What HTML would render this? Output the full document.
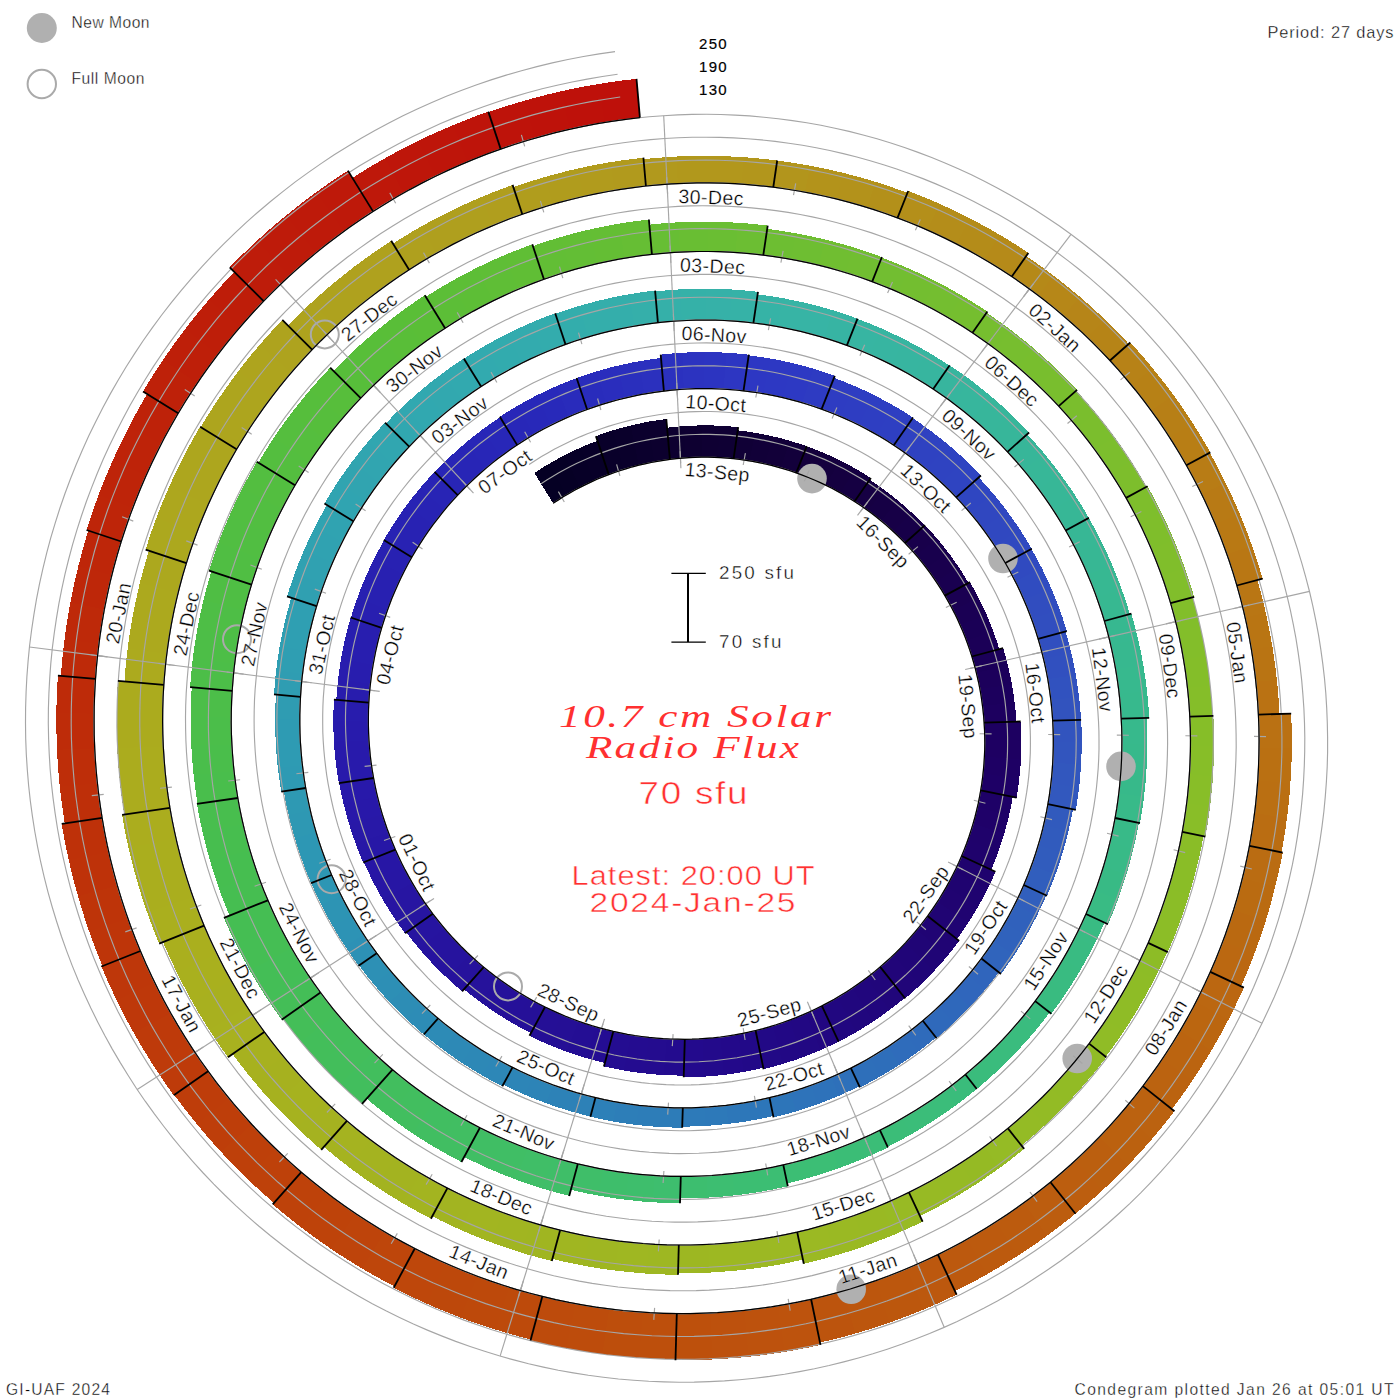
<!DOCTYPE html>
<html><head><meta charset="utf-8"><title>10.7 cm Solar Radio Flux Condegram</title>
<style>
html,body{margin:0;padding:0;background:#fff;}
body{width:1400px;height:1400px;overflow:hidden;font-family:"Liberation Sans",sans-serif;}
svg{display:block;}
text{font-family:"Liberation Sans",sans-serif;}
.ser{font-family:"Liberation Serif",serif;font-style:italic;}
</style></head><body>
<svg width="1400" height="1400" viewBox="0 0 1400 1400">
<rect width="1400" height="1400" fill="#fff"/>
<g shape-rendering="crispEdges">
<polygon points="553.1,503.3 557.5,500.4 561.9,497.7 566.3,495.0 549.4,463.6 544.3,466.6 539.3,469.7 534.4,473.0" fill="#050024"/>
<polygon points="566.3,495.0 570.8,492.3 575.4,489.8 580.0,487.4 564.9,455.1 559.7,457.8 554.5,460.6 549.4,463.6" fill="#060025"/>
<polygon points="580.0,487.4 584.7,485.0 589.4,482.8 594.1,480.6 581.0,447.4 575.6,449.9 570.2,452.4 564.9,455.1" fill="#070027"/>
<polygon points="594.1,480.6 598.9,478.5 603.8,476.5 608.7,474.6 597.4,440.8 591.9,442.9 586.4,445.1 581.0,447.4" fill="#080028"/>
<polygon points="608.7,474.6 613.6,472.8 618.6,471.1 623.6,469.5 613.1,430.3 607.3,432.2 601.6,434.1 595.9,436.1" fill="#09002a"/>
<polygon points="623.6,469.5 628.6,468.0 633.7,466.6 638.8,465.2 630.6,425.5 624.7,427.0 618.9,428.6 613.1,430.3" fill="#0a002b"/>
<polygon points="638.8,465.2 643.9,464.0 649.0,462.9 654.2,461.9 648.3,421.7 642.4,422.9 636.5,424.2 630.6,425.5" fill="#0b002d"/>
<polygon points="654.2,461.9 659.4,460.9 664.6,460.1 669.9,459.4 666.3,419.0 660.3,419.8 654.3,420.7 648.3,421.7" fill="#0c002e"/>
<polygon points="669.9,459.4 675.1,458.8 680.4,458.3 685.7,457.8 684.8,426.0 678.9,426.5 673.0,427.0 667.1,427.7" fill="#0d0030"/>
<polygon points="685.7,457.8 691.0,457.5 696.3,457.3 701.6,457.2 702.5,425.4 696.6,425.5 690.7,425.7 684.8,426.0" fill="#0e0031"/>
<polygon points="701.6,457.2 706.9,457.2 712.3,457.3 717.6,457.5 720.4,425.8 714.4,425.5 708.5,425.4 702.5,425.4" fill="#0f0033"/>
<polygon points="717.6,457.5 722.9,457.8 728.2,458.2 733.6,458.7 738.2,427.2 732.2,426.6 726.3,426.2 720.4,425.8" fill="#0f0034"/>
<polygon points="733.6,458.7 738.9,459.3 744.2,460.0 749.5,460.9 755.2,432.8 749.4,431.9 743.6,431.1 737.7,430.4" fill="#100036"/>
<polygon points="749.5,460.9 754.7,461.8 760.0,462.8 765.2,464.0 772.6,436.3 766.9,435.0 761.1,433.8 755.2,432.8" fill="#110038"/>
<polygon points="765.2,464.0 770.5,465.2 775.7,466.5 780.8,468.0 789.9,440.8 784.1,439.1 778.4,437.7 772.6,436.3" fill="#120039"/>
<polygon points="780.8,468.0 786.0,469.5 791.1,471.1 796.2,472.9 806.8,446.2 801.2,444.3 795.5,442.5 789.9,440.8" fill="#13003b"/>
<polygon points="796.2,472.9 801.3,474.7 806.3,476.7 811.3,478.7 823.4,452.8 817.9,450.5 812.4,448.4 806.8,446.3" fill="#14003c"/>
<polygon points="811.3,478.7 816.3,480.8 821.2,483.1 826.1,485.4 839.7,460.3 834.3,457.7 828.9,455.2 823.4,452.8" fill="#14003e"/>
<polygon points="826.1,485.4 831.0,487.8 835.8,490.4 840.5,493.0 855.5,468.7 850.3,465.8 845.0,463.0 839.7,460.3" fill="#150040"/>
<polygon points="840.5,493.0 845.2,495.7 849.9,498.5 854.5,501.4 870.9,478.0 865.8,474.8 860.7,471.7 855.5,468.7" fill="#150042"/>
<polygon points="854.5,501.4 859.0,504.4 863.5,507.5 868.0,510.6 884.3,489.9 879.5,486.4 874.6,483.1 869.6,479.8" fill="#160043"/>
<polygon points="868.0,510.6 872.3,513.9 876.6,517.2 880.9,520.7 898.5,500.9 893.8,497.2 889.1,493.5 884.3,489.9" fill="#160045"/>
<polygon points="880.9,520.7 885.1,524.2 889.2,527.8 893.3,531.5 911.9,512.8 907.5,508.8 903.0,504.8 898.5,500.9" fill="#170047"/>
<polygon points="893.3,531.5 897.3,535.2 901.2,539.1 905.0,543.0 924.7,525.4 920.5,521.1 916.3,516.9 911.9,512.8" fill="#170049"/>
<polygon points="905.0,543.0 908.8,547.0 912.5,551.1 916.1,555.2 937.1,538.6 933.2,534.0 929.2,529.5 925.0,525.1" fill="#18004b"/>
<polygon points="916.1,555.2 919.6,559.4 923.1,563.7 926.5,568.1 948.4,552.7 944.8,547.9 941.0,543.2 937.1,538.6" fill="#18004d"/>
<polygon points="926.5,568.1 929.8,572.5 933.0,577.0 936.1,581.5 958.9,567.5 955.5,562.5 952.0,557.5 948.4,552.7" fill="#19004e"/>
<polygon points="936.1,581.5 939.1,586.2 942.1,590.8 944.9,595.6 968.5,582.8 965.4,577.7 962.2,572.5 958.9,567.5" fill="#190050"/>
<polygon points="944.9,595.6 947.7,600.4 950.4,605.2 953.0,610.2 978.7,598.1 975.9,592.7 973.0,587.4 970.0,582.1" fill="#1a0052"/>
<polygon points="953.0,610.2 955.5,615.1 957.8,620.1 960.1,625.2 986.6,614.7 984.1,609.1 981.4,603.6 978.7,598.1" fill="#1a0054"/>
<polygon points="960.1,625.2 962.3,630.3 964.5,635.5 966.5,640.7 993.4,631.7 991.3,626.0 989.0,620.3 986.6,614.7" fill="#1a0056"/>
<polygon points="966.5,640.7 968.4,645.9 970.2,651.2 971.9,656.5 999.3,649.2 997.5,643.3 995.5,637.5 993.4,631.7" fill="#1b0057"/>
<polygon points="971.9,656.5 973.5,661.9 975.0,667.3 976.4,672.7 1008.0,666.1 1006.5,660.1 1004.9,654.1 1003.1,648.1" fill="#1b0059"/>
<polygon points="976.4,672.7 977.6,678.1 978.8,683.6 979.9,689.1 1011.9,684.4 1010.7,678.3 1009.4,672.2 1008.0,666.1" fill="#1c005b"/>
<polygon points="979.9,689.1 980.9,694.7 981.7,700.2 982.5,705.8 1014.7,703.0 1013.9,696.8 1013.0,690.6 1011.9,684.4" fill="#1c005d"/>
<polygon points="982.5,705.8 983.1,711.4 983.7,717.0 984.1,722.6 1016.4,721.7 1016.0,715.4 1015.4,709.2 1014.7,703.0" fill="#1d005f"/>
<polygon points="984.1,722.6 984.4,728.2 984.6,733.9 984.7,739.5 1021.4,740.6 1021.3,734.2 1021.1,727.9 1020.7,721.5" fill="#1d0061"/>
<polygon points="984.7,739.5 984.7,745.2 984.6,750.8 984.4,756.5 1020.9,759.7 1021.2,753.3 1021.3,746.9 1021.4,740.6" fill="#1e0062"/>
<polygon points="984.4,756.5 984.1,762.1 983.6,767.8 983.1,773.4 1019.3,778.7 1019.9,772.4 1020.5,766.0 1020.9,759.7" fill="#1e0064"/>
<polygon points="983.1,773.4 982.4,779.1 981.6,784.7 980.7,790.3 1016.6,797.7 1017.6,791.4 1018.5,785.1 1019.3,778.7" fill="#1e0066"/>
<polygon points="980.7,790.3 979.7,795.9 978.6,801.5 977.4,807.1 1009.0,815.5 1010.4,809.3 1011.6,803.1 1012.8,796.9" fill="#1e0167"/>
<polygon points="977.4,807.1 976.1,812.6 974.7,818.1 973.1,823.6 1004.2,833.9 1005.9,827.8 1007.5,821.7 1009.0,815.5" fill="#1f0169"/>
<polygon points="973.1,823.6 971.5,829.1 969.7,834.6 967.9,840.0 998.2,852.0 1000.3,846.0 1002.3,840.0 1004.2,833.9" fill="#1f026b"/>
<polygon points="967.9,840.0 965.9,845.3 963.8,850.7 961.6,856.0 991.3,869.8 993.7,863.9 996.0,858.0 998.2,852.0" fill="#1f026c"/>
<polygon points="961.6,856.0 959.4,861.3 957.0,866.5 954.5,871.7 987.4,889.4 990.2,883.6 992.9,877.7 995.5,871.8" fill="#1f026e"/>
<polygon points="954.5,871.7 951.9,876.8 949.2,881.9 946.4,886.9 978.2,906.5 981.4,900.9 984.4,895.1 987.4,889.4" fill="#1f0370"/>
<polygon points="946.4,886.9 943.5,891.9 940.5,896.8 937.4,901.7 968.0,923.1 971.5,917.7 974.9,912.1 978.2,906.5" fill="#200371"/>
<polygon points="937.4,901.7 934.3,906.5 931.0,911.3 927.6,916.0 956.9,939.1 960.7,933.9 964.4,928.5 968.0,923.1" fill="#200473"/>
<polygon points="927.6,916.0 924.1,920.6 920.6,925.2 916.9,929.7 947.0,956.4 951.2,951.4 955.2,946.2 959.2,940.9" fill="#200474"/>
<polygon points="916.9,929.7 913.2,934.1 909.4,938.5 905.5,942.8 933.9,971.2 938.4,966.4 942.7,961.5 947.0,956.4" fill="#200576"/>
<polygon points="905.5,942.8 901.5,947.0 897.4,951.2 893.2,955.2 920.0,985.3 924.7,980.7 929.4,976.0 933.9,971.2" fill="#200578"/>
<polygon points="893.2,955.2 889.0,959.2 884.6,963.1 880.2,966.9 905.2,998.5 910.2,994.2 915.1,989.8 920.0,985.3" fill="#210579"/>
<polygon points="880.2,966.9 875.8,970.7 871.2,974.3 866.6,977.9 889.2,1010.2 894.5,1006.2 899.6,1002.1 904.7,997.9" fill="#21067b"/>
<polygon points="866.6,977.9 861.9,981.4 857.1,984.8 852.3,988.1 873.0,1021.7 878.5,1018.0 883.9,1014.2 889.2,1010.2" fill="#21067d"/>
<polygon points="852.3,988.1 847.4,991.3 842.4,994.4 837.4,997.4 856.1,1032.2 861.8,1028.8 867.4,1025.3 873.0,1021.7" fill="#21077e"/>
<polygon points="837.4,997.4 832.3,1000.3 827.1,1003.2 821.9,1005.9 838.6,1041.7 844.5,1038.6 850.3,1035.5 856.1,1032.2" fill="#210780"/>
<polygon points="821.9,1005.9 816.6,1008.5 811.3,1011.1 805.9,1013.5 820.5,1050.1 826.6,1047.4 832.6,1044.6 838.6,1041.6" fill="#220781"/>
<polygon points="805.9,1013.5 800.5,1015.8 795.0,1018.0 789.5,1020.1 801.9,1057.6 808.2,1055.2 814.4,1052.7 820.5,1050.1" fill="#220883"/>
<polygon points="789.5,1020.1 784.0,1022.1 778.4,1024.0 772.7,1025.8 782.9,1063.9 789.3,1061.9 795.7,1059.8 801.9,1057.6" fill="#220885"/>
<polygon points="772.7,1025.8 767.0,1027.5 761.3,1029.1 755.6,1030.5 763.6,1069.2 770.1,1067.6 776.5,1065.8 782.9,1063.9" fill="#220986"/>
<polygon points="755.6,1030.5 749.8,1031.9 744.0,1033.1 738.2,1034.3 743.7,1071.9 750.2,1070.7 756.8,1069.3 763.3,1067.8" fill="#220988"/>
<polygon points="738.2,1034.3 732.3,1035.3 726.4,1036.2 720.5,1037.0 723.8,1074.9 730.5,1074.0 737.1,1073.0 743.7,1071.9" fill="#23098a"/>
<polygon points="720.5,1037.0 714.6,1037.6 708.7,1038.2 702.7,1038.6 703.8,1076.7 710.5,1076.2 717.2,1075.6 723.8,1074.9" fill="#230a8b"/>
<polygon points="702.7,1038.6 696.7,1039.0 690.8,1039.2 684.8,1039.3 683.7,1077.3 690.4,1077.2 697.1,1077.0 703.8,1076.7" fill="#230a8d"/>
<polygon points="684.8,1039.3 678.8,1039.3 672.8,1039.1 666.8,1038.9 663.7,1075.0 670.4,1075.3 677.0,1075.5 683.7,1075.6" fill="#230b8e"/>
<polygon points="666.8,1038.9 660.8,1038.5 654.9,1038.0 648.9,1037.4 643.6,1073.3 650.3,1074.0 657.0,1074.6 663.7,1075.0" fill="#240c8f"/>
<polygon points="648.9,1037.4 642.9,1036.7 637.0,1035.9 631.0,1034.9 623.7,1070.5 630.3,1071.5 637.0,1072.5 643.6,1073.3" fill="#240c90"/>
<polygon points="631.0,1034.9 625.1,1033.9 619.2,1032.7 613.3,1031.4 603.9,1066.4 610.5,1067.9 617.1,1069.2 623.7,1070.5" fill="#240d91"/>
<polygon points="613.3,1031.4 607.4,1030.0 601.6,1028.4 595.8,1026.8 585.5,1057.9 591.9,1059.7 598.3,1061.4 604.8,1063.0" fill="#240d93"/>
<polygon points="595.8,1026.8 590.0,1025.0 584.2,1023.2 578.5,1021.2 566.4,1051.6 572.7,1053.8 579.1,1055.9 585.5,1057.9" fill="#240e94"/>
<polygon points="578.5,1021.2 572.8,1019.1 567.2,1016.9 561.6,1014.6 547.7,1044.3 553.9,1046.8 560.2,1049.3 566.4,1051.6" fill="#250f95"/>
<polygon points="561.6,1014.6 556.0,1012.2 550.5,1009.6 545.0,1007.0 529.5,1035.8 535.5,1038.7 541.6,1041.6 547.7,1044.3" fill="#250f96"/>
<polygon points="545.0,1007.0 539.6,1004.2 534.2,1001.4 528.9,998.4 513.3,1023.6 519.2,1026.9 525.0,1030.0 531.0,1033.0" fill="#251098"/>
<polygon points="528.9,998.4 523.6,995.3 518.4,992.2 513.3,988.9 496.3,1013.1 501.9,1016.7 507.6,1020.2 513.3,1023.6" fill="#251099"/>
<polygon points="513.3,988.9 508.2,985.5 503.1,982.0 498.2,978.5 479.8,1001.7 485.2,1005.6 490.7,1009.4 496.3,1013.1" fill="#25119a"/>
<polygon points="498.2,978.5 493.3,974.8 488.5,971.0 483.7,967.1 464.0,989.3 469.2,993.5 474.5,997.7 479.8,1001.7" fill="#26129b"/>
<polygon points="483.7,967.1 479.0,963.2 474.4,959.1 469.9,955.0 447.0,977.9 451.9,982.5 457.0,987.0 462.1,991.4" fill="#26129c"/>
<polygon points="469.9,955.0 465.4,950.8 461.1,946.4 456.8,942.0 432.5,963.6 437.3,968.5 442.1,973.2 447.0,977.9" fill="#26139e"/>
<polygon points="456.8,942.0 452.6,937.5 448.4,932.9 444.4,928.3 419.0,948.4 423.4,953.6 427.9,958.6 432.5,963.6" fill="#26139f"/>
<polygon points="444.4,928.3 440.5,923.5 436.6,918.7 432.8,913.8 406.3,932.4 410.4,937.8 414.6,943.2 419.0,948.4" fill="#2614a0"/>
<polygon points="432.8,913.8 429.2,908.8 425.6,903.8 422.1,898.7 393.3,916.5 397.1,922.2 401.0,927.8 405.1,933.3" fill="#2715a1"/>
<polygon points="422.1,898.7 418.7,893.5 415.5,888.2 412.3,882.9 382.4,899.0 385.9,904.9 389.5,910.7 393.3,916.5" fill="#2715a2"/>
<polygon points="412.3,882.9 409.2,877.5 406.2,872.1 403.4,866.5 372.6,880.9 375.8,887.0 379.0,893.0 382.4,899.0" fill="#2716a4"/>
<polygon points="403.4,866.5 400.6,861.0 397.9,855.4 395.4,849.7 363.9,862.2 366.7,868.5 369.6,874.7 372.6,880.9" fill="#2716a5"/>
<polygon points="395.4,849.7 392.9,843.9 390.6,838.2 388.4,832.3 355.5,843.2 357.9,849.7 360.5,856.1 363.2,862.5" fill="#2717a6"/>
<polygon points="388.4,832.3 386.3,826.4 384.3,820.5 382.4,814.6 348.9,823.5 351.0,830.2 353.2,836.7 355.5,843.2" fill="#2818a7"/>
<polygon points="382.4,814.6 380.6,808.6 379.0,802.5 377.5,796.5 343.5,803.5 345.2,810.2 347.0,816.9 348.9,823.5" fill="#2818a9"/>
<polygon points="377.5,796.5 376.0,790.3 374.7,784.2 373.6,778.0 339.2,783.1 340.5,789.9 341.9,796.7 343.5,803.5" fill="#2819aa"/>
<polygon points="373.6,778.0 372.5,771.9 371.6,765.6 370.7,759.4 335.8,762.5 336.7,769.4 337.7,776.3 338.9,783.1" fill="#281aab"/>
<polygon points="370.7,759.4 370.0,753.2 369.5,746.9 369.0,740.6 334.0,741.6 334.4,748.6 335.1,755.5 335.8,762.5" fill="#281aab"/>
<polygon points="369.0,740.6 368.7,734.3 368.5,728.0 368.4,721.7 333.3,720.7 333.4,727.7 333.6,734.6 334.0,741.6" fill="#281bac"/>
<polygon points="368.4,721.7 368.4,715.4 368.6,709.1 368.8,702.7 333.9,699.7 333.6,706.7 333.4,713.7 333.3,720.7" fill="#281cad"/>
<polygon points="368.8,702.7 369.2,696.4 369.8,690.1 370.4,683.8 338.1,679.1 337.4,686.0 336.8,692.9 336.3,699.9" fill="#281cad"/>
<polygon points="370.4,683.8 371.2,677.5 372.1,671.2 373.1,665.0 341.1,658.4 340.0,665.2 339.0,672.1 338.1,679.1" fill="#281dae"/>
<polygon points="373.1,665.0 374.2,658.7 375.5,652.5 376.9,646.3 345.3,637.8 343.8,644.6 342.4,651.5 341.1,658.4" fill="#281eaf"/>
<polygon points="376.9,646.3 378.4,640.1 380.0,633.9 381.7,627.8 350.7,617.5 348.8,624.2 347.0,631.0 345.3,637.8" fill="#281eaf"/>
<polygon points="381.7,627.8 383.6,621.7 385.6,615.6 387.7,609.6 357.5,597.6 355.1,604.2 352.9,610.9 350.9,617.6" fill="#281fb0"/>
<polygon points="387.7,609.6 389.9,603.6 392.2,597.6 394.7,591.7 365.2,578.0 362.5,584.5 359.9,591.0 357.5,597.6" fill="#2820b1"/>
<polygon points="394.7,591.7 397.2,585.9 399.9,580.0 402.7,574.3 374.1,558.8 371.0,565.2 368.1,571.6 365.2,578.0" fill="#2820b1"/>
<polygon points="402.7,574.3 405.6,568.6 408.7,562.9 411.8,557.3 384.1,540.2 380.7,546.4 377.3,552.6 374.1,558.8" fill="#2821b2"/>
<polygon points="411.8,557.3 415.0,551.7 418.4,546.2 421.9,540.8 394.9,522.0 391.1,527.9 387.4,534.0 383.8,540.0" fill="#2822b3"/>
<polygon points="421.9,540.8 425.4,535.5 429.1,530.2 432.9,524.9 407.1,504.6 402.9,510.3 398.9,516.1 394.9,522.0" fill="#2822b3"/>
<polygon points="432.9,524.9 436.8,519.8 440.8,514.7 444.8,509.7 420.3,487.9 415.8,493.4 411.4,498.9 407.1,504.6" fill="#2823b4"/>
<polygon points="444.8,509.7 449.0,504.8 453.3,499.9 457.7,495.2 434.5,471.9 429.6,477.2 424.9,482.5 420.3,487.9" fill="#2824b5"/>
<polygon points="457.7,495.2 462.2,490.5 466.7,485.9 471.4,481.4 449.7,457.1 444.6,462.0 439.6,467.0 434.7,472.1" fill="#2825b6"/>
<polygon points="471.4,481.4 476.1,476.9 481.0,472.6 485.9,468.4 465.7,442.8 460.3,447.5 455.0,452.2 449.7,457.1" fill="#2825b6"/>
<polygon points="485.9,468.4 490.9,464.2 496.0,460.2 501.1,456.2 482.5,429.5 476.8,433.9 471.2,438.3 465.7,442.8" fill="#2826b7"/>
<polygon points="501.1,456.2 506.4,452.3 511.7,448.6 517.1,444.9 500.0,417.2 494.1,421.2 488.2,425.3 482.5,429.5" fill="#2827b8"/>
<polygon points="517.1,444.9 522.6,441.4 528.1,437.9 533.8,434.6 518.1,405.5 511.9,409.1 505.8,412.9 499.8,416.8" fill="#2827b8"/>
<polygon points="533.8,434.6 539.4,431.4 545.2,428.2 551.0,425.2 537.0,395.2 530.6,398.5 524.3,401.9 518.1,405.5" fill="#2828b9"/>
<polygon points="551.0,425.2 556.9,422.3 562.8,419.5 568.8,416.8 556.6,386.1 550.0,389.0 543.5,392.1 537.0,395.2" fill="#2829ba"/>
<polygon points="568.8,416.8 574.8,414.3 580.9,411.8 587.1,409.5 576.7,378.1 569.9,380.6 563.2,383.3 556.6,386.1" fill="#292bbb"/>
<polygon points="587.1,409.5 593.3,407.3 599.5,405.2 605.8,403.2 597.2,371.2 590.3,373.4 583.5,375.6 576.6,378.0" fill="#292cbc"/>
<polygon points="605.8,403.2 612.1,401.4 618.5,399.7 624.9,398.1 618.2,365.6 611.1,367.3 604.2,369.2 597.2,371.2" fill="#2a2dbd"/>
<polygon points="624.9,398.1 631.3,396.6 637.8,395.2 644.3,394.0 639.5,361.2 632.3,362.5 625.2,364.0 618.2,365.6" fill="#2a2fbd"/>
<polygon points="644.3,394.0 650.8,392.9 657.3,391.9 663.9,391.1 661.0,358.0 653.8,358.9 646.6,360.0 639.5,361.2" fill="#2b30be"/>
<polygon points="663.9,391.1 670.5,390.3 677.1,389.7 683.7,389.3 682.6,352.7 675.3,353.2 668.0,353.9 660.7,354.6" fill="#2b31bf"/>
<polygon points="683.7,389.3 690.3,388.9 697.0,388.7 703.6,388.6 704.7,352.1 697.3,352.2 690.0,352.4 682.6,352.7" fill="#2c33c0"/>
<polygon points="703.6,388.6 710.3,388.7 716.9,388.8 723.6,389.2 726.7,352.7 719.4,352.4 712.0,352.2 704.7,352.1" fill="#2c34c1"/>
<polygon points="723.6,389.2 730.2,389.6 736.9,390.1 743.5,390.8 748.8,354.7 741.4,353.9 734.1,353.2 726.7,352.7" fill="#2d36c2"/>
<polygon points="743.5,390.8 750.1,391.7 756.7,392.6 763.3,393.7 770.6,358.6 763.3,357.3 756.0,356.3 748.7,355.4" fill="#2d37c3"/>
<polygon points="763.3,393.7 769.9,394.9 776.4,396.2 783.0,397.7 792.3,363.0 785.0,361.4 777.8,359.9 770.6,358.6" fill="#2d38c3"/>
<polygon points="783.0,397.7 789.5,399.3 796.0,401.0 802.4,402.8 813.7,368.8 806.6,366.7 799.4,364.8 792.3,363.0" fill="#2d39c3"/>
<polygon points="802.4,402.8 808.8,404.8 815.2,406.9 821.6,409.1 834.8,375.8 827.8,373.3 820.8,371.0 813.7,368.8" fill="#2e3bc2"/>
<polygon points="821.6,409.1 827.9,411.5 834.1,413.9 840.3,416.5 854.5,386.0 847.7,383.2 840.9,380.4 834.0,377.9" fill="#2e3cc2"/>
<polygon points="840.3,416.5 846.5,419.2 852.6,422.1 858.7,425.0 874.6,395.4 868.0,392.1 861.3,389.0 854.5,386.0" fill="#2e3dc2"/>
<polygon points="858.7,425.0 864.7,428.1 870.6,431.3 876.5,434.6 894.2,406.0 887.7,402.3 881.2,398.8 874.6,395.4" fill="#2e3ec2"/>
<polygon points="876.5,434.6 882.3,438.0 888.1,441.6 893.8,445.2 913.1,417.6 906.9,413.6 900.6,409.7 894.2,406.0" fill="#2e3fc2"/>
<polygon points="893.8,445.2 899.4,449.0 905.0,452.8 910.5,456.8 930.9,431.0 924.9,426.6 918.9,422.3 912.7,418.2" fill="#2f41c1"/>
<polygon points="910.5,456.8 915.9,460.9 921.2,465.1 926.5,469.4 948.4,444.8 942.7,440.1 936.8,435.5 930.9,431.0" fill="#2f42c1"/>
<polygon points="926.5,469.4 931.7,473.8 936.8,478.3 941.8,483.0 965.1,459.6 959.6,454.6 954.1,449.6 948.4,444.8" fill="#2f43c1"/>
<polygon points="941.8,483.0 946.7,487.7 951.5,492.5 956.2,497.4 980.9,475.5 975.7,470.1 970.4,464.8 965.1,459.6" fill="#2f44c1"/>
<polygon points="956.2,497.4 960.9,502.4 965.4,507.5 969.9,512.6 993.5,494.0 988.7,488.4 983.7,482.8 978.7,477.4" fill="#2f46c1"/>
<polygon points="969.9,512.6 974.2,517.9 978.5,523.3 982.6,528.7 1007.3,511.5 1002.8,505.5 998.2,499.7 993.5,494.0" fill="#3047c0"/>
<polygon points="982.6,528.7 986.7,534.2 990.6,539.8 994.5,545.5 1020.1,529.7 1015.9,523.6 1011.7,517.5 1007.3,511.5" fill="#3048c0"/>
<polygon points="994.5,545.5 998.2,551.3 1001.8,557.1 1005.3,563.0 1031.8,548.7 1028.0,542.3 1024.1,536.0 1020.1,529.7" fill="#3049c0"/>
<polygon points="1005.3,563.0 1008.7,569.0 1012.0,575.0 1015.1,581.2 1042.1,568.6 1038.7,562.0 1035.1,555.4 1031.5,548.9" fill="#304ac0"/>
<polygon points="1015.1,581.2 1018.2,587.3 1021.1,593.6 1023.9,599.9 1051.5,588.9 1048.5,582.1 1045.3,575.3 1042.1,568.6" fill="#304cc0"/>
<polygon points="1023.9,599.9 1026.6,606.2 1029.1,612.6 1031.6,619.1 1059.8,609.7 1057.2,602.7 1054.4,595.8 1051.5,588.9" fill="#314dbf"/>
<polygon points="1031.6,619.1 1033.9,625.6 1036.1,632.1 1038.1,638.8 1066.8,631.1 1064.6,623.9 1062.3,616.8 1059.8,609.7" fill="#314ebf"/>
<polygon points="1038.1,638.8 1040.1,645.4 1041.9,652.1 1043.5,658.8 1071.3,653.1 1069.5,645.8 1067.6,638.6 1065.5,631.4" fill="#314fbf"/>
<polygon points="1043.5,658.8 1045.1,665.6 1046.5,672.4 1047.8,679.2 1075.8,675.1 1074.5,667.7 1073.0,660.4 1071.3,653.1" fill="#3150bf"/>
<polygon points="1047.8,679.2 1048.9,686.0 1049.9,692.9 1050.8,699.8 1079.1,697.3 1078.1,689.9 1077.1,682.5 1075.8,675.1" fill="#3152bf"/>
<polygon points="1050.8,699.8 1051.6,706.7 1052.2,713.6 1052.7,720.6 1081.0,719.8 1080.5,712.3 1079.9,704.8 1079.1,697.3" fill="#3253be"/>
<polygon points="1052.7,720.6 1053.0,727.6 1053.2,734.5 1053.3,741.5 1081.7,742.3 1081.7,734.8 1081.5,727.3 1081.1,719.8" fill="#3254be"/>
<polygon points="1053.3,741.5 1053.3,748.5 1053.1,755.5 1052.7,762.5 1081.1,764.9 1081.4,757.4 1081.7,749.9 1081.7,742.3" fill="#3255be"/>
<polygon points="1052.7,762.5 1052.3,769.4 1051.7,776.4 1050.9,783.4 1079.1,787.5 1079.9,780.0 1080.5,772.5 1081.1,764.9" fill="#3257be"/>
<polygon points="1050.9,783.4 1050.1,790.3 1049.1,797.3 1047.9,804.2 1075.8,809.9 1077.0,802.5 1078.1,795.0 1079.1,787.5" fill="#3258be"/>
<polygon points="1047.9,804.2 1046.6,811.1 1045.2,818.0 1043.7,824.8 1068.4,831.4 1070.0,824.1 1071.6,816.7 1073.0,809.3" fill="#315abd"/>
<polygon points="1043.7,824.8 1042.0,831.6 1040.2,838.4 1038.2,845.2 1062.5,853.2 1064.6,846.0 1066.6,838.7 1068.4,831.4" fill="#315bbd"/>
<polygon points="1038.2,845.2 1036.2,851.9 1034.0,858.6 1031.6,865.3 1055.4,874.7 1057.9,867.6 1060.3,860.4 1062.5,853.2" fill="#315cbd"/>
<polygon points="1031.6,865.3 1029.1,871.9 1026.5,878.5 1023.8,885.0 1047.0,895.8 1049.9,888.8 1052.7,881.8 1055.4,874.7" fill="#315ebd"/>
<polygon points="1023.8,885.0 1021.0,891.4 1018.0,897.8 1014.9,904.2 1036.8,916.0 1040.1,909.2 1043.3,902.4 1046.4,895.5" fill="#315fbd"/>
<polygon points="1014.9,904.2 1011.6,910.5 1008.3,916.7 1004.8,922.9 1026.0,936.0 1029.7,929.4 1033.3,922.8 1036.8,916.0" fill="#3061bc"/>
<polygon points="1004.8,922.9 1001.2,929.0 997.5,935.1 993.6,941.0 1014.1,955.3 1018.2,949.0 1022.2,942.5 1026.0,936.0" fill="#3062bc"/>
<polygon points="993.6,941.0 989.7,946.9 985.6,952.8 981.4,958.5 1001.0,974.0 1005.5,967.9 1009.8,961.6 1014.1,955.3" fill="#3064bc"/>
<polygon points="981.4,958.5 977.1,964.2 972.7,969.8 968.2,975.3 984.8,990.1 989.6,984.3 994.3,978.3 998.9,972.3" fill="#3065bc"/>
<polygon points="968.2,975.3 963.6,980.7 958.8,986.0 954.0,991.3 969.7,1007.0 974.9,1001.5 979.9,995.8 984.8,990.1" fill="#3066bc"/>
<polygon points="954.0,991.3 949.0,996.4 944.0,1001.5 938.8,1006.5 953.6,1023.1 959.1,1017.8 964.5,1012.5 969.7,1007.0" fill="#2f68bb"/>
<polygon points="938.8,1006.5 933.6,1011.3 928.2,1016.1 922.8,1020.7 936.6,1038.2 942.4,1033.3 948.1,1028.2 953.6,1023.1" fill="#2f69bb"/>
<polygon points="922.8,1020.7 917.3,1025.3 911.6,1029.8 905.9,1034.1 918.2,1051.6 924.2,1047.0 930.2,1042.3 936.1,1037.5" fill="#2f6bbb"/>
<polygon points="905.9,1034.1 900.1,1038.3 894.3,1042.5 888.3,1046.5 899.5,1064.7 905.8,1060.4 912.1,1056.1 918.2,1051.6" fill="#2f6cbb"/>
<polygon points="888.3,1046.5 882.2,1050.4 876.1,1054.1 869.9,1057.8 880.1,1076.6 886.6,1072.8 893.1,1068.8 899.5,1064.7" fill="#2e6eba"/>
<polygon points="869.9,1057.8 863.7,1061.3 857.3,1064.8 850.9,1068.1 859.9,1087.4 866.7,1084.0 873.4,1080.4 880.1,1076.6" fill="#2e6fba"/>
<polygon points="850.9,1068.1 844.4,1071.2 837.9,1074.3 831.3,1077.2 838.7,1095.9 845.7,1092.8 852.6,1089.6 859.4,1086.3" fill="#2e70ba"/>
<polygon points="831.3,1077.2 824.6,1080.0 817.9,1082.7 811.1,1085.2 817.4,1104.3 824.6,1101.6 831.7,1098.8 838.7,1095.9" fill="#2e72ba"/>
<polygon points="811.1,1085.2 804.3,1087.7 797.4,1089.9 790.5,1092.1 795.7,1111.5 803.0,1109.2 810.2,1106.8 817.4,1104.3" fill="#2e73ba"/>
<polygon points="790.5,1092.1 783.5,1094.1 776.5,1096.0 769.5,1097.7 773.5,1117.4 781.0,1115.6 788.3,1113.6 795.7,1111.5" fill="#2d75b9"/>
<polygon points="769.5,1097.7 762.4,1099.3 755.3,1100.8 748.1,1102.1 750.8,1120.6 758.3,1119.2 765.8,1117.7 773.2,1116.0" fill="#2d76b9"/>
<polygon points="748.1,1102.1 740.9,1103.3 733.7,1104.4 726.5,1105.3 728.1,1123.9 735.7,1123.0 743.3,1121.9 750.8,1120.6" fill="#2d77b9"/>
<polygon points="726.5,1105.3 719.3,1106.1 712.0,1106.7 704.7,1107.2 705.3,1125.9 712.9,1125.4 720.5,1124.7 728.1,1123.9" fill="#2d79b9"/>
<polygon points="704.7,1107.2 697.4,1107.6 690.1,1107.8 682.8,1107.9 682.3,1126.5 689.9,1126.5 697.6,1126.2 705.3,1125.9" fill="#2d7ab9"/>
<polygon points="682.8,1107.9 675.5,1107.8 668.2,1107.6 660.9,1107.2 659.1,1127.0 666.8,1127.3 674.5,1127.6 682.2,1127.7" fill="#2d7cb8"/>
<polygon points="660.9,1107.2 653.5,1106.7 646.2,1106.1 638.9,1105.3 636.1,1124.9 643.8,1125.7 651.4,1126.4 659.1,1127.0" fill="#2d7db8"/>
<polygon points="638.9,1105.3 631.7,1104.4 624.4,1103.3 617.2,1102.1 613.2,1121.5 620.8,1122.8 628.4,1123.9 636.1,1124.9" fill="#2d7eb8"/>
<polygon points="617.2,1102.1 609.9,1100.8 602.7,1099.3 595.5,1097.6 590.4,1116.8 598.0,1118.5 605.5,1120.1 613.2,1121.5" fill="#2d80b8"/>
<polygon points="595.5,1097.6 588.4,1095.9 581.3,1094.0 574.2,1091.9 568.0,1110.5 575.5,1112.7 583.0,1114.7 590.5,1116.6" fill="#2d81b7"/>
<polygon points="574.2,1091.9 567.2,1089.7 560.2,1087.4 553.2,1085.0 546.0,1103.2 553.3,1105.8 560.6,1108.2 568.0,1110.5" fill="#2d82b7"/>
<polygon points="553.2,1085.0 546.3,1082.4 539.4,1079.6 532.6,1076.8 524.3,1094.5 531.5,1097.5 538.7,1100.4 546.0,1103.2" fill="#2d84b7"/>
<polygon points="532.6,1076.8 525.8,1073.8 519.1,1070.6 512.5,1067.4 503.2,1084.6 510.2,1088.0 517.2,1091.3 524.3,1094.5" fill="#2d85b7"/>
<polygon points="512.5,1067.4 505.9,1064.0 499.3,1060.4 492.9,1056.8 481.6,1075.1 488.4,1078.9 495.3,1082.7 502.3,1086.3" fill="#2d87b7"/>
<polygon points="492.9,1056.8 486.5,1053.0 480.2,1049.1 473.9,1045.1 461.6,1062.7 468.2,1066.9 474.9,1071.1 481.6,1075.1" fill="#2d88b6"/>
<polygon points="473.9,1045.1 467.7,1040.9 461.7,1036.7 455.6,1032.3 442.3,1049.1 448.7,1053.8 455.1,1058.3 461.6,1062.7" fill="#2d89b6"/>
<polygon points="455.6,1032.3 449.7,1027.8 443.9,1023.1 438.1,1018.4 423.8,1034.4 429.9,1039.4 436.1,1044.3 442.3,1049.1" fill="#2d8bb6"/>
<polygon points="438.1,1018.4 432.4,1013.5 426.9,1008.6 421.4,1003.5 406.2,1018.7 412.0,1024.1 417.8,1029.3 423.8,1034.5" fill="#2d8cb6"/>
<polygon points="421.4,1003.5 416.0,998.3 410.7,993.0 405.5,987.6 389.5,1001.9 394.9,1007.6 400.5,1013.2 406.2,1018.7" fill="#2d8db5"/>
<polygon points="405.5,987.6 400.5,982.1 395.5,976.5 390.6,970.8 373.7,984.2 378.9,990.2 384.1,996.1 389.5,1001.9" fill="#2d8fb5"/>
<polygon points="390.6,970.8 385.8,965.0 381.2,959.2 376.7,953.2 359.1,965.5 363.8,971.8 368.7,978.0 373.7,984.2" fill="#2d90b5"/>
<polygon points="376.7,953.2 372.2,947.1 367.9,940.9 363.7,934.7 345.0,946.2 349.4,952.8 354.0,959.4 358.6,965.8" fill="#2d91b5"/>
<polygon points="363.7,934.7 359.7,928.4 355.7,922.0 351.9,915.5 332.6,925.9 336.6,932.8 340.7,939.5 345.0,946.2" fill="#2d93b5"/>
<polygon points="351.9,915.5 348.2,908.9 344.6,902.3 341.2,895.5 321.3,904.8 324.9,911.9 328.7,919.0 332.6,925.9" fill="#2d94b4"/>
<polygon points="341.2,895.5 337.9,888.8 334.7,881.9 331.6,875.0 311.2,883.1 314.4,890.4 317.8,897.7 321.3,904.8" fill="#2d96b4"/>
<polygon points="331.6,875.0 328.7,868.0 325.9,861.0 323.3,853.9 302.3,860.9 305.0,868.4 308.0,875.8 311.1,883.2" fill="#2d97b4"/>
<polygon points="323.3,853.9 320.8,846.8 318.4,839.6 316.1,832.3 294.8,838.1 297.1,845.7 299.6,853.3 302.3,860.9" fill="#2d97b4"/>
<polygon points="316.1,832.3 314.0,825.0 312.1,817.7 310.3,810.3 288.6,814.8 290.5,822.6 292.6,830.4 294.8,838.1" fill="#2e98b3"/>
<polygon points="310.3,810.3 308.6,802.9 307.1,795.5 305.7,788.0 283.8,791.2 285.2,799.1 286.8,807.0 288.6,814.8" fill="#2e99b3"/>
<polygon points="305.7,788.0 304.4,780.5 303.4,773.0 302.4,765.4 277.8,767.6 278.8,775.6 280.0,783.6 281.3,791.6" fill="#2e9ab3"/>
<polygon points="302.4,765.4 301.6,757.8 300.9,750.2 300.4,742.6 275.8,743.3 276.3,751.4 277.0,759.5 277.8,767.6" fill="#2e9bb3"/>
<polygon points="300.4,742.6 300.1,735.0 299.9,727.3 299.8,719.7 275.2,719.0 275.2,727.1 275.4,735.2 275.8,743.3" fill="#2e9bb3"/>
<polygon points="299.8,719.7 299.9,712.1 300.1,704.4 300.5,696.8 275.9,694.6 275.5,702.7 275.3,710.9 275.2,719.0" fill="#2f9cb2"/>
<polygon points="300.5,696.8 301.0,689.1 301.7,681.5 302.5,673.9 276.2,670.0 275.3,678.1 274.6,686.3 274.0,694.4" fill="#2f9db2"/>
<polygon points="302.5,673.9 303.5,666.3 304.6,658.7 305.9,651.1 279.8,645.7 278.5,653.8 277.3,661.9 276.2,670.0" fill="#2f9eb2"/>
<polygon points="305.9,651.1 307.3,643.5 308.9,636.0 310.6,628.5 284.9,621.6 283.1,629.6 281.4,637.7 279.8,645.7" fill="#2f9fb2"/>
<polygon points="310.6,628.5 312.4,621.0 314.5,613.6 316.6,606.2 291.3,597.8 289.0,605.7 286.9,613.7 284.9,621.6" fill="#2f9fb2"/>
<polygon points="316.6,606.2 318.9,598.9 321.3,591.5 323.9,584.3 295.0,572.8 292.2,580.6 289.5,588.5 287.0,596.4" fill="#30a0b1"/>
<polygon points="323.9,584.3 326.6,577.0 329.5,569.9 332.5,562.7 304.3,549.6 301.0,557.3 297.9,565.0 295.0,572.8" fill="#30a1b1"/>
<polygon points="332.5,562.7 335.6,555.7 338.9,548.7 342.3,541.7 314.9,526.9 311.2,534.4 307.7,542.0 304.3,549.6" fill="#30a2b1"/>
<polygon points="342.3,541.7 345.9,534.8 349.6,528.0 353.4,521.3 326.9,504.9 322.8,512.2 318.8,519.5 314.9,526.9" fill="#30a3b1"/>
<polygon points="353.4,521.3 357.4,514.6 361.4,508.0 365.7,501.5 337.8,482.0 333.2,489.0 328.7,496.2 324.4,503.4" fill="#30a4b1"/>
<polygon points="365.7,501.5 370.0,495.0 374.5,488.7 379.1,482.4 352.4,461.3 347.4,468.1 342.5,475.0 337.8,482.0" fill="#31a4b0"/>
<polygon points="379.1,482.4 383.8,476.2 388.6,470.1 393.6,464.1 368.2,441.5 362.8,448.0 357.5,454.6 352.4,461.3" fill="#31a5b0"/>
<polygon points="393.6,464.1 398.7,458.2 403.9,452.4 409.2,446.7 385.1,422.6 379.3,428.8 373.7,435.1 368.2,441.5" fill="#31a6b0"/>
<polygon points="409.2,446.7 414.6,441.0 420.1,435.5 425.8,430.1 403.8,405.5 397.7,411.3 391.7,417.3 385.8,423.3" fill="#31a7b0"/>
<polygon points="425.8,430.1 431.5,424.8 437.4,419.6 443.3,414.6 422.9,388.7 416.4,394.1 410.1,399.8 403.8,405.5" fill="#31a8b0"/>
<polygon points="443.3,414.6 449.4,409.6 455.5,404.7 461.8,400.0 442.9,373.0 436.1,378.1 429.4,383.3 422.9,388.7" fill="#32a8af"/>
<polygon points="461.8,400.0 468.1,395.4 474.6,390.9 481.1,386.5 463.8,358.5 456.7,363.2 449.7,368.0 442.9,373.0" fill="#32a9af"/>
<polygon points="481.1,386.5 487.7,382.3 494.4,378.2 501.2,374.2 485.6,345.4 478.3,349.7 471.0,354.1 463.9,358.7" fill="#32aaaf"/>
<polygon points="501.2,374.2 508.1,370.4 515.0,366.6 522.0,363.0 508.1,333.3 500.6,337.2 493.1,341.2 485.6,345.4" fill="#32abae"/>
<polygon points="522.0,363.0 529.1,359.6 536.2,356.3 543.5,353.1 531.4,322.6 523.5,326.1 515.8,329.6 508.1,333.3" fill="#33abae"/>
<polygon points="543.5,353.1 550.7,350.1 558.1,347.2 565.5,344.4 555.2,313.3 547.2,316.2 539.2,319.4 531.4,322.6" fill="#33acad"/>
<polygon points="565.5,344.4 573.0,341.8 580.5,339.3 588.0,337.0 579.7,305.8 571.5,308.3 563.4,310.9 555.3,313.8" fill="#33adac"/>
<polygon points="588.0,337.0 595.6,334.8 603.3,332.8 611.0,330.9 604.5,299.3 596.2,301.3 587.9,303.5 579.7,305.8" fill="#34aeab"/>
<polygon points="611.0,330.9 618.7,329.1 626.5,327.6 634.3,326.1 629.6,294.2 621.2,295.7 612.8,297.4 604.5,299.3" fill="#34aeab"/>
<polygon points="634.3,326.1 642.2,324.8 650.0,323.7 657.9,322.7 655.1,290.6 646.6,291.6 638.1,292.8 629.6,294.2" fill="#35afaa"/>
<polygon points="657.9,322.7 665.8,321.9 673.7,321.2 681.7,320.7 680.8,289.3 672.2,289.9 663.7,290.6 655.2,291.4" fill="#35b0a9"/>
<polygon points="681.7,320.7 689.7,320.3 697.6,320.1 705.6,320.1 706.5,288.7 697.9,288.7 689.3,288.9 680.8,289.3" fill="#35b1a8"/>
<polygon points="705.6,320.1 713.6,320.2 721.6,320.4 729.5,320.8 732.3,289.5 723.7,289.1 715.1,288.8 706.5,288.7" fill="#36b1a8"/>
<polygon points="729.5,320.8 737.5,321.4 745.5,322.1 753.4,323.0 758.0,291.9 749.4,290.9 740.8,290.1 732.3,289.5" fill="#36b2a7"/>
<polygon points="753.4,323.0 761.4,324.0 769.3,325.2 777.2,326.5 783.0,298.2 774.6,296.8 766.1,295.5 757.6,294.4" fill="#36b3a6"/>
<polygon points="777.2,326.5 785.1,328.0 792.9,329.6 800.7,331.4 808.2,303.6 799.8,301.6 791.4,299.9 783.0,298.2" fill="#37b4a5"/>
<polygon points="800.7,331.4 808.5,333.4 816.3,335.5 824.0,337.7 833.1,310.3 824.8,307.9 816.5,305.7 808.2,303.6" fill="#37b4a5"/>
<polygon points="824.0,337.7 831.7,340.1 839.3,342.7 846.9,345.4 857.5,318.6 849.4,315.7 841.3,312.9 833.1,310.3" fill="#37b4a3"/>
<polygon points="846.9,345.4 854.4,348.2 861.9,351.2 869.3,354.4 881.4,328.4 873.5,325.1 865.5,321.9 857.4,318.8" fill="#37b5a2"/>
<polygon points="869.3,354.4 876.7,357.6 884.0,361.1 891.2,364.6 904.8,339.5 897.0,335.7 889.2,332.0 881.4,328.4" fill="#37b5a1"/>
<polygon points="891.2,364.6 898.4,368.4 905.5,372.2 912.5,376.2 927.5,351.9 920.0,347.6 912.4,343.5 904.8,339.5" fill="#37b5a0"/>
<polygon points="912.5,376.2 919.5,380.3 926.4,384.6 933.2,389.0 949.5,365.6 942.3,360.9 934.9,356.3 927.5,351.9" fill="#37b59f"/>
<polygon points="933.2,389.0 939.9,393.5 946.5,398.2 953.0,403.0 971.0,380.3 964.0,375.2 956.9,370.2 949.7,365.3" fill="#37b59e"/>
<polygon points="953.0,403.0 959.5,407.9 965.8,413.0 972.1,418.2 991.3,396.6 984.6,391.0 977.9,385.6 971.0,380.3" fill="#37b69d"/>
<polygon points="972.1,418.2 978.3,423.5 984.3,428.9 990.3,434.4 1010.7,414.0 1004.4,408.0 997.9,402.2 991.3,396.6" fill="#37b69b"/>
<polygon points="990.3,434.4 996.1,440.1 1001.9,445.9 1007.5,451.8 1029.1,432.5 1023.1,426.2 1017.0,420.0 1010.7,414.0" fill="#37b69a"/>
<polygon points="1007.5,451.8 1013.0,457.8 1018.4,463.9 1023.7,470.1 1044.4,453.7 1038.8,447.1 1033.0,440.6 1027.2,434.2" fill="#37b699"/>
<polygon points="1023.7,470.1 1028.9,476.4 1033.9,482.8 1038.8,489.4 1060.4,474.2 1055.2,467.3 1049.9,460.5 1044.4,453.7" fill="#37b798"/>
<polygon points="1038.8,489.4 1043.6,496.0 1048.3,502.7 1052.8,509.5 1075.3,495.6 1070.5,488.4 1065.5,481.3 1060.4,474.2" fill="#37b797"/>
<polygon points="1052.8,509.5 1057.3,516.4 1061.5,523.4 1065.7,530.5 1088.9,517.9 1084.5,510.4 1080.0,503.0 1075.3,495.6" fill="#37b796"/>
<polygon points="1065.7,530.5 1069.7,537.6 1073.6,544.8 1077.3,552.2 1101.2,541.0 1097.2,533.2 1093.1,525.6 1088.9,517.9" fill="#37b795"/>
<polygon points="1077.3,552.2 1080.9,559.5 1084.3,567.0 1087.6,574.5 1112.1,564.8 1108.6,556.8 1105.0,548.9 1101.2,541.0" fill="#37b794"/>
<polygon points="1087.6,574.5 1090.8,582.1 1093.8,589.8 1096.7,597.5 1121.7,589.2 1118.6,581.0 1115.5,572.9 1112.1,564.8" fill="#37b892"/>
<polygon points="1096.7,597.5 1099.4,605.3 1102.0,613.1 1104.4,621.0 1129.8,614.2 1127.3,605.8 1124.6,597.5 1121.7,589.2" fill="#37b891"/>
<polygon points="1104.4,621.0 1106.6,628.9 1108.8,636.9 1110.7,644.9 1138.1,639.3 1136.0,630.7 1133.8,622.2 1131.4,613.7" fill="#37b890"/>
<polygon points="1110.7,644.9 1112.5,653.0 1114.2,661.1 1115.6,669.2 1143.3,665.2 1141.8,656.5 1140.0,647.9 1138.1,639.3" fill="#37b88f"/>
<polygon points="1115.6,669.2 1117.0,677.4 1118.2,685.6 1119.2,693.8 1147.0,691.4 1146.0,682.6 1144.7,673.9 1143.3,665.2" fill="#37b98e"/>
<polygon points="1119.2,693.8 1120.0,702.1 1120.7,710.3 1121.2,718.6 1149.2,717.8 1148.7,709.0 1147.9,700.1 1147.0,691.4" fill="#37b98d"/>
<polygon points="1121.2,718.6 1121.6,726.9 1121.8,735.2 1121.9,743.5 1147.3,744.2 1147.3,735.4 1147.1,726.6 1146.7,717.8" fill="#37b98c"/>
<polygon points="1121.9,743.5 1121.8,751.8 1121.5,760.1 1121.1,768.4 1146.4,770.6 1146.9,761.8 1147.2,753.0 1147.3,744.2" fill="#37b98b"/>
<polygon points="1121.1,768.4 1120.5,776.7 1119.7,785.0 1118.8,793.3 1144.0,797.0 1145.0,788.2 1145.8,779.4 1146.4,770.6" fill="#37b98a"/>
<polygon points="1118.8,793.3 1117.7,801.6 1116.5,809.8 1115.1,818.0 1140.0,823.2 1141.5,814.5 1142.8,805.7 1144.0,797.0" fill="#38ba89"/>
<polygon points="1115.1,818.0 1113.5,826.2 1111.8,834.4 1109.9,842.6 1133.4,848.8 1135.4,840.2 1137.2,831.6 1138.9,822.9" fill="#38ba88"/>
<polygon points="1109.9,842.6 1107.9,850.7 1105.7,858.7 1103.4,866.8 1126.4,874.4 1128.9,865.9 1131.2,857.4 1133.4,848.8" fill="#38ba87"/>
<polygon points="1103.4,866.8 1100.9,874.8 1098.2,882.7 1095.4,890.6 1117.9,899.6 1120.9,891.2 1123.7,882.8 1126.4,874.4" fill="#38ba85"/>
<polygon points="1095.4,890.6 1092.4,898.4 1089.3,906.2 1086.0,914.0 1108.0,924.2 1111.5,916.1 1114.8,907.8 1117.9,899.6" fill="#39bb84"/>
<polygon points="1086.0,914.0 1082.6,921.6 1079.0,929.2 1075.3,936.8 1093.3,946.5 1097.2,938.6 1101.0,930.6 1104.6,922.6" fill="#39bb83"/>
<polygon points="1075.3,936.8 1071.4,944.2 1067.4,951.6 1063.2,958.9 1080.6,969.7 1085.0,962.0 1089.2,954.3 1093.3,946.5" fill="#39bb82"/>
<polygon points="1063.2,958.9 1058.9,966.2 1054.4,973.3 1049.8,980.4 1066.6,992.1 1071.5,984.7 1076.1,977.3 1080.6,969.7" fill="#39bb81"/>
<polygon points="1049.8,980.4 1045.1,987.4 1040.2,994.3 1035.2,1001.1 1051.3,1013.8 1056.6,1006.7 1061.7,999.5 1066.6,992.1" fill="#39bb80"/>
<polygon points="1035.2,1001.1 1030.1,1007.8 1024.8,1014.4 1019.4,1020.9 1033.3,1033.2 1038.9,1026.4 1044.4,1019.5 1049.7,1012.5" fill="#3abc7f"/>
<polygon points="1019.4,1020.9 1013.9,1027.3 1008.3,1033.6 1002.5,1039.8 1015.6,1052.9 1021.6,1046.4 1027.5,1039.8 1033.3,1033.2" fill="#3abc7e"/>
<polygon points="1002.5,1039.8 996.6,1045.9 990.6,1051.8 984.4,1057.7 996.7,1071.5 1003.1,1065.4 1009.4,1059.2 1015.6,1052.9" fill="#3abc7d"/>
<polygon points="984.4,1057.7 978.2,1063.4 971.8,1069.1 965.4,1074.5 976.8,1089.0 983.6,1083.3 990.2,1077.5 996.7,1071.5" fill="#3abc7c"/>
<polygon points="965.4,1074.5 958.8,1079.9 952.1,1085.2 945.3,1090.3 955.8,1105.3 962.9,1100.0 969.9,1094.5 976.7,1088.9" fill="#3abc7b"/>
<polygon points="945.3,1090.3 938.4,1095.3 931.4,1100.1 924.3,1104.8 933.9,1120.4 941.3,1115.5 948.6,1110.5 955.8,1105.3" fill="#3bbd7a"/>
<polygon points="924.3,1104.8 917.1,1109.4 909.9,1113.9 902.5,1118.2 911.2,1134.3 918.9,1129.8 926.4,1125.2 933.9,1120.4" fill="#3bbd79"/>
<polygon points="902.5,1118.2 895.0,1122.3 887.5,1126.4 879.9,1130.2 887.6,1146.9 895.6,1142.8 903.4,1138.6 911.2,1134.3" fill="#3bbd78"/>
<polygon points="879.9,1130.2 872.2,1134.0 864.4,1137.5 856.6,1141.0 863.6,1158.5 871.8,1155.0 879.9,1151.3 887.9,1147.4" fill="#3bbd77"/>
<polygon points="856.6,1141.0 848.7,1144.3 840.7,1147.4 832.7,1150.4 838.7,1168.3 847.0,1165.2 855.3,1162.0 863.6,1158.5" fill="#3bbd76"/>
<polygon points="832.7,1150.4 824.6,1153.2 816.5,1155.8 808.3,1158.3 813.2,1176.6 821.7,1174.0 830.2,1171.2 838.7,1168.3" fill="#3cbe75"/>
<polygon points="808.3,1158.3 800.0,1160.7 791.7,1162.9 783.3,1164.9 787.2,1183.4 795.9,1181.3 804.5,1179.0 813.2,1176.6" fill="#3cbe74"/>
<polygon points="783.3,1164.9 775.0,1166.8 766.5,1168.5 758.1,1170.0 761.2,1191.6 770.1,1190.0 779.0,1188.2 787.8,1186.3" fill="#3cbe73"/>
<polygon points="758.1,1170.0 749.6,1171.4 741.0,1172.6 732.5,1173.6 734.4,1195.4 743.4,1194.3 752.3,1193.1 761.2,1191.6" fill="#3cbe72"/>
<polygon points="732.5,1173.6 723.9,1174.5 715.3,1175.2 706.7,1175.8 707.3,1197.6 716.4,1197.1 725.4,1196.3 734.4,1195.4" fill="#3dbe71"/>
<polygon points="706.7,1175.8 698.1,1176.2 689.5,1176.4 680.8,1176.4 680.2,1198.3 689.2,1198.2 698.3,1198.0 707.3,1197.6" fill="#3dbe6f"/>
<polygon points="680.8,1176.4 672.2,1176.3 663.5,1176.0 654.9,1175.6 652.6,1202.3 661.7,1202.7 670.9,1203.1 680.0,1203.2" fill="#3ebe6e"/>
<polygon points="654.9,1175.6 646.3,1174.9 637.6,1174.1 629.0,1173.2 625.1,1199.7 634.3,1200.7 643.4,1201.6 652.6,1202.3" fill="#3ebe6c"/>
<polygon points="629.0,1173.2 620.4,1172.1 611.8,1170.8 603.3,1169.3 597.9,1195.5 606.9,1197.1 616.0,1198.5 625.1,1199.7" fill="#3ebe6b"/>
<polygon points="603.3,1169.3 594.8,1167.7 586.3,1165.9 577.8,1163.9 570.9,1189.8 579.8,1191.9 588.8,1193.8 597.9,1195.5" fill="#3fbe69"/>
<polygon points="577.8,1163.9 569.4,1161.8 561.0,1159.5 552.6,1157.0 542.2,1188.5 551.2,1191.1 560.2,1193.6 569.2,1195.9" fill="#3fbe68"/>
<polygon points="552.6,1157.0 544.3,1154.4 536.1,1151.6 527.9,1148.7 515.7,1179.5 524.5,1182.7 533.3,1185.7 542.2,1188.5" fill="#40be67"/>
<polygon points="527.9,1148.7 519.7,1145.6 511.6,1142.4 503.6,1138.9 489.6,1169.0 498.2,1172.6 506.9,1176.1 515.7,1179.5" fill="#40be65"/>
<polygon points="503.6,1138.9 495.6,1135.4 487.7,1131.6 479.9,1127.8 464.2,1156.9 472.6,1161.1 481.1,1165.1 489.6,1169.0" fill="#40be64"/>
<polygon points="479.9,1127.8 472.2,1123.7 464.5,1119.5 456.9,1115.2 436.5,1148.3 444.7,1153.0 453.0,1157.6 461.4,1162.0" fill="#41be62"/>
<polygon points="456.9,1115.2 449.4,1110.7 441.9,1106.1 434.6,1101.3 412.3,1133.2 420.2,1138.4 428.3,1143.4 436.5,1148.3" fill="#41be61"/>
<polygon points="434.6,1101.3 427.3,1096.4 420.2,1091.3 413.1,1086.1 389.0,1116.6 396.6,1122.3 404.4,1127.8 412.3,1133.2" fill="#42be5f"/>
<polygon points="413.1,1086.1 406.1,1080.8 399.3,1075.3 392.5,1069.7 366.6,1098.7 374.0,1104.8 381.4,1110.8 389.0,1116.6" fill="#42be5e"/>
<polygon points="392.5,1069.7 385.9,1063.9 379.3,1058.0 372.9,1052.0 340.5,1084.4 347.5,1091.1 354.7,1097.6 362.0,1103.9" fill="#42be5d"/>
<polygon points="372.9,1052.0 366.6,1045.9 360.4,1039.6 354.3,1033.2 320.0,1063.7 326.7,1070.8 333.5,1077.7 340.5,1084.4" fill="#43be5b"/>
<polygon points="354.3,1033.2 348.3,1026.7 342.5,1020.1 336.8,1013.4 300.8,1041.8 307.1,1049.3 313.5,1056.6 320.0,1063.7" fill="#43be5a"/>
<polygon points="336.8,1013.4 331.2,1006.5 325.8,999.6 320.5,992.5 282.9,1018.8 288.7,1026.6 294.7,1034.3 300.8,1041.8" fill="#44be58"/>
<polygon points="320.5,992.5 315.3,985.4 310.3,978.1 305.4,970.7 265.1,995.6 270.5,1003.7 276.0,1011.7 281.7,1019.7" fill="#44be57"/>
<polygon points="305.4,970.7 300.6,963.2 296.0,955.7 291.5,948.0 249.9,970.5 254.8,978.9 259.9,987.3 265.1,995.6" fill="#44be56"/>
<polygon points="291.5,948.0 287.2,940.3 283.0,932.5 279.0,924.6 236.2,944.5 240.6,953.3 245.2,961.9 249.9,970.5" fill="#45be54"/>
<polygon points="279.0,924.6 275.2,916.6 271.4,908.5 267.9,900.3 223.9,917.8 227.8,926.8 231.9,935.7 236.2,944.5" fill="#45be53"/>
<polygon points="267.9,900.3 264.5,892.1 261.2,883.8 258.2,875.5 218.9,888.5 222.3,897.6 225.8,906.6 229.5,915.6" fill="#46be51"/>
<polygon points="258.2,875.5 255.2,867.1 252.5,858.6 249.9,850.1 210.0,860.8 212.8,870.1 215.8,879.3 218.9,888.5" fill="#46be50"/>
<polygon points="249.9,850.1 247.5,841.5 245.2,832.9 243.1,824.2 202.6,832.6 204.9,842.0 207.4,851.4 210.0,860.8" fill="#47be4f"/>
<polygon points="243.1,824.2 241.2,815.5 239.4,806.7 237.8,798.0 196.9,803.9 198.7,813.5 200.6,823.1 202.6,832.6" fill="#48be4e"/>
<polygon points="237.8,798.0 236.4,789.1 235.1,780.3 234.1,771.4 193.6,774.9 194.8,784.6 196.1,794.2 197.7,803.8" fill="#49be4c"/>
<polygon points="234.1,771.4 233.2,762.5 232.4,753.6 231.9,744.6 191.3,745.8 191.9,755.5 192.7,765.2 193.6,774.9" fill="#4abe4b"/>
<polygon points="231.9,744.6 231.5,735.7 231.3,726.7 231.2,717.7 190.7,716.5 190.7,726.3 190.9,736.1 191.3,745.8" fill="#4bbe4a"/>
<polygon points="231.2,717.7 231.4,708.7 231.7,699.8 232.2,690.8 191.7,687.3 191.2,697.0 190.8,706.8 190.7,716.5" fill="#4cbe49"/>
<polygon points="232.2,690.8 232.8,681.8 233.6,672.9 234.7,663.9 192.9,657.8 191.8,667.6 190.9,677.3 190.1,687.1" fill="#4cbe48"/>
<polygon points="234.7,663.9 235.8,655.0 237.2,646.1 238.7,637.2 197.4,628.7 195.7,638.4 194.2,648.1 192.9,657.8" fill="#4dbe47"/>
<polygon points="238.7,637.2 240.4,628.4 242.3,619.6 244.3,610.8 203.6,599.9 201.3,609.4 199.3,619.1 197.4,628.7" fill="#4ebe46"/>
<polygon points="244.3,610.8 246.5,602.0 248.9,593.3 251.5,584.6 211.4,571.4 208.6,580.8 206.0,590.3 203.6,599.9" fill="#4fbe44"/>
<polygon points="251.5,584.6 254.2,576.0 257.1,567.5 260.2,558.9 218.6,542.4 215.2,551.8 212.0,561.1 209.0,570.6" fill="#50be43"/>
<polygon points="260.2,558.9 263.4,550.5 266.8,542.1 270.3,533.8 229.8,514.9 225.9,524.0 222.1,533.2 218.6,542.4" fill="#51be42"/>
<polygon points="270.3,533.8 274.0,525.5 277.9,517.3 282.0,509.2 242.6,487.9 238.1,496.8 233.9,505.8 229.8,514.9" fill="#52be41"/>
<polygon points="282.0,509.2 286.1,501.1 290.5,493.2 295.0,485.3 256.9,461.8 252.0,470.4 247.2,479.1 242.6,487.9" fill="#53be40"/>
<polygon points="295.0,485.3 299.7,477.5 304.5,469.8 309.5,462.1 274.1,437.4 268.7,445.7 263.4,454.1 258.3,462.7" fill="#54be3f"/>
<polygon points="309.5,462.1 314.6,454.6 319.8,447.2 325.2,439.9 291.4,413.1 285.5,421.1 279.7,429.2 274.1,437.4" fill="#55be3e"/>
<polygon points="325.2,439.9 330.8,432.6 336.5,425.5 342.3,418.5 310.1,389.9 303.7,397.5 297.5,405.3 291.4,413.1" fill="#56be3c"/>
<polygon points="342.3,418.5 348.3,411.6 354.4,404.8 360.7,398.2 330.2,367.7 323.3,375.0 316.7,382.3 310.1,389.9" fill="#57be3b"/>
<polygon points="360.7,398.2 367.0,391.6 373.5,385.2 380.2,378.9 354.5,350.1 347.3,356.9 340.3,363.8 333.4,370.9" fill="#57be3a"/>
<polygon points="380.2,378.9 386.9,372.7 393.8,366.7 400.8,360.8 376.8,330.5 369.3,336.9 361.8,343.4 354.5,350.1" fill="#58be39"/>
<polygon points="400.8,360.8 407.9,355.0 415.1,349.3 422.4,343.8 400.3,312.2 392.4,318.2 384.5,324.3 376.8,330.5" fill="#59be38"/>
<polygon points="422.4,343.8 429.9,338.5 437.4,333.2 445.1,328.2 424.8,295.3 416.5,300.8 408.4,306.4 400.3,312.2" fill="#5abe37"/>
<polygon points="445.1,328.2 452.8,323.2 460.7,318.5 468.6,313.8 451.1,281.4 442.6,286.4 434.1,291.5 425.7,296.8" fill="#5cbe37"/>
<polygon points="468.6,313.8 476.7,309.4 484.8,305.0 493.0,300.9 477.4,267.5 468.6,272.0 459.8,276.6 451.1,281.4" fill="#5dbe36"/>
<polygon points="493.0,300.9 501.3,296.9 509.7,293.0 518.1,289.3 504.5,255.1 495.4,259.1 486.4,263.2 477.4,267.5" fill="#5fbe36"/>
<polygon points="518.1,289.3 526.6,285.8 535.2,282.5 543.9,279.3 532.3,244.3 523.0,247.8 513.7,251.4 504.5,255.1" fill="#60be35"/>
<polygon points="543.9,279.3 552.6,276.3 561.4,273.4 570.3,270.7 561.2,236.9 551.7,239.8 542.3,242.8 532.9,246.1" fill="#62be35"/>
<polygon points="570.3,270.7 579.2,268.2 588.1,265.9 597.1,263.7 590.0,229.4 580.4,231.7 570.8,234.2 561.2,236.9" fill="#63be35"/>
<polygon points="597.1,263.7 606.2,261.7 615.2,259.9 624.4,258.2 619.3,223.6 609.5,225.4 599.7,227.3 590.0,229.4" fill="#64be34"/>
<polygon points="624.4,258.2 633.5,256.8 642.7,255.5 651.9,254.4 648.9,219.5 639.0,220.7 629.1,222.1 619.3,223.6" fill="#66be34"/>
<polygon points="651.9,254.4 661.2,253.5 670.4,252.7 679.7,252.1 678.8,222.3 669.0,222.9 659.1,223.7 649.3,224.7" fill="#67be34"/>
<polygon points="679.7,252.1 689.0,251.7 698.3,251.5 707.6,251.5 708.4,221.7 698.6,221.7 688.7,221.9 678.8,222.3" fill="#69be33"/>
<polygon points="707.6,251.5 716.9,251.6 726.2,252.0 735.5,252.5 738.1,222.8 728.2,222.2 718.3,221.9 708.4,221.7" fill="#6abe33"/>
<polygon points="735.5,252.5 744.8,253.2 754.1,254.0 763.3,255.1 767.7,225.6 757.8,224.5 748.0,223.5 738.1,222.8" fill="#6cbe33"/>
<polygon points="763.3,255.1 772.6,256.3 781.8,257.7 791.0,259.3 796.4,233.4 786.7,231.7 776.9,230.2 767.2,228.9" fill="#6dbe32"/>
<polygon points="791.0,259.3 800.2,261.1 809.4,263.0 818.5,265.2 825.3,239.6 815.7,237.4 806.1,235.3 796.4,233.4" fill="#6ebe32"/>
<polygon points="818.5,265.2 827.5,267.5 836.6,269.9 845.5,272.6 853.9,247.5 844.4,244.7 834.9,242.1 825.3,239.6" fill="#70be31"/>
<polygon points="845.5,272.6 854.5,275.4 863.4,278.4 872.2,281.6 881.9,257.0 872.6,253.7 863.3,250.5 853.9,247.5" fill="#71be31"/>
<polygon points="872.2,281.6 880.9,285.0 889.7,288.5 898.3,292.2 909.2,268.7 900.1,264.8 891.0,261.1 881.7,257.5" fill="#72be31"/>
<polygon points="898.3,292.2 906.9,296.0 915.3,300.1 923.8,304.3 936.1,281.4 927.2,277.0 918.3,272.8 909.2,268.7" fill="#73be30"/>
<polygon points="923.8,304.3 932.1,308.6 940.4,313.1 948.5,317.8 962.1,295.8 953.5,290.8 944.8,286.0 936.1,281.4" fill="#74be30"/>
<polygon points="948.5,317.8 956.6,322.7 964.6,327.7 972.5,332.8 987.4,311.6 979.0,306.1 970.6,300.9 962.1,295.8" fill="#75be2f"/>
<polygon points="972.5,332.8 980.3,338.1 988.0,343.6 995.6,349.2 1010.8,329.9 1002.8,324.0 994.7,318.3 986.6,312.7" fill="#76be2f"/>
<polygon points="995.6,349.2 1003.1,355.0 1010.4,360.9 1017.7,366.9 1034.0,348.6 1026.4,342.2 1018.6,336.0 1010.8,329.9" fill="#77be2f"/>
<polygon points="1017.7,366.9 1024.8,373.1 1031.9,379.5 1038.8,385.9 1056.1,368.6 1048.9,361.8 1041.5,355.1 1034.0,348.6" fill="#78be2e"/>
<polygon points="1038.8,385.9 1045.5,392.5 1052.2,399.3 1058.7,406.1 1077.1,389.8 1070.2,382.6 1063.2,375.5 1056.1,368.6" fill="#79be2e"/>
<polygon points="1058.7,406.1 1065.1,413.2 1071.4,420.3 1077.5,427.5 1095.8,413.0 1089.4,405.4 1082.9,398.0 1076.2,390.6" fill="#7abe2d"/>
<polygon points="1077.5,427.5 1083.5,434.9 1089.3,442.4 1095.0,450.0 1114.2,436.6 1108.2,428.6 1102.1,420.8 1095.8,413.0" fill="#7bbe2d"/>
<polygon points="1095.0,450.0 1100.6,457.7 1106.0,465.5 1111.2,473.5 1131.1,461.2 1125.6,452.9 1120.0,444.7 1114.2,436.6" fill="#7cbe2d"/>
<polygon points="1111.2,473.5 1116.3,481.5 1121.3,489.6 1126.1,497.9 1146.6,486.8 1141.6,478.2 1136.4,469.6 1131.1,461.2" fill="#7dbe2c"/>
<polygon points="1126.1,497.9 1130.7,506.2 1135.2,514.6 1139.5,523.1 1161.6,512.8 1157.1,503.9 1152.4,495.1 1147.5,486.3" fill="#7ebe2c"/>
<polygon points="1139.5,523.1 1143.6,531.7 1147.6,540.4 1151.4,549.2 1174.1,540.2 1170.1,531.0 1165.9,521.9 1161.6,512.8" fill="#7fbe2b"/>
<polygon points="1151.4,549.2 1155.0,558.0 1158.5,566.9 1161.8,575.9 1185.0,568.2 1181.5,558.8 1177.9,549.5 1174.1,540.2" fill="#80be2b"/>
<polygon points="1161.8,575.9 1164.9,584.9 1167.9,594.1 1170.6,603.2 1194.2,596.9 1191.3,587.3 1188.2,577.7 1185.0,568.2" fill="#81be2b"/>
<polygon points="1170.6,603.2 1173.2,612.4 1175.7,621.7 1177.9,631.0 1200.4,626.4 1198.1,616.6 1195.5,606.9 1192.8,597.3" fill="#82be2a"/>
<polygon points="1177.9,631.0 1180.0,640.4 1181.8,649.8 1183.5,659.3 1206.3,655.9 1204.5,646.0 1202.5,636.2 1200.4,626.4" fill="#83be2a"/>
<polygon points="1183.5,659.3 1185.0,668.8 1186.4,678.3 1187.5,687.8 1210.4,685.8 1209.2,675.8 1207.8,665.9 1206.3,655.9" fill="#84be29"/>
<polygon points="1187.5,687.8 1188.5,697.4 1189.2,707.0 1189.8,716.6 1212.8,715.9 1212.2,705.9 1211.4,695.8 1210.4,685.8" fill="#85be29"/>
<polygon points="1189.8,716.6 1190.2,726.2 1190.4,735.8 1190.5,745.5 1214.1,746.2 1214.1,736.1 1213.8,726.0 1213.4,715.9" fill="#86be28"/>
<polygon points="1190.5,745.5 1190.3,755.1 1189.9,764.8 1189.4,774.4 1213.0,776.4 1213.5,766.4 1213.9,756.3 1214.1,746.2" fill="#87be28"/>
<polygon points="1189.4,774.4 1188.7,784.0 1187.8,793.6 1186.7,803.2 1210.1,806.7 1211.2,796.6 1212.2,786.5 1213.0,776.4" fill="#88be28"/>
<polygon points="1186.7,803.2 1185.4,812.8 1183.9,822.4 1182.3,831.9 1205.4,836.7 1207.2,826.7 1208.7,816.7 1210.1,806.7" fill="#89be28"/>
<polygon points="1182.3,831.9 1180.4,841.4 1178.4,850.9 1176.2,860.3 1197.1,865.9 1199.4,856.1 1201.6,846.2 1203.5,836.3" fill="#8abd27"/>
<polygon points="1176.2,860.3 1173.8,869.7 1171.2,879.0 1168.5,888.3 1189.0,895.1 1191.9,885.4 1194.6,875.7 1197.1,865.9" fill="#8abd27"/>
<polygon points="1168.5,888.3 1165.5,897.6 1162.4,906.8 1159.1,915.9 1179.2,923.9 1182.7,914.4 1186.0,904.8 1189.0,895.1" fill="#8bbd27"/>
<polygon points="1159.1,915.9 1155.6,925.0 1152.0,934.0 1148.2,942.9 1167.8,952.1 1171.8,942.8 1175.6,933.4 1179.2,923.9" fill="#8cbd27"/>
<polygon points="1148.2,942.9 1144.2,951.8 1140.0,960.6 1135.6,969.3 1154.3,979.4 1158.8,970.3 1163.2,961.1 1167.4,951.9" fill="#8dbc26"/>
<polygon points="1135.6,969.3 1131.1,977.9 1126.4,986.5 1121.6,994.9 1139.6,1006.0 1144.7,997.2 1149.6,988.3 1154.3,979.4" fill="#8ebc26"/>
<polygon points="1121.6,994.9 1116.6,1003.3 1111.4,1011.6 1106.0,1019.7 1123.4,1031.9 1129.0,1023.4 1134.4,1014.8 1139.6,1006.0" fill="#8fbc26"/>
<polygon points="1106.0,1019.7 1100.5,1027.8 1094.9,1035.8 1089.1,1043.6 1105.7,1056.7 1111.8,1048.6 1117.7,1040.3 1123.4,1031.9" fill="#90bc26"/>
<polygon points="1089.1,1043.6 1083.1,1051.3 1077.0,1059.0 1070.7,1066.5 1087.1,1081.1 1093.7,1073.3 1100.1,1065.3 1106.3,1057.2" fill="#91bc26"/>
<polygon points="1070.7,1066.5 1064.3,1073.9 1057.7,1081.1 1051.0,1088.3 1066.6,1103.8 1073.6,1096.4 1080.4,1088.8 1087.1,1081.1" fill="#92bb25"/>
<polygon points="1051.0,1088.3 1044.2,1095.3 1037.2,1102.2 1030.1,1108.9 1044.7,1125.4 1052.1,1118.3 1059.4,1111.1 1066.6,1103.8" fill="#93bb25"/>
<polygon points="1030.1,1108.9 1022.8,1115.5 1015.4,1122.0 1007.9,1128.4 1021.6,1145.6 1029.4,1139.0 1037.1,1132.3 1044.7,1125.4" fill="#94bb25"/>
<polygon points="1007.9,1128.4 1000.3,1134.5 992.5,1140.6 984.6,1146.5 999.7,1167.9 1008.0,1161.7 1016.1,1155.4 1024.2,1148.9" fill="#95bb25"/>
<polygon points="984.6,1146.5 976.7,1152.2 968.5,1157.8 960.3,1163.2 974.1,1185.5 982.7,1179.8 991.3,1173.9 999.7,1167.9" fill="#95ba24"/>
<polygon points="960.3,1163.2 952.0,1168.5 943.6,1173.6 935.1,1178.6 947.5,1201.6 956.5,1196.4 965.3,1191.0 974.1,1185.5" fill="#96ba24"/>
<polygon points="935.1,1178.6 926.4,1183.3 917.7,1188.0 908.9,1192.4 920.0,1216.1 929.2,1211.5 938.4,1206.6 947.5,1201.6" fill="#97ba24"/>
<polygon points="908.9,1192.4 900.0,1196.7 891.0,1200.8 881.9,1204.7 893.9,1234.8 903.5,1230.6 913.1,1226.2 922.6,1221.7" fill="#98ba24"/>
<polygon points="881.9,1204.7 872.8,1208.5 863.6,1212.1 854.3,1215.5 864.5,1246.2 874.3,1242.5 884.2,1238.7 893.9,1234.8" fill="#99b923"/>
<polygon points="854.3,1215.5 844.9,1218.7 835.5,1221.7 826.0,1224.6 834.4,1255.8 844.5,1252.8 854.5,1249.6 864.5,1246.2" fill="#9ab923"/>
<polygon points="826.0,1224.6 816.5,1227.3 806.9,1229.8 797.2,1232.1 803.8,1263.7 814.0,1261.3 824.2,1258.7 834.4,1255.8" fill="#9bb923"/>
<polygon points="797.2,1232.1 787.5,1234.2 777.8,1236.1 768.0,1237.9 772.1,1265.8 782.4,1264.0 792.7,1261.9 802.9,1259.7" fill="#9cb923"/>
<polygon points="768.0,1237.9 758.2,1239.4 748.4,1240.8 738.5,1242.0 740.9,1270.1 751.4,1268.9 761.8,1267.4 772.1,1265.8" fill="#9cb823"/>
<polygon points="738.5,1242.0 728.6,1243.0 718.7,1243.8 708.7,1244.4 709.5,1272.6 720.0,1271.9 730.5,1271.1 740.9,1270.1" fill="#9db822"/>
<polygon points="708.7,1244.4 698.8,1244.8 688.8,1245.0 678.8,1245.0 678.0,1273.2 688.5,1273.2 699.0,1273.0 709.5,1272.6" fill="#9db722"/>
<polygon points="678.8,1245.0 668.9,1244.8 658.9,1244.5 648.9,1243.9 646.3,1273.6 656.9,1274.2 667.4,1274.6 678.0,1274.8" fill="#9eb722"/>
<polygon points="648.9,1243.9 639.0,1243.1 629.0,1242.2 619.1,1241.1 614.8,1270.5 625.3,1271.7 635.8,1272.7 646.3,1273.6" fill="#9fb722"/>
<polygon points="619.1,1241.1 609.2,1239.7 599.3,1238.2 589.4,1236.5 583.4,1265.6 593.8,1267.5 604.3,1269.1 614.8,1270.5" fill="#9fb622"/>
<polygon points="589.4,1236.5 579.6,1234.6 569.8,1232.5 560.1,1230.2 552.4,1258.9 562.7,1261.4 573.0,1263.6 583.4,1265.6" fill="#a0b621"/>
<polygon points="560.1,1230.2 550.3,1227.7 540.7,1225.0 531.1,1222.2 521.0,1252.6 531.2,1255.6 541.5,1258.4 551.8,1261.1" fill="#a0b521"/>
<polygon points="531.1,1222.2 521.5,1219.1 512.0,1215.9 502.6,1212.5 490.7,1242.2 500.8,1245.9 510.9,1249.3 521.0,1252.6" fill="#a1b521"/>
<polygon points="502.6,1212.5 493.2,1208.9 483.9,1205.1 474.6,1201.1 461.1,1230.1 470.9,1234.4 480.8,1238.4 490.7,1242.2" fill="#a2b521"/>
<polygon points="474.6,1201.1 465.5,1197.0 456.4,1192.6 447.4,1188.1 432.2,1216.3 441.7,1221.1 451.4,1225.7 461.1,1230.1" fill="#a2b421"/>
<polygon points="447.4,1188.1 438.4,1183.5 429.6,1178.6 420.9,1173.6 402.6,1203.2 411.9,1208.5 421.4,1213.7 430.9,1218.7" fill="#a3b420"/>
<polygon points="420.9,1173.6 412.2,1168.4 403.7,1163.0 395.2,1157.5 375.3,1186.0 384.3,1191.9 393.4,1197.6 402.6,1203.2" fill="#a3b320"/>
<polygon points="395.2,1157.5 386.9,1151.8 378.7,1145.9 370.6,1139.9 349.0,1167.2 357.7,1173.6 366.4,1179.9 375.3,1186.0" fill="#a4b320"/>
<polygon points="370.6,1139.9 362.6,1133.7 354.7,1127.4 346.9,1120.9 323.8,1146.9 332.1,1153.8 340.5,1160.6 349.0,1167.2" fill="#a5b320"/>
<polygon points="346.9,1120.9 339.3,1114.3 331.8,1107.5 324.4,1100.5 297.1,1127.9 305.0,1135.3 313.0,1142.6 321.2,1149.8" fill="#a5b220"/>
<polygon points="324.4,1100.5 317.1,1093.4 310.0,1086.2 303.1,1078.9 274.2,1104.6 281.7,1112.5 289.3,1120.2 297.1,1127.9" fill="#a6b21f"/>
<polygon points="303.1,1078.9 296.2,1071.4 289.5,1063.7 283.0,1055.9 252.7,1079.9 259.7,1088.3 266.9,1096.5 274.2,1104.6" fill="#a6b11f"/>
<polygon points="283.0,1055.9 276.6,1048.1 270.4,1040.0 264.3,1031.9 232.6,1054.1 239.2,1062.8 245.8,1071.4 252.7,1079.9" fill="#a7b11f"/>
<polygon points="264.3,1031.9 258.4,1023.6 252.6,1015.2 247.0,1006.7 209.3,1030.0 215.4,1039.2 221.6,1048.3 228.0,1057.3" fill="#a8b11f"/>
<polygon points="247.0,1006.7 241.5,998.1 236.3,989.4 231.2,980.6 192.2,1001.6 197.7,1011.2 203.4,1020.6 209.3,1030.0" fill="#a8b01f"/>
<polygon points="231.2,980.6 226.2,971.7 221.4,962.7 216.9,953.6 176.8,972.3 181.7,982.1 186.9,991.9 192.2,1001.6" fill="#a9b01e"/>
<polygon points="216.9,953.6 212.4,944.3 208.2,935.1 204.1,925.7 163.0,942.0 167.4,952.2 172.0,962.3 176.8,972.3" fill="#aaaf1e"/>
<polygon points="204.1,925.7 200.3,916.2 196.6,906.7 193.0,897.1 147.1,912.3 150.9,922.8 154.9,933.2 159.2,943.6" fill="#aaaf1e"/>
<polygon points="193.0,897.1 189.7,887.4 186.6,877.7 183.6,867.9 136.9,880.4 140.1,891.1 143.5,901.8 147.1,912.3" fill="#aaae1e"/>
<polygon points="183.6,867.9 180.9,858.0 178.3,848.1 175.9,838.1 128.5,847.9 131.1,858.8 133.9,869.6 136.9,880.4" fill="#aaae1e"/>
<polygon points="175.9,838.1 173.7,828.1 171.7,818.0 169.9,807.9 122.1,814.9 124.0,826.0 126.1,837.0 128.5,847.9" fill="#abad1e"/>
<polygon points="169.9,807.9 168.3,797.8 166.9,787.6 165.7,777.4 119.8,781.4 121.1,792.5 122.6,803.6 124.3,814.6" fill="#abac1e"/>
<polygon points="165.7,777.4 164.7,767.1 163.9,756.9 163.3,746.6 117.2,748.0 117.8,759.1 118.7,770.3 119.8,781.4" fill="#abac1e"/>
<polygon points="163.3,746.6 162.9,736.3 162.7,726.0 162.7,715.7 116.6,714.4 116.6,725.6 116.8,736.8 117.2,748.0" fill="#abab1e"/>
<polygon points="162.7,715.7 162.8,705.4 163.2,695.1 163.8,684.8 117.9,680.8 117.2,692.0 116.8,703.2 116.6,714.4" fill="#abab1e"/>
<polygon points="163.8,684.8 164.6,674.5 165.6,664.3 166.8,654.0 127.7,648.3 126.4,659.3 125.3,670.3 124.5,681.4" fill="#acaa1e"/>
<polygon points="166.8,654.0 168.2,643.8 169.7,633.6 171.5,623.4 132.9,615.4 130.9,626.3 129.2,637.3 127.7,648.3" fill="#aca91e"/>
<polygon points="171.5,623.4 173.5,613.2 175.7,603.1 178.1,593.0 139.9,582.8 137.4,593.6 135.0,604.5 132.9,615.4" fill="#aca91e"/>
<polygon points="178.1,593.0 180.6,583.0 183.4,573.0 186.4,563.1 148.9,550.7 145.7,561.3 142.7,572.0 139.9,582.8" fill="#aca81e"/>
<polygon points="186.4,563.1 189.5,553.2 192.9,543.4 196.4,533.6 156.5,517.8 152.6,528.3 149.0,538.9 145.6,549.6" fill="#aca81e"/>
<polygon points="196.4,533.6 200.1,523.9 204.0,514.3 208.1,504.8 169.2,486.6 164.8,496.9 160.5,507.3 156.5,517.8" fill="#ada71e"/>
<polygon points="208.1,504.8 212.4,495.3 216.9,485.9 221.6,476.6 183.8,456.2 178.7,466.3 173.9,476.4 169.2,486.6" fill="#ada61e"/>
<polygon points="221.6,476.6 226.4,467.4 231.4,458.3 236.6,449.3 200.1,426.7 194.4,436.5 189.0,446.3 183.8,456.2" fill="#ada61e"/>
<polygon points="236.6,449.3 242.0,440.3 247.5,431.5 253.3,422.8 218.7,398.6 212.5,408.0 206.5,417.5 200.7,427.1" fill="#ada51e"/>
<polygon points="253.3,422.8 259.1,414.2 265.2,405.7 271.4,397.3 238.3,371.2 231.6,380.2 225.1,389.3 218.7,398.6" fill="#ada51e"/>
<polygon points="271.4,397.3 277.8,389.1 284.4,380.9 291.1,372.9 259.6,344.9 252.3,353.5 245.2,362.3 238.3,371.2" fill="#aea41e"/>
<polygon points="291.1,372.9 297.9,365.0 305.0,357.3 312.1,349.7 282.3,319.8 274.6,328.0 267.0,336.4 259.6,344.9" fill="#aea31e"/>
<polygon points="312.1,349.7 319.5,342.2 326.9,334.8 334.5,327.6 311.9,302.2 303.8,309.9 295.9,317.7 288.1,325.6" fill="#aea31e"/>
<polygon points="334.5,327.6 342.3,320.6 350.2,313.7 358.2,306.9 337.1,280.3 328.6,287.4 320.2,294.7 311.9,302.2" fill="#aea21e"/>
<polygon points="358.2,306.9 366.4,300.4 374.7,293.9 383.1,287.6 363.6,259.8 354.6,266.4 345.8,273.3 337.1,280.3" fill="#afa11e"/>
<polygon points="383.1,287.6 391.6,281.5 400.3,275.6 409.1,269.8 391.2,240.8 381.8,247.0 372.6,253.3 363.6,259.8" fill="#afa11e"/>
<polygon points="409.1,269.8 417.9,264.2 426.9,258.7 436.1,253.5 421.4,226.4 411.8,231.9 402.3,237.7 392.9,243.6" fill="#afa01e"/>
<polygon points="436.1,253.5 445.3,248.4 454.6,243.4 464.0,238.7 451.0,210.8 441.0,215.8 431.2,221.0 421.4,226.4" fill="#af9f1e"/>
<polygon points="464.0,238.7 473.5,234.2 483.1,229.8 492.8,225.6 481.4,197.0 471.2,201.4 461.0,206.0 451.0,210.8" fill="#af9f1e"/>
<polygon points="492.8,225.6 502.5,221.6 512.4,217.8 522.3,214.2 512.6,184.9 502.1,188.8 491.7,192.8 481.4,197.0" fill="#b09e1e"/>
<polygon points="522.3,214.2 532.3,210.7 542.4,207.5 552.5,204.5 545.1,177.0 534.5,180.2 523.9,183.5 513.4,187.1" fill="#b09d1d"/>
<polygon points="552.5,204.5 562.7,201.6 572.9,199.0 583.2,196.5 577.5,168.6 566.6,171.2 555.8,174.0 545.1,177.0" fill="#b09c1d"/>
<polygon points="583.2,196.5 593.6,194.3 604.0,192.2 614.4,190.4 610.3,162.2 599.3,164.1 588.4,166.3 577.5,168.6" fill="#b19b1d"/>
<polygon points="614.4,190.4 624.9,188.7 635.4,187.3 645.9,186.0 643.4,157.7 632.4,159.0 621.3,160.5 610.3,162.2" fill="#b19a1d"/>
<polygon points="645.9,186.0 656.5,185.0 667.1,184.2 677.7,183.6 676.9,156.5 665.8,157.2 654.7,158.1 643.6,159.1" fill="#b1991d"/>
<polygon points="677.7,183.6 688.3,183.1 698.9,182.9 709.6,182.9 710.3,155.9 699.2,155.9 688.0,156.1 676.9,156.5" fill="#b1981c"/>
<polygon points="709.6,182.9 720.2,183.1 730.8,183.5 741.5,184.1 743.8,157.2 732.7,156.6 721.5,156.1 710.3,155.9" fill="#b2971c"/>
<polygon points="741.5,184.1 752.1,184.9 762.7,186.0 773.3,187.2 777.2,160.5 766.1,159.2 755.0,158.1 743.8,157.2" fill="#b2961c"/>
<polygon points="773.3,187.2 783.8,188.6 794.4,190.3 804.9,192.1 810.3,165.7 799.3,163.8 788.3,162.1 777.2,160.5" fill="#b2951c"/>
<polygon points="804.9,192.1 815.4,194.2 825.8,196.4 836.2,198.9 843.2,172.9 832.3,170.3 821.3,167.9 810.3,165.7" fill="#b3931b"/>
<polygon points="836.2,198.9 846.6,201.6 856.9,204.4 867.1,207.5 875.6,181.9 864.8,178.7 854.0,175.7 843.2,172.9" fill="#b3921b"/>
<polygon points="867.1,207.5 877.3,210.7 887.4,214.2 897.5,217.9 907.4,192.8 896.9,189.0 886.3,185.3 875.6,181.9" fill="#b3901a"/>
<polygon points="897.5,217.9 907.5,221.7 917.4,225.8 927.3,230.0 939.5,203.8 929.1,199.3 918.7,195.0 908.2,191.0" fill="#b48f1a"/>
<polygon points="927.3,230.0 937.0,234.4 946.7,239.1 956.3,243.9 970.0,218.4 959.9,213.3 949.8,208.5 939.5,203.8" fill="#b48d1a"/>
<polygon points="956.3,243.9 965.8,248.9 975.2,254.1 984.5,259.4 999.7,234.8 989.9,229.1 980.0,223.7 970.0,218.4" fill="#b48c19"/>
<polygon points="984.5,259.4 993.7,265.0 1002.8,270.7 1011.8,276.6 1028.4,252.9 1019.0,246.7 1009.4,240.6 999.7,234.8" fill="#b58a19"/>
<polygon points="1011.8,276.6 1020.7,282.7 1029.5,288.9 1038.1,295.4 1053.7,275.7 1044.7,268.9 1035.5,262.4 1026.2,256.0" fill="#b58918"/>
<polygon points="1038.1,295.4 1046.6,302.0 1055.0,308.7 1063.3,315.7 1080.0,296.9 1071.3,289.7 1062.6,282.6 1053.7,275.7" fill="#b68718"/>
<polygon points="1063.3,315.7 1071.4,322.8 1079.4,330.0 1087.3,337.4 1105.0,319.6 1096.8,311.9 1088.5,304.3 1080.0,296.9" fill="#b68518"/>
<polygon points="1087.3,337.4 1095.0,345.0 1102.5,352.7 1110.0,360.5 1128.7,343.8 1121.0,335.6 1113.1,327.6 1105.0,319.6" fill="#b68417"/>
<polygon points="1110.0,360.5 1117.2,368.5 1124.3,376.7 1131.3,385.0 1152.6,368.1 1145.3,359.4 1137.9,350.9 1130.3,342.5" fill="#b78217"/>
<polygon points="1131.3,385.0 1138.1,393.4 1144.7,402.0 1151.2,410.6 1173.5,395.0 1166.7,385.9 1159.7,377.0 1152.6,368.1" fill="#b78116"/>
<polygon points="1151.2,410.6 1157.5,419.5 1163.6,428.4 1169.6,437.4 1192.7,423.2 1186.5,413.7 1180.1,404.3 1173.5,395.0" fill="#b77f16"/>
<polygon points="1169.6,437.4 1175.4,446.6 1181.0,455.9 1186.4,465.3 1210.4,452.4 1204.7,442.6 1198.8,432.8 1192.7,423.2" fill="#b87e15"/>
<polygon points="1186.4,465.3 1191.7,474.8 1196.8,484.4 1201.6,494.1 1225.7,482.9 1220.6,472.7 1215.3,462.7 1209.8,452.7" fill="#b87c15"/>
<polygon points="1201.6,494.1 1206.3,504.0 1210.8,513.9 1215.1,523.8 1239.8,514.0 1235.3,503.6 1230.6,493.2 1225.7,482.9" fill="#b87a15"/>
<polygon points="1215.1,523.8 1219.3,533.9 1223.2,544.1 1226.9,554.3 1252.1,546.0 1248.2,535.2 1244.1,524.6 1239.8,514.0" fill="#b97914"/>
<polygon points="1226.9,554.3 1230.4,564.6 1233.8,575.0 1236.9,585.5 1262.6,578.6 1259.3,567.6 1255.8,556.8 1252.1,546.0" fill="#b97714"/>
<polygon points="1236.9,585.5 1239.8,596.0 1242.6,606.5 1245.1,617.2 1265.8,612.9 1263.2,601.9 1260.4,590.9 1257.3,580.0" fill="#b97614"/>
<polygon points="1245.1,617.2 1247.4,627.8 1249.5,638.6 1251.4,649.3 1272.3,646.2 1270.4,635.1 1268.2,624.0 1265.8,612.9" fill="#b97513"/>
<polygon points="1251.4,649.3 1253.1,660.1 1254.6,671.0 1255.8,681.8 1276.9,680.0 1275.6,668.7 1274.1,657.5 1272.3,646.2" fill="#b97413"/>
<polygon points="1255.8,681.8 1256.9,692.7 1257.8,703.6 1258.4,714.6 1279.5,714.0 1278.9,702.6 1278.0,691.3 1276.9,680.0" fill="#ba7213"/>
<polygon points="1258.4,714.6 1258.8,725.5 1259.0,736.5 1259.0,747.5 1291.8,748.4 1291.8,736.8 1291.6,725.2 1291.2,713.6" fill="#ba7113"/>
<polygon points="1259.0,747.5 1258.8,758.4 1258.4,769.4 1257.8,780.4 1290.4,783.2 1291.1,771.6 1291.6,760.0 1291.8,748.4" fill="#ba7012"/>
<polygon points="1257.8,780.4 1256.9,791.3 1255.8,802.2 1254.6,813.2 1287.0,817.9 1288.4,806.4 1289.5,794.8 1290.4,783.2" fill="#ba6f12"/>
<polygon points="1254.6,813.2 1253.1,824.1 1251.4,834.9 1249.5,845.8 1281.6,852.4 1283.6,840.9 1285.4,829.4 1287.0,817.9" fill="#ba6d12"/>
<polygon points="1249.5,845.8 1247.3,856.6 1245.0,867.3 1242.5,878.0 1275.2,886.8 1277.9,875.5 1280.4,864.1 1282.7,852.6" fill="#ba6c12"/>
<polygon points="1242.5,878.0 1239.7,888.7 1236.8,899.3 1233.6,909.9 1265.8,920.6 1269.2,909.4 1272.3,898.1 1275.2,886.8" fill="#ba6b11"/>
<polygon points="1233.6,909.9 1230.2,920.4 1226.7,930.9 1222.9,941.2 1254.4,953.7 1258.4,942.8 1262.2,931.7 1265.8,920.6" fill="#ba6911"/>
<polygon points="1222.9,941.2 1218.9,951.5 1214.7,961.8 1210.3,971.9 1241.1,986.2 1245.7,975.5 1250.2,964.7 1254.4,953.7" fill="#bb6811"/>
<polygon points="1210.3,971.9 1205.8,982.0 1201.0,992.0 1196.0,1001.8 1228.6,1019.4 1233.9,1008.9 1239.0,998.3 1243.9,987.6" fill="#bb6711"/>
<polygon points="1196.0,1001.8 1190.9,1011.6 1185.5,1021.3 1180.0,1030.9 1211.5,1050.4 1217.4,1040.2 1223.1,1029.8 1228.6,1019.4" fill="#bb6610"/>
<polygon points="1180.0,1030.9 1174.2,1040.4 1168.3,1049.8 1162.2,1059.1 1192.6,1080.3 1199.1,1070.4 1205.4,1060.5 1211.5,1050.4" fill="#bb6410"/>
<polygon points="1162.2,1059.1 1156.0,1068.2 1149.5,1077.2 1142.9,1086.1 1171.9,1109.1 1179.0,1099.6 1185.9,1090.0 1192.6,1080.3" fill="#bb6310"/>
<polygon points="1142.9,1086.1 1136.1,1094.9 1129.1,1103.6 1121.9,1112.1 1152.1,1138.9 1159.8,1129.8 1167.2,1120.6 1174.5,1111.2" fill="#bb6210"/>
<polygon points="1121.9,1112.1 1114.6,1120.5 1107.2,1128.7 1099.5,1136.8 1128.1,1165.3 1136.2,1156.7 1144.3,1147.9 1152.1,1138.9" fill="#bb610f"/>
<polygon points="1099.5,1136.8 1091.7,1144.7 1083.8,1152.5 1075.7,1160.2 1102.5,1190.3 1111.2,1182.1 1119.7,1173.8 1128.1,1165.3" fill="#bb5f0f"/>
<polygon points="1075.7,1160.2 1067.4,1167.7 1059.0,1175.0 1050.5,1182.2 1075.5,1213.8 1084.7,1206.2 1093.7,1198.3 1102.5,1190.3" fill="#bc5e0f"/>
<polygon points="1050.5,1182.2 1041.8,1189.2 1033.0,1196.0 1024.0,1202.7 1047.1,1235.7 1056.7,1228.5 1066.2,1221.2 1075.5,1213.7" fill="#bc5d0f"/>
<polygon points="1024.0,1202.7 1014.9,1209.1 1005.7,1215.5 996.4,1221.6 1017.5,1255.9 1027.5,1249.3 1037.4,1242.6 1047.1,1235.7" fill="#bc5b0e"/>
<polygon points="996.4,1221.6 986.9,1227.6 977.3,1233.3 967.6,1238.9 986.8,1274.4 997.1,1268.4 1007.4,1262.2 1017.5,1255.9" fill="#bc5a0e"/>
<polygon points="967.6,1238.9 957.8,1244.3 947.9,1249.6 937.9,1254.6 954.9,1291.1 965.7,1285.7 976.3,1280.2 986.8,1274.4" fill="#bc590e"/>
<polygon points="937.9,1254.6 927.8,1259.4 917.6,1264.0 907.3,1268.5 923.6,1309.5 934.7,1304.8 945.7,1299.8 956.6,1294.6" fill="#bc580e"/>
<polygon points="907.3,1268.5 896.9,1272.7 886.4,1276.8 875.9,1280.6 889.8,1322.5 901.1,1318.4 912.4,1314.1 923.6,1309.5" fill="#bc570d"/>
<polygon points="875.9,1280.6 865.3,1284.2 854.6,1287.6 843.8,1290.9 855.2,1333.5 866.8,1330.1 878.3,1326.4 889.8,1322.5" fill="#bc560d"/>
<polygon points="843.8,1290.9 833.0,1293.9 822.1,1296.7 811.1,1299.3 820.1,1342.5 831.8,1339.8 843.6,1336.8 855.2,1333.5" fill="#bc540d"/>
<polygon points="811.1,1299.3 800.1,1301.6 789.1,1303.8 778.0,1305.8 784.7,1351.9 796.7,1349.8 808.7,1347.5 820.5,1344.9" fill="#bd530d"/>
<polygon points="778.0,1305.8 766.8,1307.5 755.7,1309.0 744.5,1310.3 748.5,1356.8 760.6,1355.4 772.7,1353.7 784.7,1351.9" fill="#bd520d"/>
<polygon points="744.5,1310.3 733.2,1311.4 722.0,1312.3 710.7,1312.9 712.1,1359.5 724.3,1358.8 736.4,1357.9 748.5,1356.8" fill="#bd510d"/>
<polygon points="710.7,1312.9 699.4,1313.4 688.1,1313.6 676.8,1313.6 675.5,1360.2 687.7,1360.2 699.9,1360.0 712.1,1359.5" fill="#bd500c"/>
<polygon points="676.8,1313.6 665.5,1313.3 654.2,1312.9 643.0,1312.2 639.0,1357.8 651.2,1358.5 663.3,1359.0 675.5,1359.3" fill="#bd4f0c"/>
<polygon points="643.0,1312.2 631.7,1311.4 620.4,1310.3 609.2,1308.9 602.5,1354.2 614.7,1355.6 626.8,1356.8 639.0,1357.8" fill="#bd4e0c"/>
<polygon points="609.2,1308.9 597.9,1307.4 586.7,1305.6 575.6,1303.7 566.3,1348.5 578.4,1350.6 590.4,1352.5 602.5,1354.2" fill="#bd4c0c"/>
<polygon points="575.6,1303.7 564.4,1301.5 553.4,1299.1 542.3,1296.4 530.5,1340.6 542.4,1343.5 554.3,1346.1 566.3,1348.5" fill="#bd4b0c"/>
<polygon points="542.3,1296.4 531.3,1293.6 520.4,1290.5 509.5,1287.3 495.5,1329.6 507.2,1333.1 519.0,1336.4 530.8,1339.5" fill="#bd4a0b"/>
<polygon points="509.5,1287.3 498.7,1283.8 487.9,1280.1 477.2,1276.2 460.8,1317.7 472.3,1321.9 483.8,1325.9 495.5,1329.6" fill="#bd490b"/>
<polygon points="477.2,1276.2 466.6,1272.1 456.1,1267.8 445.6,1263.3 426.8,1303.7 438.0,1308.6 449.4,1313.2 460.8,1317.7" fill="#bd480b"/>
<polygon points="445.6,1263.3 435.3,1258.6 425.0,1253.6 414.8,1248.5 393.7,1287.8 404.6,1293.3 415.7,1298.6 426.8,1303.7" fill="#be470b"/>
<polygon points="414.8,1248.5 404.7,1243.2 394.7,1237.7 384.9,1232.0 362.2,1268.7 372.8,1274.8 383.5,1280.7 394.4,1286.5" fill="#be460b"/>
<polygon points="384.9,1232.0 375.1,1226.1 365.4,1220.0 355.9,1213.7 331.2,1249.0 341.4,1255.8 351.8,1262.3 362.2,1268.7" fill="#be440b"/>
<polygon points="355.9,1213.7 346.5,1207.2 337.2,1200.6 328.0,1193.7 301.3,1227.5 311.1,1234.9 321.1,1242.0 331.2,1249.0" fill="#be430a"/>
<polygon points="328.0,1193.7 319.0,1186.7 310.1,1179.5 301.3,1172.2 272.7,1204.4 282.1,1212.3 291.6,1220.0 301.3,1227.5" fill="#be420a"/>
<polygon points="301.3,1172.2 292.7,1164.6 284.2,1156.9 275.9,1149.0 246.7,1178.2 255.6,1186.6 264.7,1194.9 273.9,1203.0" fill="#be410a"/>
<polygon points="275.9,1149.0 267.7,1141.0 259.7,1132.8 251.8,1124.5 221.0,1151.9 229.4,1160.8 238.0,1169.6 246.7,1178.2" fill="#be400a"/>
<polygon points="251.8,1124.5 244.1,1116.0 236.6,1107.3 229.2,1098.5 196.9,1124.1 204.7,1133.5 212.8,1142.8 221.0,1151.9" fill="#be3e0a"/>
<polygon points="229.2,1098.5 222.0,1089.6 215.0,1080.5 208.1,1071.2 174.3,1094.9 181.6,1104.8 189.2,1114.5 196.9,1124.1" fill="#be3d0a"/>
<polygon points="208.1,1071.2 201.4,1061.9 194.9,1052.4 188.6,1042.8 152.9,1064.8 159.7,1075.1 166.6,1085.3 173.8,1095.3" fill="#be3b0a"/>
<polygon points="188.6,1042.8 182.5,1033.0 176.5,1023.2 170.8,1013.2 133.9,1033.1 140.0,1043.8 146.4,1054.3 152.9,1064.8" fill="#be3a0a"/>
<polygon points="170.8,1013.2 165.2,1003.1 159.9,992.9 154.7,982.6 116.7,1000.3 122.2,1011.3 127.9,1022.3 133.9,1033.1" fill="#be380a"/>
<polygon points="154.7,982.6 149.7,972.1 144.9,961.6 140.4,951.0 101.4,966.5 106.3,977.9 111.4,989.1 116.7,1000.3" fill="#be370a"/>
<polygon points="140.4,951.0 136.0,940.3 131.9,929.5 127.9,918.7 89.2,931.5 93.4,943.1 97.8,954.6 102.5,966.1" fill="#be3509"/>
<polygon points="127.9,918.7 124.2,907.7 120.7,896.7 117.4,885.6 78.0,896.2 81.5,908.0 85.2,919.8 89.2,931.5" fill="#be3409"/>
<polygon points="117.4,885.6 114.3,874.5 111.4,863.3 108.7,852.0 68.8,860.2 71.6,872.3 74.7,884.3 78.0,896.2" fill="#be3209"/>
<polygon points="108.7,852.0 106.3,840.7 104.1,829.3 102.1,817.9 61.7,823.8 63.8,836.0 66.2,848.1 68.8,860.2" fill="#be3109"/>
<polygon points="102.1,817.9 100.3,806.4 98.7,794.9 97.4,783.4 59.8,786.7 61.2,798.9 62.9,811.1 64.7,823.3" fill="#be2f09"/>
<polygon points="97.4,783.4 96.3,771.8 95.4,760.2 94.7,748.6 57.0,749.7 57.7,762.1 58.6,774.4 59.8,786.7" fill="#be2e09"/>
<polygon points="94.7,748.6 94.3,737.0 94.1,725.4 94.1,713.7 56.4,712.7 56.3,725.0 56.6,737.4 57.0,749.7" fill="#be2c09"/>
<polygon points="94.1,713.7 94.3,702.1 94.8,690.5 95.5,678.9 57.9,675.6 57.1,687.9 56.6,700.3 56.4,712.7" fill="#be2b09"/>
<polygon points="95.5,678.9 96.4,667.2 97.5,655.6 98.9,644.1 64.6,639.1 63.1,651.3 61.9,663.6 60.9,675.8" fill="#be2a09"/>
<polygon points="98.9,644.1 100.5,632.5 102.3,621.0 104.3,609.5 70.4,602.5 68.2,614.6 66.3,626.8 64.6,639.1" fill="#be2909"/>
<polygon points="104.3,609.5 106.6,598.1 109.1,586.6 111.8,575.3 78.3,566.3 75.4,578.3 72.8,590.4 70.4,602.5" fill="#be2709"/>
<polygon points="111.8,575.3 114.7,564.0 117.9,552.7 121.2,541.5 88.3,530.6 84.7,542.4 81.4,554.3 78.3,566.3" fill="#be2609"/>
<polygon points="121.2,541.5 124.8,530.4 128.6,519.3 132.6,508.3 98.6,494.8 94.4,506.5 90.3,518.2 86.5,530.0" fill="#be2509"/>
<polygon points="132.6,508.3 136.9,497.4 141.3,486.6 146.0,475.8 112.8,460.3 107.9,471.7 103.1,483.2 98.6,494.8" fill="#be2409"/>
<polygon points="146.0,475.8 150.8,465.1 155.9,454.6 161.2,444.1 129.0,426.7 123.4,437.8 118.0,449.0 112.8,460.3" fill="#be2309"/>
<polygon points="161.2,444.1 166.7,433.7 172.3,423.4 178.2,413.3 147.1,394.1 140.8,404.8 134.8,415.7 129.0,426.7" fill="#be2209"/>
<polygon points="178.2,413.3 184.3,403.2 190.6,393.3 197.1,383.5 163.1,359.7 156.2,370.2 149.5,380.8 143.0,391.5" fill="#be2109"/>
<polygon points="197.1,383.5 203.7,373.8 210.6,364.2 217.6,354.8 185.1,329.1 177.6,339.2 170.3,349.4 163.1,359.7" fill="#be1f09"/>
<polygon points="217.6,354.8 224.8,345.5 232.2,336.3 239.8,327.3 208.9,299.8 200.8,309.4 192.8,319.2 185.1,329.1" fill="#be1e09"/>
<polygon points="239.8,327.3 247.6,318.4 255.5,309.7 263.6,301.2 234.3,271.9 225.7,281.0 217.2,290.3 208.9,299.8" fill="#be1d09"/>
<polygon points="263.6,301.2 271.9,292.7 280.3,284.5 288.9,276.4 257.1,240.6 247.8,249.3 238.7,258.2 229.7,267.3" fill="#be1c0a"/>
<polygon points="288.9,276.4 297.7,268.5 306.6,260.7 315.7,253.1 285.9,215.6 276.2,223.7 266.5,232.1 257.1,240.6" fill="#be1b0a"/>
<polygon points="315.7,253.1 324.9,245.7 334.2,238.5 343.7,231.5 316.2,192.2 306.0,199.8 295.9,207.6 285.9,215.6" fill="#be1a0a"/>
<polygon points="343.7,231.5 353.4,224.6 363.1,217.9 373.0,211.4 347.9,170.6 337.2,177.6 326.6,184.8 316.2,192.2" fill="#be190a"/>
<polygon points="373.0,211.4 383.1,205.1 393.2,199.0 403.5,193.1 384.8,158.4 373.8,164.7 363.0,171.2 352.3,177.9" fill="#be180a"/>
<polygon points="403.5,193.1 413.9,187.4 424.4,181.9 435.0,176.5 418.3,140.8 407.0,146.5 395.8,152.3 384.8,158.4" fill="#be160a"/>
<polygon points="435.0,176.5 445.7,171.4 456.5,166.5 467.4,161.8 452.9,125.2 441.3,130.2 429.7,135.4 418.3,140.8" fill="#be150a"/>
<polygon points="467.4,161.8 478.5,157.4 489.5,153.1 500.7,149.1 488.3,111.6 476.4,115.9 464.6,120.5 452.9,125.2" fill="#be140a"/>
<polygon points="500.7,149.1 512.0,145.2 523.3,141.6 534.7,138.2 524.6,100.6 512.5,104.2 500.4,108.0 488.5,112.1" fill="#be130a"/>
<polygon points="534.7,138.2 546.2,135.0 557.7,132.1 569.3,129.3 561.5,91.2 549.1,94.1 536.9,97.2 524.6,100.6" fill="#be120a"/>
<polygon points="569.3,129.3 581.0,126.8 592.7,124.6 604.5,122.5 598.8,84.0 586.3,86.1 573.9,88.5 561.5,91.2" fill="#be110a"/>
<polygon points="604.5,122.5 616.2,120.7 628.1,119.1 639.9,117.7 636.5,78.9 623.9,80.3 611.3,82.0 598.8,84.0" fill="#be100a"/>
</g>
<circle cx="812.0" cy="478.6" r="14.8" fill="#b0b0b0"/>
<circle cx="1003.0" cy="558.5" r="14.8" fill="#b0b0b0"/>
<circle cx="1121.0" cy="766.4" r="14.8" fill="#b0b0b0"/>
<circle cx="1077.2" cy="1058.5" r="14.8" fill="#b0b0b0"/>
<circle cx="851.2" cy="1289.2" r="14.8" fill="#b0b0b0"/>
<circle cx="508.0" cy="986.4" r="14" fill="none" stroke="#aaaaaa" stroke-width="2"/>
<circle cx="331.6" cy="879.2" r="14" fill="none" stroke="#aaaaaa" stroke-width="2"/>
<circle cx="237.0" cy="639.2" r="14" fill="none" stroke="#aaaaaa" stroke-width="2"/>
<circle cx="324.8" cy="334.4" r="14" fill="none" stroke="#aaaaaa" stroke-width="2"/>
<g fill="none" stroke="#a6a6a6" stroke-width="1.15">
<path d="M553.1 503.3 L558.4 499.9 L563.7 496.6 L569.0 493.4 L574.5 490.3 L580.0 487.4 L585.6 484.6 L591.3 481.9 L597.0 479.3 L602.8 476.9 L608.7 474.6 L614.6 472.5 L620.6 470.4 L626.6 468.6 L632.7 466.8 L638.8 465.2 L645.0 463.8 L651.2 462.5 L657.4 461.3 L663.7 460.3 L670.0 459.4 L676.3 458.7 L682.6 458.1 L689.0 457.6 L695.3 457.3 L701.7 457.2 L708.1 457.2 L714.5 457.4 L720.9 457.7 L727.3 458.1 L733.7 458.7 L740.0 459.5 L746.4 460.4 L752.7 461.4 L759.1 462.6 L765.4 464.0 L771.6 465.5 L777.9 467.1 L784.1 468.9 L790.2 470.9 L796.4 472.9 L802.5 475.2 L808.5 477.5 L814.5 480.0 L820.4 482.7 L826.3 485.5 L832.1 488.4 L837.8 491.5 L843.5 494.7 L849.1 498.0 L854.6 501.5 L860.1 505.1 L865.5 508.9 L870.7 512.7 L875.9 516.7 L881.1 520.8 L886.1 525.0 L891.0 529.4 L895.8 533.9 L900.6 538.5 L905.2 543.2 L909.7 548.0 L914.1 552.9 L918.4 557.9 L922.6 563.0 L926.6 568.3 L930.6 573.6 L934.4 579.0 L938.1 584.5 L941.6 590.1 L945.1 595.8 L948.4 601.6 L951.6 607.4 L954.6 613.4 L957.5 619.4 L960.3 625.5 L962.9 631.6 L965.4 637.8 L967.7 644.1 L969.9 650.4 L972.0 656.8 L973.9 663.3 L975.6 669.7 L977.2 676.3 L978.7 682.8 L980.0 689.5 L981.1 696.1 L982.1 702.8 L982.9 709.5 L983.6 716.2 L984.1 723.0 L984.5 729.7 L984.7 736.5 L984.8 743.3 L984.6 750.1 L984.4 756.9 L983.9 763.7 L983.4 770.4 L982.6 777.2 L981.7 784.0 L980.7 790.7 L979.4 797.4 L978.1 804.1 L976.5 810.8 L974.8 817.4 L973.0 824.0 L971.0 830.6 L968.8 837.1 L966.5 843.6 L964.1 850.0 L961.5 856.4 L958.7 862.7 L955.8 869.0 L952.7 875.1 L949.5 881.3 L946.2 887.3 L942.7 893.3 L939.1 899.2 L935.3 905.0 L931.4 910.7 L927.3 916.4 L923.1 921.9 L918.8 927.4 L914.4 932.7 L909.8 938.0 L905.1 943.2 L900.3 948.2 L895.4 953.2 L890.3 958.0 L885.1 962.7 L879.8 967.3 L874.4 971.8 L868.9 976.1 L863.3 980.3 L857.6 984.4 L851.8 988.4 L845.9 992.2 L839.9 995.9 L833.8 999.5 L827.6 1002.9 L821.4 1006.2 L815.0 1009.3 L808.6 1012.3 L802.1 1015.1 L795.6 1017.8 L789.0 1020.3 L782.3 1022.7 L775.5 1025.0 L768.7 1027.0 L761.9 1028.9 L755.0 1030.7 L748.0 1032.3 L741.0 1033.7 L734.0 1035.0 L727.0 1036.1 L719.9 1037.1 L712.8 1037.8 L705.6 1038.4 L698.5 1038.9 L691.3 1039.2 L684.1 1039.3 L676.9 1039.2 L669.7 1039.0 L662.5 1038.6 L655.4 1038.1 L648.2 1037.3 L641.0 1036.5 L633.9 1035.4 L626.8 1034.2 L619.7 1032.8 L612.6 1031.2 L605.6 1029.5 L598.6 1027.6 L591.6 1025.5 L584.7 1023.3 L577.8 1020.9 L571.0 1018.4 L564.2 1015.7 L557.5 1012.8 L550.9 1009.8 L544.3 1006.6 L537.8 1003.3 L531.4 999.8 L525.0 996.2 L518.8 992.4 L512.6 988.5 L506.5 984.4 L500.5 980.1 L494.6 975.8 L488.8 971.3 L483.1 966.6 L477.5 961.8 L472.0 956.9 L466.6 951.9 L461.3 946.7 L456.2 941.4 L451.2 936.0 L446.3 930.4 L441.5 924.8 L436.8 919.0 L432.3 913.1 L427.9 907.1 L423.7 901.0 L419.6 894.8 L415.6 888.5 L411.8 882.1 L408.2 875.6 L404.6 869.1 L401.3 862.4 L398.1 855.7 L395.0 848.8 L392.1 841.9 L389.4 835.0 L386.8 827.9 L384.4 820.8 L382.1 813.7 L380.0 806.4 L378.1 799.2 L376.4 791.9 L374.8 784.5 L373.4 777.1 L372.2 769.7 L371.1 762.2 L370.2 754.7 L369.5 747.2 L368.9 739.6 L368.6 732.0 L368.4 724.5 L368.4 716.9 L368.5 709.3 L368.9 701.7 L369.4 694.1 L370.1 686.6 L371.0 679.0 L372.0 671.4 L373.3 663.9 L374.7 656.4 L376.2 648.9 L378.0 641.5 L379.9 634.1 L382.0 626.7 L384.3 619.4 L386.7 612.2 L389.4 605.0 L392.2 597.8 L395.1 590.7 L398.2 583.7 L401.5 576.7 L405.0 569.8 L408.6 563.0 L412.4 556.3 L416.3 549.7 L420.4 543.1 L424.6 536.6 L429.0 530.3 L433.6 524.0 L438.3 517.9 L443.1 511.8 L448.1 505.8 L453.2 500.0 L458.5 494.3 L463.9 488.7 L469.4 483.2 L475.1 477.9 L480.9 472.7 L486.8 467.6 L492.8 462.6 L499.0 457.8 L505.3 453.2 L511.7 448.6 L518.2 444.2 L524.8 440.0 L531.5 435.9 L538.3 432.0 L545.1 428.3 L552.1 424.6 L559.2 421.2 L566.4 417.9 L573.6 414.8 L580.9 411.8 L588.3 409.1 L595.7 406.5 L603.3 404.0 L610.8 401.8 L618.5 399.7 L626.2 397.8 L633.9 396.0 L641.7 394.5 L649.5 393.1 L657.3 391.9 L665.2 390.9 L673.1 390.1 L681.1 389.4 L689.0 389.0 L697.0 388.7 L705.0 388.6 L713.0 388.7 L721.0 389.0 L728.9 389.5 L736.9 390.2 L744.9 391.0 L752.8 392.0 L760.8 393.3 L768.7 394.7 L776.5 396.2 L784.4 398.0 L792.2 400.0 L799.9 402.1 L807.7 404.4 L815.3 406.9 L822.9 409.6 L830.5 412.5 L838.0 415.5 L845.4 418.7 L852.7 422.1 L860.0 425.7 L867.2 429.4 L874.3 433.3 L881.3 437.4 L888.3 441.6 L895.1 446.0 L901.8 450.6 L908.4 455.3 L915.0 460.2 L921.4 465.2 L927.7 470.4 L933.9 475.8 L939.9 481.2 L945.9 486.9 L951.7 492.6 L957.3 498.5 L962.9 504.6 L968.3 510.7 L973.5 517.0 L978.6 523.5 L983.6 530.0 L988.4 536.7 L993.1 543.4 L997.6 550.3 L1001.9 557.3 L1006.1 564.4 L1010.1 571.6 L1014.0 578.9 L1017.7 586.3 L1021.2 593.8 L1024.6 601.4 L1027.7 609.0 L1030.7 616.8 L1033.5 624.6 L1036.2 632.4 L1038.6 640.4 L1040.9 648.4 L1043.0 656.4 L1044.9 664.5 L1046.6 672.7 L1048.1 680.9 L1049.4 689.1 L1050.5 697.4 L1051.5 705.7 L1052.2 714.0 L1052.8 722.4 L1053.1 730.7 L1053.3 739.1 L1053.3 747.5 L1053.0 755.9 L1052.6 764.2 L1052.0 772.6 L1051.2 781.0 L1050.2 789.3 L1049.0 797.7 L1047.6 806.0 L1046.0 814.3 L1044.2 822.5 L1042.2 830.7 L1040.1 838.9 L1037.7 847.0 L1035.2 855.0 L1032.4 863.1 L1029.5 871.0 L1026.4 878.9 L1023.1 886.7 L1019.6 894.4 L1015.9 902.1 L1012.1 909.7 L1008.0 917.2 L1003.8 924.6 L999.5 931.9 L994.9 939.1 L990.2 946.2 L985.3 953.2 L980.3 960.1 L975.0 966.9 L969.7 973.5 L964.1 980.0 L958.5 986.5 L952.6 992.7 L946.6 998.9 L940.5 1004.9 L934.2 1010.7 L927.8 1016.5 L921.3 1022.0 L914.6 1027.5 L907.8 1032.7 L900.8 1037.8 L893.8 1042.8 L886.6 1047.6 L879.3 1052.2 L871.9 1056.7 L864.4 1060.9 L856.8 1065.1 L849.0 1069.0 L841.2 1072.8 L833.3 1076.3 L825.3 1079.7 L817.3 1082.9 L809.1 1086.0 L800.9 1088.8 L792.6 1091.4 L784.3 1093.9 L775.9 1096.2 L767.4 1098.2 L758.9 1100.1 L750.3 1101.8 L741.7 1103.2 L733.0 1104.5 L724.3 1105.6 L715.6 1106.4 L706.9 1107.1 L698.1 1107.5 L689.4 1107.8 L680.6 1107.9 L671.8 1107.7 L663.0 1107.3 L654.2 1106.8 L645.5 1106.0 L636.7 1105.0 L628.0 1103.9 L619.3 1102.5 L610.6 1100.9 L601.9 1099.1 L593.3 1097.1 L584.8 1094.9 L576.3 1092.5 L567.8 1089.9 L559.4 1087.1 L551.0 1084.2 L542.7 1081.0 L534.5 1077.6 L526.4 1074.0 L518.3 1070.3 L510.4 1066.3 L502.5 1062.2 L494.7 1057.8 L487.0 1053.3 L479.4 1048.6 L471.9 1043.8 L464.6 1038.7 L457.3 1033.5 L450.2 1028.1 L443.2 1022.6 L436.3 1016.8 L429.5 1011.0 L422.9 1004.9 L416.4 998.7 L410.1 992.4 L403.9 985.8 L397.8 979.2 L391.9 972.4 L386.2 965.5 L380.6 958.4 L375.2 951.2 L369.9 943.8 L364.9 936.4 L359.9 928.8 L355.2 921.1 L350.7 913.3 L346.3 905.4 L342.1 897.3 L338.1 889.2 L334.3 881.0 L330.6 872.7 L327.2 864.3 L324.0 855.8 L320.9 847.2 L318.1 838.6 L315.4 829.9 L313.0 821.1 L310.7 812.2 L308.7 803.4 L306.9 794.4 L305.2 785.4 L303.8 776.4 L302.6 767.3 L301.6 758.2 L300.9 749.1 L300.3 740.0 L299.9 730.8 L299.8 721.6 L299.9 712.4 L300.2 703.3 L300.7 694.1 L301.4 684.9 L302.3 675.8 L303.5 666.6 L304.8 657.5 L306.4 648.4 L308.2 639.4 L310.2 630.3 L312.4 621.4 L314.8 612.4 L317.4 603.6 L320.2 594.8 L323.3 586.0 L326.5 577.3 L330.0 568.7 L333.6 560.2 L337.5 551.7 L341.5 543.4 L345.8 535.1 L350.2 526.9 L354.8 518.8 L359.7 510.9 L364.7 503.0 L369.9 495.3 L375.2 487.6 L380.8 480.1 L386.5 472.7 L392.4 465.5 L398.5 458.4 L404.8 451.4 L411.2 444.6 L417.7 437.9 L424.5 431.3 L431.4 425.0 L438.4 418.7 L445.6 412.7 L452.9 406.8 L460.4 401.1 L468.0 395.5 L475.7 390.1 L483.6 384.9 L491.6 379.9 L499.7 375.1 L507.9 370.4 L516.3 366.0 L524.7 361.7 L533.2 357.6 L541.9 353.8 L550.6 350.1 L559.5 346.6 L568.4 343.4 L577.4 340.3 L586.4 337.5 L595.5 334.8 L604.7 332.4 L614.0 330.2 L623.3 328.2 L632.7 326.4 L642.1 324.8 L651.5 323.5 L661.0 322.4 L670.5 321.5 L680.1 320.8 L689.6 320.3 L699.2 320.1 L708.8 320.1 L718.3 320.3 L727.9 320.7 L737.5 321.4 L747.1 322.2 L756.6 323.4 L766.1 324.7 L775.6 326.2 L785.1 328.0 L794.5 330.0 L803.9 332.2 L813.2 334.6 L822.5 337.3 L831.7 340.1 L840.9 343.2 L849.9 346.5 L859.0 350.0 L867.9 353.7 L876.7 357.7 L885.5 361.8 L894.2 366.2 L902.7 370.7 L911.2 375.4 L919.6 380.4 L927.8 385.5 L935.9 390.9 L943.9 396.4 L951.8 402.1 L959.6 408.0 L967.2 414.1 L974.7 420.4 L982.0 426.8 L989.2 433.4 L996.2 440.2 L1003.1 447.2 L1009.8 454.3 L1016.4 461.5 L1022.8 469.0 L1029.0 476.6 L1035.0 484.3 L1040.9 492.2 L1046.6 500.2 L1052.1 508.3 L1057.4 516.6 L1062.5 525.0 L1067.4 533.5 L1072.1 542.1 L1076.7 550.9 L1081.0 559.8 L1085.1 568.7 L1089.0 577.8 L1092.7 587.0 L1096.2 596.2 L1099.5 605.5 L1102.5 614.9 L1105.4 624.4 L1108.0 634.0 L1110.4 643.6 L1112.6 653.3 L1114.5 663.0 L1116.3 672.8 L1117.7 682.6 L1119.0 692.5 L1120.0 702.4 L1120.9 712.3 L1121.4 722.3 L1121.8 732.2 L1121.9 742.2 L1121.8 752.2 L1121.4 762.1 L1120.8 772.1 L1120.0 782.1 L1119.0 792.0 L1117.7 802.0 L1116.2 811.9 L1114.4 821.7 L1112.4 831.6 L1110.2 841.3 L1107.8 851.1 L1105.1 860.8 L1102.2 870.4 L1099.1 880.0 L1095.8 889.4 L1092.2 898.9 L1088.4 908.2 L1084.4 917.5 L1080.2 926.6 L1075.8 935.7 L1071.1 944.6 L1066.3 953.5 L1061.2 962.3 L1056.0 970.9 L1050.5 979.4 L1044.8 987.8 L1038.9 996.1 L1032.9 1004.2 L1026.6 1012.2 L1020.2 1020.0 L1013.6 1027.7 L1006.7 1035.3 L999.8 1042.6 L992.6 1049.9 L985.3 1056.9 L977.8 1063.8 L970.1 1070.5 L962.3 1077.1 L954.3 1083.5 L946.2 1089.6 L937.9 1095.6 L929.5 1101.4 L920.9 1107.0 L912.2 1112.4 L903.4 1117.6 L894.5 1122.7 L885.4 1127.4 L876.2 1132.0 L867.0 1136.4 L857.6 1140.6 L848.1 1144.5 L838.5 1148.2 L828.8 1151.7 L819.1 1155.0 L809.2 1158.1 L799.3 1160.9 L789.3 1163.5 L779.3 1165.8 L769.2 1168.0 L759.0 1169.8 L748.8 1171.5 L738.6 1172.9 L728.3 1174.1 L718.0 1175.0 L707.7 1175.7 L697.3 1176.2 L686.9 1176.4 L676.6 1176.4 L666.2 1176.1 L655.8 1175.6 L645.4 1174.9 L635.1 1173.9 L624.8 1172.6 L614.5 1171.2 L604.2 1169.5 L593.9 1167.5 L583.7 1165.3 L573.6 1162.9 L563.5 1160.2 L553.5 1157.3 L543.5 1154.2 L533.6 1150.8 L523.8 1147.2 L514.0 1143.3 L504.4 1139.3 L494.8 1135.0 L485.3 1130.5 L476.0 1125.7 L466.7 1120.8 L457.6 1115.6 L448.6 1110.2 L439.7 1104.6 L430.9 1098.8 L422.2 1092.8 L413.7 1086.6 L405.4 1080.2 L397.2 1073.5 L389.1 1066.7 L381.2 1059.7 L373.4 1052.5 L365.9 1045.2 L358.4 1037.6 L351.2 1029.9 L344.1 1022.0 L337.3 1014.0 L330.6 1005.7 L324.1 997.4 L317.8 988.8 L311.7 980.1 L305.7 971.3 L300.0 962.3 L294.5 953.2 L289.3 944.0 L284.2 934.6 L279.3 925.2 L274.7 915.6 L270.3 905.8 L266.1 896.0 L262.1 886.1 L258.4 876.1 L254.9 866.0 L251.6 855.8 L248.6 845.6 L245.8 835.2 L243.2 824.8 L240.9 814.3 L238.9 803.8 L237.0 793.2 L235.5 782.6 L234.1 772.0 L233.1 761.3 L232.2 750.6 L231.6 739.8 L231.3 729.0 L231.2 718.3 L231.4 707.5 L231.8 696.7 L232.5 685.9 L233.4 675.2 L234.6 664.5 L236.0 653.7 L237.7 643.1 L239.6 632.4 L241.8 621.8 L244.2 611.2 L246.9 600.7 L249.8 590.3 L252.9 579.9 L256.4 569.6 L260.0 559.4 L263.9 549.2 L268.0 539.2 L272.3 529.2 L276.9 519.3 L281.8 509.6 L286.8 499.9 L292.1 490.4 L297.6 480.9 L303.3 471.6 L309.2 462.5 L315.4 453.5 L321.8 444.6 L328.3 435.8 L335.1 427.2 L342.1 418.8 L349.3 410.5 L356.6 402.4 L364.2 394.5 L372.0 386.7 L379.9 379.1 L388.0 371.7 L396.3 364.5 L404.8 357.5 L413.4 350.6 L422.2 344.0 L431.1 337.6 L440.2 331.4 L449.5 325.3 L458.9 319.6 L468.4 314.0 L478.0 308.6 L487.8 303.5 L497.7 298.6 L507.8 293.9 L517.9 289.4 L528.1 285.2 L538.5 281.3 L548.9 277.5 L559.4 274.0 L570.1 270.8 L580.7 267.8 L591.5 265.0 L602.3 262.5 L613.2 260.3 L624.2 258.3 L635.2 256.5 L646.2 255.0 L657.3 253.8 L668.4 252.8 L679.5 252.1 L690.7 251.7 L701.9 251.5 L713.0 251.5 L724.2 251.9 L735.4 252.5 L746.5 253.3 L757.7 254.4 L768.8 255.8 L779.9 257.4 L791.0 259.3 L802.0 261.4 L812.9 263.8 L823.9 266.5 L834.7 269.4 L845.5 272.6 L856.2 276.0 L866.9 279.7 L877.4 283.6 L887.9 287.8 L898.3 292.2 L908.5 296.8 L918.7 301.7 L928.8 306.9 L938.7 312.2 L948.5 317.8 L958.2 323.7 L967.8 329.7 L977.2 336.0 L986.5 342.5 L995.6 349.2 L1004.6 356.2 L1013.4 363.3 L1022.0 370.7 L1030.5 378.2 L1038.8 386.0 L1046.9 393.9 L1054.9 402.1 L1062.6 410.4 L1070.2 418.9 L1077.6 427.6 L1084.7 436.5 L1091.7 445.5 L1098.4 454.7 L1105.0 464.1 L1111.3 473.6 L1117.4 483.3 L1123.3 493.1 L1128.9 503.0 L1134.4 513.1 L1139.5 523.3 L1144.5 533.6 L1149.2 544.1 L1153.7 554.7 L1157.9 565.3 L1161.9 576.1 L1165.6 587.0 L1169.1 597.9 L1172.3 609.0 L1175.2 620.1 L1178.0 631.3 L1180.4 642.5 L1182.6 653.9 L1184.5 665.2 L1186.1 676.6 L1187.5 688.1 L1188.7 699.6 L1189.5 711.1 L1190.1 722.7 L1190.4 734.2 L1190.5 745.8 L1190.2 757.4 L1189.7 768.9 L1189.0 780.5 L1187.9 792.1 L1186.6 803.6 L1185.1 815.1 L1183.2 826.5 L1181.1 838.0 L1178.8 849.4 L1176.1 860.7 L1173.2 871.9 L1170.0 883.2 L1166.6 894.3 L1162.9 905.3 L1159.0 916.3 L1154.8 927.2 L1150.3 938.0 L1145.6 948.7 L1140.6 959.2 L1135.4 969.7 L1130.0 980.1 L1124.3 990.3 L1118.3 1000.4 L1112.2 1010.3 L1105.8 1020.1 L1099.1 1029.8 L1092.3 1039.3 L1085.2 1048.7 L1077.9 1057.9 L1070.4 1066.9 L1062.6 1075.7 L1054.7 1084.4 L1046.5 1092.9 L1038.2 1101.2 L1029.6 1109.3 L1020.9 1117.2 L1012.0 1124.9 L1002.9 1132.4 L993.6 1139.7 L984.2 1146.8 L974.5 1153.7 L964.8 1160.3 L954.8 1166.7 L944.7 1172.9 L934.5 1178.9 L924.1 1184.6 L913.6 1190.1 L903.0 1195.3 L892.2 1200.3 L881.3 1205.0 L870.3 1209.5 L859.2 1213.7 L848.0 1217.7 L836.7 1221.4 L825.3 1224.8 L813.9 1228.0 L802.3 1230.9 L790.7 1233.5 L779.0 1235.9 L767.3 1238.0 L755.5 1239.8 L743.7 1241.4 L731.8 1242.7 L719.9 1243.7 L707.9 1244.4 L696.0 1244.8 L684.0 1245.0 L672.0 1244.9 L660.1 1244.5 L648.1 1243.8 L636.1 1242.9 L624.2 1241.7 L612.3 1240.2 L600.4 1238.4 L588.6 1236.3 L576.8 1234.0 L565.1 1231.4 L553.4 1228.5 L541.8 1225.3 L530.2 1221.9 L518.7 1218.2 L507.4 1214.2 L496.1 1210.0 L484.9 1205.5 L473.8 1200.7 L462.8 1195.7 L451.9 1190.4 L441.2 1184.9 L430.5 1179.1 L420.0 1173.1 L409.7 1166.8 L399.5 1160.3 L389.4 1153.5 L379.5 1146.5 L369.8 1139.3 L360.2 1131.8 L350.8 1124.2 L341.5 1116.3 L332.5 1108.1 L323.6 1099.8 L315.0 1091.3 L306.5 1082.5 L298.2 1073.6 L290.2 1064.4 L282.3 1055.1 L274.7 1045.6 L267.3 1035.9 L260.1 1026.0 L253.1 1016.0 L246.4 1005.8 L239.9 995.4 L233.6 984.9 L227.6 974.3 L221.9 963.5 L216.3 952.5 L211.1 941.4 L206.1 930.2 L201.3 918.9 L196.9 907.5 L192.6 896.0 L188.7 884.3 L185.0 872.6 L181.6 860.8 L178.5 848.9 L175.6 836.9 L173.1 824.8 L170.8 812.7 L168.8 800.6 L167.0 788.4 L165.6 776.1 L164.4 763.8 L163.6 751.5 L163.0 739.1 L162.7 726.8 L162.7 714.4 L162.9 702.0 L163.5 689.7 L164.4 677.3 L165.5 665.0 L166.9 652.7 L168.7 640.4 L170.7 628.1 L173.0 615.9 L175.5 603.8 L178.4 591.7 L181.5 579.6 L185.0 567.7 L188.7 555.8 L192.6 544.0 L196.9 532.3 L201.4 520.7 L206.2 509.2 L211.3 497.8 L216.6 486.5 L222.2 475.3 L228.1 464.3 L234.2 453.4 L240.6 442.6 L247.2 432.0 L254.1 421.5 L261.2 411.2 L268.6 401.1 L276.2 391.1 L284.0 381.3 L292.1 371.7 L300.4 362.3 L308.9 353.1 L317.6 344.0 L326.6 335.2 L335.7 326.6 L345.1 318.1 L354.6 309.9 L364.4 302.0 L374.3 294.2 L384.4 286.7 L394.7 279.4 L405.2 272.3 L415.8 265.5 L426.6 258.9 L437.5 252.6 L448.6 246.6 L459.9 240.8 L471.2 235.2 L482.7 229.9 L494.4 224.9 L506.1 220.2 L518.0 215.7 L530.0 211.5 L542.0 207.6 L554.2 204.0 L566.4 200.6 L578.8 197.6 L591.2 194.8 L603.6 192.3 L616.2 190.1 L628.8 188.2 L641.4 186.6 L654.1 185.2 L666.8 184.2 L679.5 183.5 L692.3 183.0 L705.0 182.9 L717.8 183.1 L730.6 183.5 L743.3 184.3 L756.1 185.3 L768.8 186.7 L781.5 188.3 L794.2 190.2 L806.8 192.5 L819.4 195.0 L831.9 197.8 L844.3 201.0 L856.7 204.4 L869.0 208.1 L881.2 212.0 L893.3 216.3 L905.4 220.9 L917.3 225.7 L929.1 230.8 L940.8 236.2 L952.4 241.9 L963.8 247.8 L975.1 254.0 L986.3 260.5 L997.3 267.2 L1008.2 274.2 L1018.9 281.4 L1029.4 288.9 L1039.8 296.6 L1050.0 304.6 L1060.0 312.8 L1069.8 321.3 L1079.4 330.0 L1088.8 338.9 L1098.0 348.0 L1107.0 357.4 L1115.8 366.9 L1124.4 376.7 L1132.7 386.7 L1140.8 396.8 L1148.7 407.2 L1156.3 417.7 L1163.7 428.4 L1170.8 439.3 L1177.7 450.4 L1184.3 461.6 L1190.7 473.0 L1196.8 484.5 L1202.6 496.2 L1208.2 508.0 L1213.5 519.9 L1218.5 532.0 L1223.2 544.2 L1227.7 556.5 L1231.8 568.9 L1235.7 581.4 L1239.3 594.0 L1242.6 606.7 L1245.6 619.5 L1248.3 632.3 L1250.7 645.2 L1252.8 658.1 L1254.6 671.2 L1256.1 684.2 L1257.3 697.3 L1258.2 710.4 L1258.8 723.6 L1259.0 736.7 L1259.0 749.9 L1258.7 763.1 L1258.0 776.2 L1257.1 789.4 L1255.8 802.5 L1254.2 815.6 L1252.4 828.7 L1250.2 841.7 L1247.7 854.7 L1244.9 867.6 L1241.9 880.5 L1238.5 893.3 L1234.8 906.0 L1230.8 918.6 L1226.5 931.2 L1222.0 943.6 L1217.1 956.0 L1212.0 968.2 L1206.5 980.3 L1200.8 992.3 L1194.8 1004.2 L1188.6 1015.9 L1182.0 1027.5 L1175.2 1038.9 L1168.1 1050.2 L1160.8 1061.3 L1153.1 1072.2 L1145.3 1083.0 L1137.2 1093.5 L1128.8 1103.9 L1120.2 1114.1 L1111.3 1124.1 L1102.3 1133.9 L1092.9 1143.5 L1083.4 1152.9 L1073.6 1162.0 L1063.7 1171.0 L1053.5 1179.7 L1043.1 1188.1 L1032.5 1196.3 L1021.7 1204.3 L1010.8 1212.0 L999.6 1219.5 L988.3 1226.7 L976.8 1233.6 L965.1 1240.3 L953.3 1246.7 L941.4 1252.9 L929.3 1258.7 L917.0 1264.3 L904.6 1269.6 L892.1 1274.6 L879.5 1279.3 L866.7 1283.7 L853.9 1287.8 L841.0 1291.7 L827.9 1295.2 L814.8 1298.4 L801.6 1301.3 L788.4 1303.9 L775.0 1306.2 L761.6 1308.2 L748.2 1309.9 L734.7 1311.3 L721.2 1312.3 L707.7 1313.1 L694.1 1313.5 L680.6 1313.6 L667.0 1313.4 L653.4 1312.9 L639.9 1312.0 L626.3 1310.9 L612.8 1309.4 L599.3 1307.6 L585.9 1305.5 L572.5 1303.1 L559.2 1300.4 L545.9 1297.3 L532.7 1294.0 L519.5 1290.3 L506.5 1286.3 L493.5 1282.1 L480.7 1277.5 L467.9 1272.6 L455.2 1267.4 L442.7 1262.0 L430.3 1256.2 L418.0 1250.2 L405.9 1243.8 L393.9 1237.2 L382.1 1230.3 L370.4 1223.1 L358.9 1215.7 L347.5 1208.0 L336.4 1200.0 L325.4 1191.7 L314.6 1183.2 L304.0 1174.5 L293.6 1165.5 L283.4 1156.2 L273.5 1146.7 L263.7 1137.0 L254.2 1127.0 L244.9 1116.9 L235.9 1106.5 L227.0 1095.9 L218.5 1085.1 L210.2 1074.0 L202.1 1062.8 L194.3 1051.4 L186.7 1039.9 L179.5 1028.1 L172.5 1016.2 L165.8 1004.1 L159.3 991.8 L153.2 979.4 L147.3 966.9 L141.7 954.2 L136.4 941.3 L131.4 928.4 L126.8 915.3 L122.4 902.2 L118.3 888.9 L114.5 875.5 L111.1 862.0 L108.0 848.5 L105.1 834.9 L102.6 821.2 L100.4 807.4 L98.6 793.6 L97.0 779.7 L95.8 765.9 L94.9 751.9 L94.3 738.0 L94.1 724.0 L94.1 710.1 L94.5 696.1 L95.3 682.1 L96.3 668.2 L97.7 654.3 L99.4 640.4 L101.4 626.5 L103.8 612.7 L106.4 598.9 L109.4 585.2 L112.7 571.6 L116.3 558.0 L120.3 544.6 L124.5 531.2 L129.1 517.9 L134.0 504.7 L139.2 491.7 L144.7 478.7 L150.5 465.9 L156.6 453.2 L163.0 440.6 L169.7 428.2 L176.6 416.0 L183.9 403.9 L191.4 392.0 L199.3 380.2 L207.4 368.6 L215.7 357.3 L224.4 346.1 L233.3 335.1 L242.4 324.3 L251.8 313.7 L261.5 303.4 L271.4 293.2 L281.5 283.3 L291.9 273.7 L302.5 264.3 L313.3 255.1 L324.3 246.1 L335.6 237.5 L347.0 229.1 L358.7 220.9 L370.5 213.0 L382.5 205.4 L394.7 198.1 L407.1 191.1 L419.6 184.3 L432.3 177.8 L445.2 171.7 L458.2 165.8 L471.3 160.2 L484.6 155.0 L498.0 150.0 L511.5 145.4 L525.1 141.1 L538.8 137.0 L552.6 133.4 L566.5 130.0 L580.5 126.9 L594.6 124.2 L608.7 121.8 L622.9 119.7"/>
<path d="M541.1 483.8 L546.8 480.1 L552.6 476.6 L558.4 473.1 L564.3 469.8 L570.4 466.6 L576.4 463.6 L582.6 460.7 L588.8 458.0 L595.1 455.4 L601.5 452.9 L607.9 450.6 L614.4 448.4 L621.0 446.4 L627.6 444.5 L634.2 442.8 L640.9 441.3 L647.6 439.9 L654.4 438.6 L661.1 437.5 L668.0 436.6 L674.8 435.8 L681.7 435.2 L688.6 434.8 L695.5 434.5 L702.4 434.3 L709.3 434.4 L716.2 434.6 L723.2 434.9 L730.1 435.4 L737.0 436.1 L743.9 436.9 L750.8 437.9 L757.6 439.1 L764.5 440.4 L771.3 441.9 L778.1 443.5 L784.8 445.3 L791.5 447.3 L798.2 449.4 L804.8 451.7 L811.4 454.1 L817.9 456.7 L824.4 459.4 L830.8 462.3 L837.1 465.4 L843.4 468.6 L849.6 471.9 L855.7 475.4 L861.8 479.0 L867.8 482.8 L873.6 486.7 L879.4 490.8 L885.1 495.0 L890.8 499.3 L896.3 503.7 L901.7 508.3 L907.0 513.1 L912.2 517.9 L917.3 522.9 L922.3 528.0 L927.1 533.2 L931.9 538.5 L936.5 543.9 L941.0 549.5 L945.4 555.2 L949.6 560.9 L953.7 566.8 L957.7 572.8 L961.5 578.8 L965.2 585.0 L968.8 591.2 L972.2 597.6 L975.4 604.0 L978.6 610.5 L981.5 617.0 L984.3 623.7 L987.0 630.4 L989.5 637.2 L991.9 644.0 L994.1 650.9 L996.1 657.9 L998.0 664.9 L999.7 671.9 L1001.2 679.0 L1002.6 686.2 L1003.8 693.3 L1004.9 700.5 L1005.7 707.8 L1006.4 715.0 L1007.0 722.3 L1007.4 729.6 L1007.6 736.9 L1007.6 744.2 L1007.5 751.6 L1007.2 758.9 L1006.7 766.2 L1006.0 773.5 L1005.2 780.8 L1004.2 788.1 L1003.0 795.4 L1001.7 802.6 L1000.2 809.8 L998.5 817.0 L996.7 824.2 L994.7 831.3 L992.5 838.3 L990.2 845.3 L987.7 852.3 L985.0 859.2 L982.2 866.1 L979.2 872.9 L976.0 879.6 L972.7 886.3 L969.2 892.8 L965.6 899.4 L961.8 905.8 L957.9 912.1 L953.8 918.4 L949.6 924.5 L945.2 930.6 L940.7 936.6 L936.1 942.4 L931.3 948.2 L926.3 953.8 L921.3 959.4 L916.1 964.8 L910.7 970.1 L905.3 975.3 L899.7 980.3 L894.0 985.2 L888.2 990.0 L882.2 994.7 L876.2 999.2 L870.0 1003.6 L863.8 1007.9 L857.4 1012.0 L851.0 1015.9 L844.4 1019.7 L837.7 1023.4 L831.0 1026.9 L824.2 1030.3 L817.3 1033.4 L810.3 1036.5 L803.2 1039.4 L796.1 1042.1 L788.9 1044.6 L781.7 1047.0 L774.3 1049.2 L767.0 1051.2 L759.6 1053.1 L752.1 1054.8 L744.6 1056.3 L737.0 1057.7 L729.4 1058.8 L721.8 1059.8 L714.2 1060.7 L706.5 1061.3 L698.8 1061.8 L691.1 1062.0 L683.4 1062.1 L675.7 1062.1 L668.0 1061.8 L660.2 1061.4 L652.5 1060.8 L644.8 1060.0 L637.1 1059.0 L629.5 1057.8 L621.8 1056.5 L614.2 1055.0 L606.6 1053.3 L599.1 1051.4 L591.6 1049.4 L584.1 1047.1 L576.7 1044.7 L569.3 1042.2 L562.0 1039.4 L554.8 1036.5 L547.6 1033.4 L540.5 1030.2 L533.4 1026.7 L526.5 1023.1 L519.6 1019.4 L512.8 1015.5 L506.1 1011.4 L499.4 1007.2 L492.9 1002.8 L486.5 998.2 L480.2 993.5 L473.9 988.7 L467.8 983.7 L461.8 978.5 L456.0 973.2 L450.2 967.8 L444.6 962.3 L439.1 956.6 L433.7 950.7 L428.5 944.8 L423.4 938.7 L418.4 932.5 L413.6 926.2 L408.9 919.8 L404.4 913.2 L400.0 906.6 L395.7 899.8 L391.7 892.9 L387.8 886.0 L384.0 878.9 L380.4 871.8 L377.0 864.5 L373.7 857.2 L370.7 849.8 L367.7 842.3 L365.0 834.8 L362.4 827.2 L360.0 819.5 L357.8 811.8 L355.8 804.0 L353.9 796.2 L352.2 788.3 L350.8 780.3 L349.5 772.4 L348.3 764.4 L347.4 756.3 L346.6 748.3 L346.1 740.2 L345.7 732.1 L345.5 724.0 L345.5 715.9 L345.7 707.8 L346.1 699.7 L346.7 691.5 L347.5 683.4 L348.4 675.3 L349.5 667.3 L350.9 659.2 L352.4 651.2 L354.1 643.2 L356.0 635.3 L358.1 627.4 L360.3 619.5 L362.8 611.7 L365.4 603.9 L368.2 596.2 L371.2 588.6 L374.4 581.0 L377.8 573.5 L381.3 566.0 L385.0 558.7 L388.9 551.4 L392.9 544.2 L397.2 537.1 L401.5 530.2 L406.1 523.3 L410.8 516.5 L415.7 509.8 L420.7 503.2 L425.9 496.7 L431.2 490.4 L436.7 484.2 L442.4 478.1 L448.2 472.1 L454.1 466.3 L460.2 460.6 L466.4 455.0 L472.7 449.6 L479.1 444.3 L485.7 439.2 L492.4 434.2 L499.3 429.4 L506.2 424.7 L513.3 420.2 L520.4 415.9 L527.7 411.7 L535.1 407.7 L542.5 403.9 L550.1 400.2 L557.7 396.7 L565.5 393.4 L573.3 390.3 L581.2 387.3 L589.1 384.6 L597.2 382.0 L605.3 379.6 L613.4 377.4 L621.6 375.3 L629.9 373.5 L638.2 371.9 L646.5 370.4 L654.9 369.2 L663.3 368.1 L671.8 367.3 L680.2 366.6 L688.7 366.1 L697.2 365.8 L705.7 365.8 L714.3 365.9 L722.8 366.2 L731.3 366.7 L739.8 367.5 L748.3 368.4 L756.8 369.5 L765.2 370.8 L773.6 372.3 L782.0 374.0 L790.4 376.0 L798.7 378.1 L807.0 380.4 L815.2 382.8 L823.3 385.5 L831.5 388.4 L839.5 391.5 L847.5 394.7 L855.4 398.2 L863.2 401.8 L870.9 405.6 L878.6 409.6 L886.2 413.8 L893.6 418.1 L901.0 422.7 L908.3 427.4 L915.4 432.2 L922.5 437.3 L929.4 442.5 L936.3 447.9 L943.0 453.4 L949.5 459.1 L956.0 464.9 L962.3 470.9 L968.4 477.1 L974.5 483.4 L980.4 489.8 L986.1 496.4 L991.7 503.1 L997.1 510.0 L1002.4 517.0 L1007.5 524.1 L1012.5 531.3 L1017.2 538.6 L1021.9 546.1 L1026.3 553.7 L1030.6 561.4 L1034.7 569.1 L1038.6 577.0 L1042.3 585.0 L1045.8 593.0 L1049.2 601.2 L1052.4 609.4 L1055.3 617.7 L1058.1 626.1 L1060.7 634.6 L1063.1 643.1 L1065.3 651.6 L1067.3 660.3 L1069.1 669.0 L1070.7 677.7 L1072.1 686.4 L1073.3 695.2 L1074.3 704.1 L1075.1 712.9 L1075.6 721.8 L1076.0 730.7 L1076.2 739.6 L1076.1 748.5 L1075.9 757.4 L1075.4 766.3 L1074.7 775.3 L1073.8 784.1 L1072.8 793.0 L1071.5 801.9 L1070.0 810.7 L1068.3 819.5 L1066.3 828.3 L1064.2 837.0 L1061.9 845.7 L1059.4 854.3 L1056.6 862.8 L1053.7 871.4 L1050.6 879.8 L1047.3 888.2 L1043.7 896.5 L1040.0 904.7 L1036.1 912.8 L1032.0 920.9 L1027.7 928.8 L1023.2 936.7 L1018.6 944.4 L1013.7 952.1 L1008.7 959.6 L1003.5 967.1 L998.1 974.4 L992.6 981.5 L986.8 988.6 L981.0 995.5 L974.9 1002.3 L968.7 1009.0 L962.3 1015.5 L955.8 1021.9 L949.1 1028.1 L942.3 1034.1 L935.3 1040.0 L928.2 1045.8 L921.0 1051.4 L913.6 1056.8 L906.1 1062.0 L898.5 1067.1 L890.7 1072.0 L882.9 1076.7 L874.9 1081.3 L866.8 1085.6 L858.6 1089.8 L850.3 1093.7 L841.9 1097.5 L833.4 1101.1 L824.9 1104.5 L816.2 1107.7 L807.5 1110.7 L798.7 1113.5 L789.8 1116.1 L780.9 1118.5 L771.9 1120.6 L762.8 1122.6 L753.7 1124.4 L744.6 1125.9 L735.4 1127.2 L726.2 1128.3 L717.0 1129.3 L707.7 1129.9 L698.4 1130.4 L689.1 1130.7 L679.8 1130.7 L670.5 1130.5 L661.2 1130.1 L651.9 1129.5 L642.6 1128.7 L633.3 1127.6 L624.0 1126.4 L614.8 1124.9 L605.6 1123.2 L596.4 1121.3 L587.3 1119.2 L578.2 1116.8 L569.2 1114.3 L560.2 1111.5 L551.3 1108.5 L542.5 1105.4 L533.7 1102.0 L525.0 1098.4 L516.4 1094.6 L507.8 1090.6 L499.4 1086.4 L491.1 1082.0 L482.8 1077.4 L474.7 1072.6 L466.6 1067.6 L458.7 1062.4 L450.9 1057.1 L443.2 1051.5 L435.7 1045.8 L428.3 1039.9 L421.0 1033.8 L413.8 1027.6 L406.8 1021.2 L399.9 1014.6 L393.2 1007.8 L386.7 1000.9 L380.3 993.9 L374.1 986.7 L368.0 979.3 L362.1 971.8 L356.4 964.2 L350.8 956.4 L345.5 948.5 L340.3 940.5 L335.3 932.3 L330.5 924.0 L325.8 915.6 L321.4 907.1 L317.2 898.5 L313.2 889.8 L309.3 881.0 L305.7 872.1 L302.3 863.1 L299.1 854.0 L296.1 844.9 L293.3 835.6 L290.7 826.3 L288.4 817.0 L286.2 807.6 L284.3 798.1 L282.6 788.6 L281.1 779.0 L279.9 769.4 L278.8 759.8 L278.0 750.2 L277.4 740.5 L277.1 730.8 L276.9 721.1 L277.0 711.4 L277.4 701.6 L277.9 691.9 L278.7 682.2 L279.7 672.6 L280.9 662.9 L282.3 653.2 L284.0 643.6 L285.9 634.1 L288.0 624.5 L290.4 615.0 L293.0 605.6 L295.7 596.2 L298.8 586.9 L302.0 577.7 L305.4 568.5 L309.1 559.4 L313.0 550.4 L317.0 541.4 L321.3 532.6 L325.8 523.9 L330.5 515.2 L335.5 506.7 L340.6 498.3 L345.9 490.0 L351.4 481.8 L357.1 473.7 L363.0 465.8 L369.0 458.0 L375.3 450.4 L381.7 442.8 L388.3 435.5 L395.1 428.3 L402.1 421.2 L409.2 414.3 L416.5 407.6 L423.9 401.0 L431.5 394.6 L439.3 388.4 L447.2 382.4 L455.2 376.5 L463.4 370.9 L471.7 365.4 L480.2 360.1 L488.8 355.0 L497.5 350.1 L506.3 345.4 L515.2 340.9 L524.2 336.6 L533.4 332.6 L542.6 328.7 L551.9 325.0 L561.3 321.6 L570.8 318.4 L580.4 315.4 L590.1 312.6 L599.8 310.1 L609.5 307.8 L619.4 305.7 L629.3 303.8 L639.2 302.2 L649.2 300.8 L659.2 299.6 L669.2 298.6 L679.3 297.9 L689.4 297.5 L699.5 297.2 L709.6 297.2 L719.7 297.5 L729.8 297.9 L739.9 298.6 L750.0 299.6 L760.1 300.8 L770.1 302.2 L780.1 303.8 L790.1 305.7 L800.1 307.8 L810.0 310.2 L819.8 312.7 L829.6 315.5 L839.3 318.6 L849.0 321.8 L858.5 325.3 L868.1 329.0 L877.5 333.0 L886.8 337.1 L896.0 341.5 L905.2 346.1 L914.2 350.9 L923.1 355.9 L931.9 361.2 L940.6 366.6 L949.2 372.2 L957.6 378.1 L965.9 384.1 L974.1 390.4 L982.1 396.8 L990.0 403.4 L997.7 410.2 L1005.3 417.2 L1012.7 424.4 L1020.0 431.7 L1027.0 439.2 L1033.9 446.9 L1040.7 454.7 L1047.2 462.7 L1053.6 470.9 L1059.7 479.2 L1065.7 487.6 L1071.5 496.2 L1077.1 505.0 L1082.5 513.8 L1087.6 522.8 L1092.6 531.9 L1097.4 541.2 L1101.9 550.5 L1106.2 560.0 L1110.3 569.5 L1114.2 579.2 L1117.9 588.9 L1121.3 598.8 L1124.5 608.7 L1127.5 618.7 L1130.3 628.8 L1132.8 638.9 L1135.1 649.1 L1137.1 659.4 L1138.9 669.7 L1140.5 680.0 L1141.8 690.4 L1142.9 700.8 L1143.7 711.3 L1144.3 721.8 L1144.6 732.3 L1144.7 742.8 L1144.6 753.3 L1144.2 763.8 L1143.6 774.3 L1142.7 784.8 L1141.6 795.3 L1140.2 805.7 L1138.6 816.2 L1136.8 826.5 L1134.7 836.9 L1132.3 847.2 L1129.8 857.4 L1126.9 867.6 L1123.9 877.8 L1120.6 887.8 L1117.1 897.8 L1113.3 907.7 L1109.3 917.6 L1105.1 927.3 L1100.6 936.9 L1096.0 946.5 L1091.1 955.9 L1085.9 965.2 L1080.6 974.4 L1075.0 983.5 L1069.3 992.5 L1063.3 1001.3 L1057.1 1010.0 L1050.7 1018.5 L1044.1 1026.9 L1037.3 1035.2 L1030.3 1043.3 L1023.1 1051.2 L1015.8 1059.0 L1008.2 1066.5 L1000.5 1074.0 L992.6 1081.2 L984.5 1088.3 L976.3 1095.2 L967.9 1101.8 L959.3 1108.3 L950.6 1114.6 L941.8 1120.7 L932.7 1126.6 L923.6 1132.3 L914.3 1137.7 L904.9 1143.0 L895.4 1148.0 L885.7 1152.8 L875.9 1157.4 L866.1 1161.8 L856.1 1165.9 L846.0 1169.8 L835.8 1173.5 L825.5 1176.9 L815.2 1180.1 L804.8 1183.1 L794.3 1185.8 L783.7 1188.3 L773.1 1190.5 L762.4 1192.5 L751.7 1194.2 L740.9 1195.7 L730.1 1196.9 L719.3 1197.9 L708.4 1198.6 L697.5 1199.1 L686.6 1199.3 L675.7 1199.2 L664.8 1198.9 L653.9 1198.4 L643.0 1197.6 L632.1 1196.5 L621.2 1195.2 L610.4 1193.7 L599.6 1191.9 L588.8 1189.8 L578.1 1187.5 L567.5 1184.9 L556.9 1182.1 L546.3 1179.0 L535.9 1175.7 L525.5 1172.1 L515.1 1168.3 L504.9 1164.3 L494.8 1160.0 L484.7 1155.5 L474.8 1150.7 L464.9 1145.8 L455.2 1140.5 L445.6 1135.1 L436.1 1129.4 L426.8 1123.5 L417.6 1117.4 L408.5 1111.1 L399.6 1104.5 L390.8 1097.8 L382.2 1090.8 L373.7 1083.7 L365.4 1076.3 L357.3 1068.7 L349.3 1061.0 L341.6 1053.1 L334.0 1044.9 L326.6 1036.6 L319.4 1028.2 L312.3 1019.5 L305.5 1010.7 L298.9 1001.7 L292.5 992.6 L286.3 983.3 L280.3 973.9 L274.6 964.4 L269.0 954.6 L263.7 944.8 L258.6 934.9 L253.8 924.8 L249.1 914.6 L244.7 904.3 L240.6 893.8 L236.7 883.3 L233.0 872.7 L229.6 862.0 L226.4 851.3 L223.5 840.4 L220.8 829.5 L218.4 818.5 L216.3 807.4 L214.4 796.3 L212.7 785.2 L211.4 774.0 L210.2 762.8 L209.4 751.5 L208.8 740.2 L208.4 728.9 L208.4 717.6 L208.6 706.3 L209.0 695.0 L209.7 683.7 L210.7 672.4 L212.0 661.2 L213.5 649.9 L215.2 638.7 L217.3 627.6 L219.6 616.4 L222.1 605.4 L224.9 594.3 L228.0 583.4 L231.3 572.5 L234.9 561.7 L238.7 551.0 L242.8 540.3 L247.1 529.8 L251.7 519.3 L256.6 509.0 L261.6 498.7 L266.9 488.6 L272.5 478.6 L278.2 468.7 L284.3 459.0 L290.5 449.4 L297.0 439.9 L303.6 430.6 L310.5 421.4 L317.7 412.4 L325.0 403.6 L332.5 394.9 L340.3 386.4 L348.2 378.1 L356.4 370.0 L364.7 362.0 L373.2 354.3 L381.9 346.7 L390.8 339.4 L399.8 332.2 L409.1 325.3 L418.4 318.6 L428.0 312.0 L437.7 305.8 L447.5 299.7 L457.5 293.9 L467.6 288.2 L477.9 282.9 L488.3 277.7 L498.8 272.8 L509.4 268.2 L520.2 263.8 L531.0 259.6 L542.0 255.7 L553.0 252.1 L564.1 248.7 L575.3 245.6 L586.6 242.7 L598.0 240.1 L609.4 237.7 L620.9 235.7 L632.4 233.8 L643.9 232.3 L655.6 231.0 L667.2 230.0 L678.9 229.3 L690.5 228.8 L702.2 228.6 L714.0 228.7 L725.7 229.1 L737.4 229.7 L749.1 230.6 L760.7 231.8 L772.4 233.2 L784.0 234.9 L795.6 236.9 L807.1 239.2 L818.6 241.7 L830.0 244.5 L841.4 247.5 L852.7 250.9 L863.9 254.5 L875.1 258.3 L886.1 262.4 L897.1 266.8 L907.9 271.4 L918.7 276.3 L929.3 281.5 L939.9 286.8 L950.3 292.5 L960.5 298.4 L970.7 304.5 L980.7 310.8 L990.5 317.4 L1000.2 324.2 L1009.8 331.3 L1019.2 338.6 L1028.4 346.0 L1037.4 353.8 L1046.3 361.7 L1055.0 369.8 L1063.5 378.1 L1071.8 386.7 L1079.9 395.4 L1087.8 404.3 L1095.5 413.4 L1103.0 422.7 L1110.3 432.2 L1117.3 441.8 L1124.2 451.6 L1130.8 461.6 L1137.1 471.7 L1143.3 482.0 L1149.2 492.4 L1154.9 503.0 L1160.3 513.7 L1165.4 524.5 L1170.4 535.4 L1175.0 546.5 L1179.4 557.6 L1183.6 568.9 L1187.5 580.3 L1191.1 591.8 L1194.4 603.3 L1197.5 615.0 L1200.3 626.7 L1202.9 638.4 L1205.2 650.3 L1207.2 662.2 L1208.9 674.1 L1210.3 686.1 L1211.5 698.1 L1212.4 710.2 L1213.0 722.3 L1213.3 734.4 L1213.3 746.5 L1213.1 758.6 L1212.5 770.7 L1211.7 782.8 L1210.6 794.9 L1209.3 806.9 L1207.6 818.9 L1205.7 830.9 L1203.5 842.9 L1201.0 854.8 L1198.2 866.6 L1195.2 878.4 L1191.8 890.1 L1188.2 901.7 L1184.4 913.3 L1180.2 924.8 L1175.8 936.1 L1171.1 947.4 L1166.2 958.6 L1161.0 969.6 L1155.6 980.6 L1149.8 991.4 L1143.9 1002.1 L1137.7 1012.6 L1131.2 1023.0 L1124.5 1033.3 L1117.5 1043.4 L1110.4 1053.3 L1102.9 1063.1 L1095.3 1072.7 L1087.4 1082.1 L1079.3 1091.4 L1071.0 1100.4 L1062.5 1109.3 L1053.8 1117.9 L1044.8 1126.4 L1035.7 1134.7 L1026.4 1142.7 L1016.8 1150.6 L1007.1 1158.2 L997.3 1165.6 L987.2 1172.7 L977.0 1179.7 L966.6 1186.3 L956.0 1192.8 L945.3 1199.0 L934.5 1205.0 L923.5 1210.7 L912.4 1216.1 L901.1 1221.3 L889.7 1226.3 L878.3 1230.9 L866.6 1235.3 L854.9 1239.5 L843.1 1243.3 L831.2 1246.9 L819.2 1250.2 L807.2 1253.2 L795.0 1256.0 L782.8 1258.5 L770.6 1260.6 L758.2 1262.5 L745.9 1264.2 L733.5 1265.5 L721.0 1266.5 L708.6 1267.3 L696.1 1267.7 L683.6 1267.9 L671.1 1267.8 L658.6 1267.3 L646.1 1266.6 L633.6 1265.6 L621.1 1264.3 L608.7 1262.7 L596.3 1260.9 L583.9 1258.7 L571.6 1256.3 L559.4 1253.5 L547.2 1250.5 L535.0 1247.2 L523.0 1243.6 L511.0 1239.7 L499.1 1235.6 L487.3 1231.1 L475.7 1226.4 L464.1 1221.4 L452.6 1216.2 L441.3 1210.7 L430.0 1204.9 L418.9 1198.8 L408.0 1192.5 L397.2 1186.0 L386.5 1179.2 L376.0 1172.1 L365.7 1164.8 L355.5 1157.2 L345.6 1149.4 L335.7 1141.4 L326.1 1133.1 L316.7 1124.7 L307.4 1115.9 L298.4 1107.0 L289.6 1097.9 L280.9 1088.5 L272.5 1079.0 L264.3 1069.3 L256.4 1059.3 L248.7 1049.2 L241.2 1038.9 L233.9 1028.4 L226.9 1017.8 L220.1 1006.9 L213.6 996.0 L207.3 984.8 L201.3 973.6 L195.6 962.1 L190.1 950.6 L184.9 938.9 L180.0 927.1 L175.3 915.1 L170.9 903.1 L166.8 891.0 L163.0 878.7 L159.5 866.4 L156.2 854.0 L153.2 841.5 L150.6 828.9 L148.2 816.3 L146.1 803.6 L144.3 790.8 L142.8 778.0 L141.6 765.2 L140.7 752.4 L140.1 739.5 L139.8 726.6 L139.8 713.7 L140.1 700.8 L140.7 687.9 L141.6 675.0 L142.8 662.1 L144.3 649.3 L146.1 636.5 L148.2 623.7 L150.6 611.0 L153.3 598.3 L156.3 585.7 L159.6 573.2 L163.2 560.7 L167.1 548.3 L171.2 536.0 L175.7 523.8 L180.4 511.7 L185.4 499.7 L190.7 487.8 L196.3 476.0 L202.1 464.4 L208.3 452.9 L214.7 441.6 L221.3 430.3 L228.2 419.3 L235.4 408.4 L242.8 397.6 L250.5 387.1 L258.5 376.7 L266.6 366.5 L275.1 356.5 L283.7 346.7 L292.6 337.0 L301.7 327.6 L311.0 318.4 L320.6 309.4 L330.3 300.7 L340.3 292.1 L350.4 283.8 L360.8 275.7 L371.3 267.9 L382.1 260.3 L393.0 253.0 L404.1 245.9 L415.3 239.0 L426.7 232.5 L438.3 226.2 L450.0 220.1 L461.9 214.4 L473.9 208.9 L486.0 203.7 L498.2 198.7 L510.6 194.1 L523.1 189.7 L535.7 185.6 L548.3 181.9 L561.1 178.4 L574.0 175.2 L586.9 172.3 L599.9 169.7 L612.9 167.4 L626.1 165.5 L639.2 163.8 L652.4 162.4 L665.7 161.4 L678.9 160.6 L692.2 160.2 L705.5 160.0 L718.8 160.2 L732.1 160.7 L745.4 161.5 L758.7 162.6 L771.9 164.0 L785.2 165.7 L798.3 167.8 L811.5 170.1 L824.6 172.8 L837.6 175.7 L850.6 179.0 L863.5 182.5 L876.3 186.4 L889.0 190.5 L901.6 195.0 L914.1 199.7 L926.5 204.8 L938.8 210.1 L951.0 215.7 L963.1 221.7 L975.0 227.8 L986.7 234.3 L998.4 241.0 L1009.8 248.1 L1021.1 255.3 L1032.3 262.9 L1043.2 270.7 L1054.0 278.8 L1064.6 287.1 L1075.0 295.6 L1085.2 304.5 L1095.2 313.5 L1105.0 322.8 L1114.6 332.3 L1124.0 342.0 L1133.1 352.0 L1142.0 362.2 L1150.7 372.5 L1159.1 383.1 L1167.3 393.9 L1175.2 404.9 L1182.9 416.0 L1190.3 427.4 L1197.5 438.9 L1204.4 450.6 L1211.0 462.4 L1217.3 474.4 L1223.4 486.6 L1229.2 498.9 L1234.7 511.3 L1239.9 523.9 L1244.8 536.6 L1249.4 549.4 L1253.7 562.3 L1257.8 575.3 L1261.5 588.4 L1264.9 601.6 L1268.0 614.9 L1270.8 628.3 L1273.3 641.7 L1275.5 655.2 L1277.3 668.7 L1278.9 682.3 L1280.1 695.9 L1281.0 709.6 L1281.6 723.3 L1281.9 737.0 L1281.9 750.7 L1281.5 764.4 L1280.8 778.1 L1279.8 791.7 L1278.5 805.4 L1276.9 819.0 L1274.9 832.6 L1272.6 846.2 L1270.0 859.7 L1267.1 873.1 L1263.9 886.5 L1260.4 899.8 L1256.6 913.0 L1252.4 926.2 L1247.9 939.2 L1243.2 952.2 L1238.1 965.0 L1232.8 977.7 L1227.1 990.3 L1221.1 1002.8 L1214.9 1015.1 L1208.4 1027.3 L1201.6 1039.3 L1194.5 1051.2 L1187.1 1062.9 L1179.4 1074.5 L1171.5 1085.8 L1163.3 1097.0 L1154.9 1108.0 L1146.2 1118.8 L1137.2 1129.4 L1128.0 1139.8 L1118.5 1150.0 L1108.8 1159.9 L1098.9 1169.7 L1088.8 1179.2 L1078.4 1188.5 L1067.8 1197.5 L1057.0 1206.3 L1046.0 1214.8 L1034.8 1223.1 L1023.4 1231.1 L1011.8 1238.9 L1000.0 1246.4 L988.0 1253.6 L975.9 1260.5 L963.6 1267.2 L951.2 1273.5 L938.6 1279.6 L925.8 1285.4 L913.0 1290.9 L900.0 1296.1 L886.8 1301.0 L873.6 1305.5 L860.2 1309.8 L846.8 1313.8 L833.2 1317.4 L819.6 1320.8 L805.9 1323.8 L792.1 1326.5 L778.2 1328.9 L764.3 1330.9 L750.4 1332.7 L736.4 1334.1 L722.3 1335.2 L708.3 1335.9 L694.2 1336.4 L680.1 1336.5 L666.0 1336.2 L651.9 1335.7 L637.8 1334.8 L623.7 1333.6 L609.7 1332.0 L595.7 1330.2 L581.7 1328.0 L567.8 1325.5 L553.9 1322.6 L540.1 1319.4 L526.4 1315.9 L512.7 1312.1 L499.2 1308.0 L485.7 1303.6 L472.3 1298.8 L459.1 1293.7 L445.9 1288.3 L432.9 1282.7 L420.0 1276.7 L407.3 1270.4 L394.7 1263.8 L382.2 1256.9 L370.0 1249.7 L357.8 1242.2 L345.9 1234.5 L334.1 1226.5 L322.5 1218.2 L311.1 1209.6 L299.9 1200.7 L288.9 1191.6 L278.1 1182.3 L267.6 1172.7 L257.2 1162.8 L247.1 1152.7 L237.2 1142.3 L227.6 1131.8 L218.2 1121.0 L209.0 1110.0 L200.1 1098.7 L191.5 1087.3 L183.1 1075.6 L175.0 1063.8 L167.2 1051.7 L159.7 1039.5 L152.4 1027.1 L145.4 1014.6 L138.8 1001.8 L132.4 989.0 L126.3 975.9 L120.5 962.7 L115.0 949.4 L109.9 936.0 L105.0 922.4 L100.5 908.7 L96.3 894.9 L92.4 881.0 L88.8 867.0 L85.5 853.0 L82.6 838.8 L80.0 824.6 L77.8 810.3 L75.8 796.0 L74.2 781.6 L73.0 767.2 L72.0 752.7 L71.4 738.3 L71.2 723.8 L71.3 709.3 L71.7 694.8 L72.5 680.3 L73.6 665.8 L75.0 651.3 L76.8 636.9 L78.9 622.5 L81.3 608.2 L84.1 593.9 L87.2 579.7 L90.7 565.6 L94.4 551.5 L98.5 537.5 L103.0 523.6 L107.7 509.8 L112.8 496.1 L118.2 482.6 L123.9 469.1 L129.9 455.8 L136.3 442.7 L142.9 429.7 L149.9 416.8 L157.1 404.1 L164.7 391.5 L172.5 379.2 L180.6 367.0 L189.0 355.0 L197.7 343.2 L206.7 331.6 L215.9 320.2 L225.4 309.0 L235.2 298.0 L245.2 287.3 L255.5 276.8 L266.0 266.5 L276.8 256.5 L287.8 246.7 L299.0 237.2 L310.5 228.0 L322.2 219.0 L334.0 210.2 L346.1 201.8 L358.4 193.6 L370.9 185.8 L383.5 178.2 L396.4 170.9 L409.4 163.9 L422.6 157.2 L435.9 150.8 L449.4 144.7 L463.0 138.9 L476.8 133.5 L490.7 128.4 L504.7 123.6 L518.8 119.1 L533.0 114.9 L547.4 111.1 L561.8 107.6 L576.3 104.5 L590.9 101.6 L605.5 99.2 L620.2 97.0"/>
<path d="M529.1 464.4 L535.3 460.4 L541.5 456.6 L547.8 452.9 L554.2 449.3 L560.7 445.9 L567.3 442.7 L573.9 439.6 L580.6 436.6 L587.4 433.8 L594.3 431.2 L601.3 428.7 L608.2 426.4 L615.3 424.3 L622.4 422.3 L629.6 420.4 L636.8 418.8 L644.0 417.3 L651.3 416.0 L658.6 414.8 L666.0 413.8 L673.4 413.0 L680.8 412.4 L688.2 411.9 L695.6 411.6 L703.1 411.5 L710.5 411.5 L718.0 411.8 L725.4 412.2 L732.9 412.7 L740.3 413.5 L747.7 414.4 L755.1 415.5 L762.5 416.8 L769.9 418.2 L777.2 419.8 L784.5 421.6 L791.8 423.6 L799.0 425.7 L806.2 428.0 L813.3 430.4 L820.3 433.1 L827.4 435.9 L834.3 438.8 L841.2 442.0 L848.0 445.2 L854.7 448.7 L861.4 452.3 L868.0 456.1 L874.5 460.0 L880.9 464.1 L887.2 468.3 L893.4 472.7 L899.5 477.2 L905.6 481.9 L911.5 486.7 L917.3 491.6 L923.0 496.7 L928.6 501.9 L934.0 507.3 L939.4 512.8 L944.6 518.4 L949.6 524.1 L954.6 530.0 L959.4 536.0 L964.1 542.1 L968.6 548.3 L973.0 554.6 L977.3 561.0 L981.4 567.5 L985.3 574.1 L989.1 580.9 L992.8 587.7 L996.3 594.6 L999.6 601.6 L1002.8 608.6 L1005.8 615.8 L1008.6 623.0 L1011.3 630.3 L1013.8 637.6 L1016.1 645.0 L1018.3 652.5 L1020.3 660.0 L1022.1 667.6 L1023.8 675.2 L1025.2 682.9 L1026.5 690.6 L1027.6 698.3 L1028.5 706.1 L1029.3 713.9 L1029.8 721.7 L1030.2 729.5 L1030.4 737.3 L1030.4 745.2 L1030.3 753.0 L1029.9 760.9 L1029.4 768.7 L1028.7 776.6 L1027.8 784.4 L1026.7 792.2 L1025.4 800.0 L1024.0 807.8 L1022.4 815.5 L1020.6 823.2 L1018.6 830.9 L1016.4 838.5 L1014.0 846.1 L1011.5 853.6 L1008.8 861.0 L1005.9 868.4 L1002.9 875.8 L999.7 883.1 L996.3 890.3 L992.7 897.4 L989.0 904.4 L985.1 911.4 L981.0 918.3 L976.8 925.0 L972.4 931.7 L967.8 938.3 L963.1 944.8 L958.3 951.2 L953.3 957.4 L948.1 963.6 L942.8 969.6 L937.4 975.6 L931.8 981.3 L926.1 987.0 L920.2 992.5 L914.3 997.9 L908.1 1003.2 L901.9 1008.3 L895.5 1013.3 L889.1 1018.1 L882.5 1022.8 L875.7 1027.4 L868.9 1031.7 L862.0 1036.0 L855.0 1040.0 L847.9 1043.9 L840.6 1047.6 L833.3 1051.2 L825.9 1054.6 L818.5 1057.8 L810.9 1060.9 L803.3 1063.8 L795.6 1066.5 L787.8 1069.0 L780.0 1071.4 L772.1 1073.5 L764.1 1075.5 L756.1 1077.3 L748.1 1078.9 L740.0 1080.3 L731.9 1081.6 L723.8 1082.6 L715.6 1083.5 L707.4 1084.1 L699.2 1084.6 L690.9 1084.9 L682.7 1085.0 L674.4 1084.9 L666.2 1084.6 L657.9 1084.1 L649.7 1083.5 L641.5 1082.6 L633.3 1081.5 L625.1 1080.3 L616.9 1078.8 L608.8 1077.2 L600.7 1075.4 L592.6 1073.3 L584.6 1071.1 L576.6 1068.8 L568.7 1066.2 L560.8 1063.4 L553.0 1060.5 L545.3 1057.3 L537.6 1054.0 L530.0 1050.5 L522.5 1046.8 L515.1 1043.0 L507.7 1039.0 L500.5 1034.8 L493.3 1030.4 L486.3 1025.9 L479.3 1021.2 L472.5 1016.3 L465.7 1011.3 L459.1 1006.1 L452.6 1000.7 L446.2 995.2 L439.9 989.6 L433.8 983.8 L427.8 977.8 L422.0 971.7 L416.2 965.5 L410.6 959.1 L405.2 952.6 L399.9 946.0 L394.8 939.3 L389.8 932.4 L385.0 925.4 L380.3 918.3 L375.8 911.1 L371.5 903.7 L367.4 896.3 L363.4 888.8 L359.6 881.1 L355.9 873.4 L352.5 865.6 L349.2 857.7 L346.1 849.7 L343.2 841.7 L340.5 833.6 L337.9 825.4 L335.6 817.1 L333.4 808.8 L331.5 800.5 L329.7 792.0 L328.1 783.6 L326.7 775.1 L325.6 766.6 L324.6 758.0 L323.8 749.4 L323.2 740.8 L322.8 732.2 L322.7 723.5 L322.7 714.9 L322.9 706.2 L323.3 697.6 L324.0 688.9 L324.8 680.3 L325.8 671.7 L327.1 663.1 L328.5 654.5 L330.1 646.0 L332.0 637.5 L334.0 629.0 L336.2 620.6 L338.7 612.2 L341.3 603.9 L344.1 595.6 L347.1 587.4 L350.3 579.3 L353.7 571.3 L357.3 563.3 L361.1 555.4 L365.0 547.5 L369.2 539.8 L373.5 532.2 L378.0 524.6 L382.7 517.2 L387.6 509.9 L392.6 502.6 L397.8 495.5 L403.2 488.5 L408.7 481.7 L414.4 474.9 L420.3 468.3 L426.3 461.9 L432.4 455.5 L438.7 449.3 L445.2 443.3 L451.8 437.4 L458.6 431.6 L465.4 426.0 L472.5 420.6 L479.6 415.3 L486.9 410.2 L494.3 405.2 L501.8 400.5 L509.4 395.9 L517.2 391.4 L525.0 387.2 L533.0 383.1 L541.0 379.2 L549.1 375.5 L557.4 372.0 L565.7 368.7 L574.1 365.6 L582.5 362.7 L591.1 359.9 L599.7 357.4 L608.4 355.1 L617.1 352.9 L625.9 351.0 L634.7 349.3 L643.6 347.8 L652.5 346.4 L661.4 345.3 L670.4 344.4 L679.4 343.7 L688.4 343.3 L697.4 343.0 L706.5 342.9 L715.5 343.1 L724.6 343.4 L733.6 344.0 L742.7 344.8 L751.7 345.8 L760.7 347.0 L769.7 348.4 L778.6 350.0 L787.5 351.9 L796.4 353.9 L805.2 356.1 L814.0 358.6 L822.7 361.3 L831.4 364.1 L840.0 367.2 L848.5 370.5 L857.0 373.9 L865.4 377.6 L873.7 381.5 L881.9 385.5 L890.0 389.8 L898.0 394.2 L905.9 398.9 L913.8 403.7 L921.5 408.7 L929.1 413.9 L936.5 419.2 L943.9 424.8 L951.1 430.5 L958.2 436.4 L965.2 442.4 L972.0 448.7 L978.7 455.0 L985.2 461.6 L991.6 468.3 L997.9 475.1 L1003.9 482.1 L1009.9 489.2 L1015.6 496.5 L1021.2 503.9 L1026.6 511.5 L1031.8 519.2 L1036.9 527.0 L1041.8 534.9 L1046.5 542.9 L1051.0 551.1 L1055.3 559.3 L1059.4 567.7 L1063.4 576.1 L1067.1 584.7 L1070.7 593.3 L1074.0 602.1 L1077.2 610.9 L1080.1 619.8 L1082.8 628.7 L1085.4 637.8 L1087.7 646.9 L1089.8 656.0 L1091.7 665.2 L1093.4 674.5 L1094.8 683.8 L1096.1 693.1 L1097.1 702.4 L1097.9 711.8 L1098.5 721.2 L1098.9 730.7 L1099.0 740.1 L1099.0 749.6 L1098.7 759.0 L1098.2 768.4 L1097.4 777.9 L1096.5 787.3 L1095.3 796.7 L1093.9 806.1 L1092.3 815.4 L1090.5 824.8 L1088.5 834.0 L1086.2 843.3 L1083.7 852.5 L1081.0 861.6 L1078.1 870.6 L1075.0 879.7 L1071.7 888.6 L1068.2 897.5 L1064.4 906.2 L1060.5 914.9 L1056.3 923.5 L1052.0 932.1 L1047.4 940.5 L1042.6 948.8 L1037.7 957.0 L1032.5 965.1 L1027.2 973.1 L1021.7 980.9 L1016.0 988.6 L1010.1 996.2 L1004.0 1003.7 L997.8 1011.0 L991.4 1018.2 L984.8 1025.2 L978.0 1032.1 L971.1 1038.8 L964.0 1045.4 L956.8 1051.8 L949.4 1058.1 L941.9 1064.1 L934.2 1070.0 L926.4 1075.7 L918.5 1081.3 L910.4 1086.6 L902.2 1091.8 L893.8 1096.8 L885.4 1101.6 L876.8 1106.2 L868.1 1110.6 L859.4 1114.7 L850.5 1118.7 L841.5 1122.5 L832.4 1126.1 L823.3 1129.5 L814.0 1132.6 L804.7 1135.5 L795.3 1138.3 L785.9 1140.8 L776.4 1143.1 L766.8 1145.1 L757.2 1147.0 L747.5 1148.6 L737.8 1150.0 L728.1 1151.1 L718.3 1152.1 L708.5 1152.8 L698.7 1153.3 L688.8 1153.5 L679.0 1153.6 L669.2 1153.4 L659.3 1152.9 L649.5 1152.3 L639.6 1151.4 L629.8 1150.2 L620.1 1148.9 L610.3 1147.3 L600.6 1145.5 L590.9 1143.5 L581.2 1141.2 L571.7 1138.7 L562.1 1136.0 L552.6 1133.1 L543.2 1129.9 L533.9 1126.6 L524.6 1123.0 L515.4 1119.1 L506.3 1115.1 L497.3 1110.9 L488.4 1106.4 L479.6 1101.8 L470.9 1096.9 L462.3 1091.8 L453.8 1086.6 L445.5 1081.1 L437.2 1075.4 L429.1 1069.5 L421.2 1063.5 L413.3 1057.3 L405.7 1050.8 L398.1 1044.2 L390.7 1037.4 L383.5 1030.5 L376.4 1023.3 L369.5 1016.0 L362.8 1008.6 L356.2 1001.0 L349.8 993.2 L343.6 985.3 L337.6 977.2 L331.7 969.0 L326.1 960.6 L320.6 952.1 L315.3 943.5 L310.3 934.7 L305.4 925.9 L300.7 916.9 L296.3 907.8 L292.1 898.6 L288.0 889.3 L284.2 879.9 L280.6 870.4 L277.2 860.8 L274.1 851.1 L271.2 841.4 L268.5 831.6 L266.0 821.7 L263.7 811.8 L261.7 801.8 L260.0 791.8 L258.4 781.7 L257.1 771.5 L256.0 761.4 L255.2 751.2 L254.6 741.0 L254.2 730.8 L254.1 720.5 L254.2 710.3 L254.5 700.0 L255.1 689.8 L256.0 679.6 L257.0 669.4 L258.3 659.2 L259.9 649.0 L261.7 638.9 L263.7 628.8 L265.9 618.7 L268.4 608.7 L271.1 598.8 L274.1 588.9 L277.3 579.1 L280.7 569.3 L284.3 559.7 L288.2 550.1 L292.3 540.6 L296.6 531.2 L301.2 521.8 L305.9 512.6 L310.9 503.5 L316.1 494.6 L321.5 485.7 L327.1 476.9 L332.9 468.3 L338.9 459.8 L345.1 451.5 L351.5 443.3 L358.1 435.2 L364.9 427.3 L371.9 419.6 L379.1 412.0 L386.4 404.6 L393.9 397.3 L401.6 390.2 L409.5 383.3 L417.5 376.6 L425.7 370.1 L434.0 363.7 L442.5 357.6 L451.1 351.6 L459.9 345.8 L468.8 340.3 L477.8 334.9 L487.0 329.8 L496.3 324.8 L505.7 320.1 L515.2 315.6 L524.8 311.3 L534.6 307.3 L544.4 303.5 L554.3 299.9 L564.3 296.5 L574.4 293.3 L584.6 290.4 L594.8 287.8 L605.1 285.3 L615.4 283.1 L625.9 281.2 L636.3 279.5 L646.8 278.0 L657.4 276.8 L667.9 275.8 L678.5 275.1 L689.2 274.6 L699.8 274.4 L710.4 274.4 L721.1 274.6 L731.7 275.1 L742.3 275.9 L753.0 276.9 L763.6 278.2 L774.1 279.7 L784.7 281.4 L795.2 283.4 L805.6 285.6 L816.0 288.1 L826.4 290.8 L836.7 293.8 L846.9 297.0 L857.1 300.5 L867.2 304.1 L877.1 308.1 L887.1 312.2 L896.9 316.6 L906.6 321.2 L916.2 326.1 L925.7 331.1 L935.1 336.4 L944.3 341.9 L953.5 347.7 L962.5 353.6 L971.3 359.8 L980.1 366.1 L988.6 372.7 L997.1 379.5 L1005.3 386.4 L1013.5 393.6 L1021.4 401.0 L1029.2 408.5 L1036.8 416.2 L1044.2 424.1 L1051.5 432.2 L1058.5 440.5 L1065.4 448.9 L1072.1 457.5 L1078.6 466.2 L1084.8 475.1 L1090.9 484.2 L1096.8 493.3 L1102.4 502.7 L1107.8 512.1 L1113.1 521.7 L1118.1 531.4 L1122.8 541.3 L1127.4 551.2 L1131.7 561.3 L1135.7 571.4 L1139.6 581.7 L1143.2 592.0 L1146.5 602.4 L1149.7 613.0 L1152.5 623.6 L1155.2 634.2 L1157.5 644.9 L1159.7 655.7 L1161.6 666.6 L1163.2 677.4 L1164.6 688.4 L1165.7 699.3 L1166.5 710.3 L1167.2 721.3 L1167.5 732.3 L1167.6 743.4 L1167.4 754.4 L1167.0 765.5 L1166.4 776.5 L1165.4 787.5 L1164.2 798.5 L1162.8 809.5 L1161.1 820.4 L1159.1 831.4 L1156.9 842.2 L1154.4 853.0 L1151.7 863.8 L1148.8 874.5 L1145.5 885.2 L1142.1 895.7 L1138.3 906.2 L1134.4 916.6 L1130.2 926.9 L1125.7 937.1 L1121.0 947.3 L1116.1 957.3 L1111.0 967.2 L1105.6 977.0 L1099.9 986.6 L1094.1 996.1 L1088.0 1005.5 L1081.7 1014.8 L1075.2 1023.9 L1068.5 1032.9 L1061.6 1041.7 L1054.4 1050.3 L1047.1 1058.8 L1039.5 1067.1 L1031.8 1075.3 L1023.9 1083.2 L1015.8 1091.0 L1007.5 1098.6 L999.0 1106.0 L990.3 1113.2 L981.5 1120.2 L972.5 1127.0 L963.3 1133.6 L954.0 1140.0 L944.6 1146.2 L935.0 1152.1 L925.2 1157.8 L915.3 1163.3 L905.3 1168.6 L895.2 1173.7 L884.9 1178.5 L874.6 1183.0 L864.1 1187.4 L853.5 1191.4 L842.8 1195.3 L832.0 1198.9 L821.2 1202.2 L810.2 1205.3 L799.2 1208.1 L788.1 1210.7 L777.0 1213.0 L765.8 1215.1 L754.5 1216.9 L743.2 1218.4 L731.9 1219.7 L720.5 1220.7 L709.1 1221.4 L697.7 1221.9 L686.3 1222.1 L674.8 1222.1 L663.4 1221.8 L651.9 1221.2 L640.5 1220.3 L629.1 1219.2 L617.7 1217.8 L606.4 1216.2 L595.0 1214.3 L583.8 1212.1 L572.5 1209.6 L561.3 1206.9 L550.2 1204.0 L539.2 1200.7 L528.2 1197.3 L517.3 1193.5 L506.5 1189.5 L495.8 1185.3 L485.1 1180.8 L474.6 1176.0 L464.2 1171.0 L453.9 1165.8 L443.7 1160.3 L433.6 1154.6 L423.7 1148.6 L413.9 1142.4 L404.3 1136.0 L394.8 1129.4 L385.4 1122.5 L376.2 1115.4 L367.2 1108.1 L358.4 1100.6 L349.7 1092.9 L341.2 1084.9 L332.8 1076.8 L324.7 1068.5 L316.7 1060.0 L309.0 1051.3 L301.4 1042.4 L294.1 1033.3 L287.0 1024.1 L280.0 1014.7 L273.3 1005.1 L266.9 995.4 L260.6 985.5 L254.6 975.5 L248.8 965.3 L243.2 955.0 L237.9 944.5 L232.8 934.0 L228.0 923.3 L223.4 912.5 L219.1 901.6 L215.0 890.6 L211.2 879.4 L207.6 868.2 L204.3 856.9 L201.2 845.6 L198.5 834.1 L195.9 822.6 L193.7 811.0 L191.7 799.4 L190.0 787.7 L188.6 776.0 L187.4 764.3 L186.5 752.5 L185.9 740.7 L185.6 728.8 L185.5 717.0 L185.7 705.2 L186.2 693.3 L187.0 681.5 L188.0 669.7 L189.3 657.9 L190.9 646.1 L192.8 634.4 L194.9 622.7 L197.3 611.1 L200.0 599.5 L203.0 587.9 L206.2 576.5 L209.7 565.1 L213.4 553.8 L217.5 542.5 L221.8 531.4 L226.3 520.4 L231.1 509.4 L236.2 498.6 L241.5 487.9 L247.0 477.3 L252.9 466.8 L258.9 456.5 L265.2 446.3 L271.7 436.3 L278.5 426.4 L285.5 416.7 L292.8 407.1 L300.2 397.7 L307.9 388.4 L315.8 379.4 L323.9 370.5 L332.2 361.8 L340.7 353.3 L349.5 345.0 L358.4 336.9 L367.5 329.0 L376.8 321.3 L386.3 313.8 L395.9 306.6 L405.7 299.5 L415.7 292.7 L425.9 286.2 L436.2 279.8 L446.6 273.7 L457.2 267.9 L468.0 262.3 L478.9 256.9 L489.9 251.8 L501.0 247.0 L512.2 242.4 L523.6 238.0 L535.0 234.0 L546.6 230.1 L558.2 226.6 L569.9 223.3 L581.7 220.4 L593.6 217.6 L605.5 215.2 L617.5 213.0 L629.6 211.1 L641.7 209.5 L653.8 208.2 L666.0 207.2 L678.2 206.4 L690.4 205.9 L702.6 205.8 L714.9 205.9 L727.1 206.2 L739.3 206.9 L751.6 207.9 L763.8 209.1 L775.9 210.6 L788.1 212.4 L800.2 214.5 L812.2 216.9 L824.2 219.5 L836.2 222.5 L848.1 225.7 L859.9 229.2 L871.6 232.9 L883.2 237.0 L894.8 241.3 L906.2 245.9 L917.6 250.7 L928.8 255.8 L939.9 261.2 L950.9 266.8 L961.8 272.7 L972.5 278.9 L983.1 285.3 L993.6 291.9 L1003.9 298.8 L1014.0 306.0 L1024.0 313.3 L1033.8 321.0 L1043.4 328.8 L1052.8 336.9 L1062.1 345.1 L1071.2 353.6 L1080.0 362.4 L1088.7 371.3 L1097.2 380.4 L1105.4 389.7 L1113.4 399.3 L1121.3 409.0 L1128.9 418.9 L1136.2 428.9 L1143.3 439.2 L1150.2 449.6 L1156.9 460.2 L1163.3 470.9 L1169.4 481.8 L1175.3 492.8 L1181.0 504.0 L1186.4 515.3 L1191.5 526.7 L1196.4 538.3 L1201.0 550.0 L1205.3 561.7 L1209.3 573.6 L1213.1 585.6 L1216.6 597.7 L1219.8 609.8 L1222.7 622.1 L1225.4 634.4 L1227.7 646.7 L1229.8 659.1 L1231.6 671.6 L1233.1 684.1 L1234.3 696.7 L1235.2 709.3 L1235.8 721.9 L1236.1 734.5 L1236.2 747.1 L1235.9 759.8 L1235.3 772.4 L1234.5 785.0 L1233.3 797.7 L1231.9 810.2 L1230.2 822.8 L1228.1 835.3 L1225.8 847.8 L1223.2 860.2 L1220.3 872.5 L1217.1 884.8 L1213.6 897.1 L1209.8 909.2 L1205.8 921.3 L1201.5 933.2 L1196.9 945.1 L1192.0 956.9 L1186.8 968.5 L1181.4 980.0 L1175.7 991.4 L1169.7 1002.7 L1163.5 1013.9 L1157.0 1024.9 L1150.2 1035.7 L1143.2 1046.4 L1135.9 1056.9 L1128.4 1067.3 L1120.7 1077.5 L1112.7 1087.5 L1104.5 1097.3 L1096.0 1107.0 L1087.4 1116.4 L1078.5 1125.6 L1069.3 1134.7 L1060.0 1143.5 L1050.5 1152.1 L1040.7 1160.5 L1030.8 1168.7 L1020.7 1176.6 L1010.4 1184.3 L999.9 1191.8 L989.2 1199.0 L978.3 1206.0 L967.3 1212.7 L956.2 1219.1 L944.8 1225.4 L933.4 1231.3 L921.8 1237.0 L910.0 1242.4 L898.2 1247.5 L886.2 1252.4 L874.1 1257.0 L861.9 1261.3 L849.5 1265.3 L837.1 1269.0 L824.6 1272.4 L812.0 1275.6 L799.4 1278.4 L786.6 1281.0 L773.9 1283.3 L761.0 1285.2 L748.1 1286.9 L735.2 1288.3 L722.2 1289.3 L709.2 1290.1 L696.2 1290.6 L683.2 1290.7 L670.1 1290.6 L657.1 1290.1 L644.1 1289.4 L631.0 1288.3 L618.0 1287.0 L605.1 1285.3 L592.2 1283.4 L579.3 1281.1 L566.4 1278.5 L553.7 1275.7 L541.0 1272.5 L528.3 1269.0 L515.8 1265.3 L503.3 1261.2 L490.9 1256.9 L478.6 1252.3 L466.4 1247.4 L454.4 1242.2 L442.4 1236.7 L430.6 1230.9 L418.9 1224.9 L407.4 1218.6 L396.0 1212.0 L384.7 1205.1 L373.6 1198.0 L362.7 1190.6 L351.9 1183.0 L341.3 1175.1 L330.9 1167.0 L320.7 1158.6 L310.7 1150.0 L300.9 1141.2 L291.2 1132.1 L281.8 1122.8 L272.6 1113.3 L263.7 1103.5 L254.9 1093.6 L246.4 1083.4 L238.1 1073.1 L230.1 1062.5 L222.3 1051.8 L214.7 1040.8 L207.4 1029.7 L200.4 1018.5 L193.6 1007.0 L187.1 995.4 L180.8 983.7 L174.9 971.8 L169.2 959.7 L163.7 947.5 L158.6 935.2 L153.8 922.8 L149.2 910.3 L144.9 897.6 L141.0 884.8 L137.3 872.0 L133.9 859.1 L130.8 846.0 L128.1 833.0 L125.6 819.8 L123.4 806.6 L121.6 793.3 L120.0 780.0 L118.8 766.6 L117.9 753.3 L117.2 739.8 L116.9 726.4 L117.0 713.0 L117.3 699.5 L117.9 686.1 L118.9 672.7 L120.1 659.3 L121.7 645.9 L123.6 632.6 L125.8 619.3 L128.3 606.0 L131.1 592.9 L134.2 579.7 L137.7 566.7 L141.4 553.7 L145.5 540.8 L149.8 528.0 L154.4 515.3 L159.4 502.7 L164.6 490.2 L170.1 477.8 L175.9 465.6 L182.0 453.5 L188.4 441.5 L195.1 429.7 L202.0 418.1 L209.2 406.6 L216.7 395.2 L224.5 384.1 L232.5 373.1 L240.7 362.3 L249.2 351.7 L258.0 341.2 L267.0 331.0 L276.3 321.0 L285.8 311.2 L295.5 301.7 L305.4 292.3 L315.6 283.2 L325.9 274.3 L336.5 265.7 L347.3 257.3 L358.3 249.1 L369.4 241.2 L380.8 233.6 L392.3 226.2 L404.1 219.1 L415.9 212.3 L428.0 205.8 L440.2 199.5 L452.5 193.5 L465.0 187.8 L477.6 182.4 L490.4 177.3 L503.2 172.4 L516.2 167.9 L529.3 163.7 L542.5 159.8 L555.8 156.2 L569.1 152.8 L582.6 149.9 L596.1 147.2 L609.7 144.8 L623.3 142.8 L637.0 141.0 L650.8 139.6 L664.5 138.5 L678.3 137.7 L692.2 137.3 L706.0 137.2 L719.8 137.4 L733.7 137.9 L747.5 138.7 L761.3 139.9 L775.1 141.4 L788.8 143.2 L802.5 145.3 L816.2 147.7 L829.8 150.5 L843.3 153.6 L856.8 157.0 L870.2 160.7 L883.5 164.7 L896.7 169.0 L909.9 173.7 L922.9 178.6 L935.8 183.9 L948.6 189.4 L961.2 195.3 L973.8 201.4 L986.1 207.9 L998.4 214.6 L1010.4 221.6 L1022.4 228.9 L1034.1 236.5 L1045.7 244.4 L1057.1 252.5 L1068.3 260.9 L1079.3 269.5 L1090.1 278.4 L1100.7 287.6 L1111.1 297.0 L1121.3 306.7 L1131.2 316.6 L1140.9 326.7 L1150.4 337.1 L1159.7 347.6 L1168.7 358.4 L1177.4 369.4 L1185.9 380.6 L1194.2 392.1 L1202.1 403.7 L1209.8 415.5 L1217.3 427.4 L1224.4 439.6 L1231.3 451.9 L1237.9 464.4 L1244.1 477.0 L1250.1 489.8 L1255.9 502.7 L1261.3 515.8 L1266.4 529.0 L1271.1 542.3 L1275.6 555.7 L1279.8 569.2 L1283.7 582.9 L1287.2 596.6 L1290.4 610.4 L1293.3 624.3 L1295.9 638.2 L1298.1 652.2 L1300.1 666.3 L1301.7 680.4 L1302.9 694.6 L1303.9 708.7 L1304.5 723.0 L1304.8 737.2 L1304.7 751.4 L1304.3 765.7 L1303.6 779.9 L1302.6 794.1 L1301.2 808.3 L1299.5 822.4 L1297.4 836.6 L1295.1 850.6 L1292.4 864.7 L1289.3 878.6 L1286.0 892.5 L1282.3 906.3 L1278.3 920.1 L1274.0 933.7 L1269.4 947.3 L1264.4 960.7 L1259.1 974.0 L1253.6 987.2 L1247.7 1000.3 L1241.5 1013.3 L1235.0 1026.1 L1228.2 1038.7 L1221.1 1051.2 L1213.7 1063.5 L1206.0 1075.7 L1198.1 1087.7 L1189.9 1099.5 L1181.3 1111.1 L1172.6 1122.5 L1163.5 1133.7 L1154.2 1144.7 L1144.6 1155.5 L1134.8 1166.0 L1124.7 1176.4 L1114.4 1186.5 L1103.9 1196.3 L1093.1 1206.0 L1082.1 1215.3 L1070.9 1224.4 L1059.4 1233.3 L1047.8 1241.9 L1035.9 1250.2 L1023.9 1258.2 L1011.7 1266.0 L999.3 1273.5 L986.7 1280.7 L973.9 1287.6 L961.0 1294.2 L947.9 1300.5 L934.7 1306.5 L921.3 1312.2 L907.8 1317.6 L894.2 1322.6 L880.4 1327.4 L866.6 1331.8 L852.6 1335.9 L838.5 1339.7 L824.4 1343.1 L810.1 1346.3 L795.8 1349.1 L781.4 1351.5 L767.0 1353.7 L752.5 1355.4 L738.0 1356.9 L723.4 1358.0 L708.8 1358.8 L694.2 1359.2 L679.6 1359.3 L664.9 1359.1 L650.3 1358.5 L635.7 1357.6 L621.1 1356.3 L606.5 1354.7 L592.0 1352.7 L577.5 1350.4 L563.0 1347.8 L548.6 1344.9 L534.3 1341.6 L520.1 1337.9 L505.9 1334.0 L491.9 1329.7 L477.9 1325.0 L464.0 1320.1 L450.3 1314.8 L436.7 1309.2 L423.2 1303.3 L409.8 1297.1 L396.6 1290.6 L383.5 1283.7 L370.6 1276.6 L357.8 1269.1 L345.3 1261.3 L332.9 1253.3 L320.7 1245.0 L308.7 1236.3 L296.8 1227.4 L285.2 1218.3 L273.8 1208.8 L262.6 1199.1 L251.7 1189.1 L241.0 1178.9 L230.5 1168.4 L220.2 1157.7 L210.2 1146.7 L200.5 1135.5 L191.0 1124.0 L181.8 1112.4 L172.8 1100.5 L164.2 1088.4 L155.8 1076.1 L147.7 1063.6 L139.9 1051.0 L132.3 1038.1 L125.1 1025.1 L118.2 1011.9 L111.6 998.5 L105.3 985.0 L99.3 971.3 L93.6 957.5 L88.3 943.5 L83.3 929.5 L78.6 915.3 L74.2 901.0 L70.2 886.6 L66.5 872.1 L63.1 857.5 L60.1 842.8 L57.4 828.0 L55.1 813.2 L53.1 798.4 L51.4 783.5 L50.1 768.5 L49.2 753.5 L48.6 738.5 L48.3 723.5 L48.4 708.5 L48.9 693.4 L49.7 678.4 L50.8 663.4 L52.3 648.4 L54.2 633.5 L56.4 618.6 L58.9 603.7 L61.8 588.9 L65.0 574.2 L68.6 559.5 L72.5 544.9 L76.8 530.4 L81.4 516.0 L86.3 501.7 L91.6 487.6 L97.2 473.5 L103.1 459.6 L109.4 445.8 L116.0 432.2 L122.9 418.7 L130.1 405.3 L137.6 392.2 L145.4 379.2 L153.5 366.4 L162.0 353.7 L170.7 341.3 L179.7 329.1 L189.0 317.1 L198.6 305.3 L208.5 293.7 L218.6 282.3 L229.0 271.2 L239.6 260.3 L250.6 249.7 L261.7 239.3 L273.1 229.2 L284.8 219.3 L296.6 209.8 L308.7 200.5 L321.0 191.4 L333.6 182.7 L346.3 174.2 L359.2 166.1 L372.4 158.2 L385.7 150.7 L399.1 143.4 L412.8 136.5 L426.6 129.9 L440.6 123.6 L454.7 117.6 L469.0 112.0 L483.4 106.7 L497.9 101.7 L512.5 97.1 L527.3 92.8 L542.1 88.8 L557.1 85.2 L572.1 82.0 L587.2 79.1 L602.4 76.5 L617.6 74.3"/>
<path d="M517.1 444.9 L523.7 440.7 L530.4 436.6 L537.2 432.6 L544.1 428.8 L551.0 425.2 L558.1 421.7 L565.2 418.4 L572.4 415.3 L579.7 412.3 L587.1 409.5 L594.6 406.9 L602.1 404.4 L609.6 402.1 L617.3 400.0 L624.9 398.0 L632.7 396.3 L640.4 394.7 L648.3 393.3 L656.1 392.1 L664.0 391.0 L671.9 390.2 L679.8 389.5 L687.8 389.0 L695.7 388.7 L703.7 388.6 L711.7 388.7 L719.7 389.0 L727.7 389.4 L735.7 390.0 L743.6 390.9 L751.6 391.9 L759.5 393.0 L767.4 394.4 L775.3 396.0 L783.1 397.7 L790.9 399.7 L798.7 401.8 L806.4 404.1 L814.1 406.5 L821.7 409.2 L829.3 412.0 L836.8 415.0 L844.2 418.2 L851.6 421.6 L858.9 425.1 L866.1 428.8 L873.2 432.7 L880.2 436.8 L887.2 441.0 L894.0 445.3 L900.8 449.9 L907.4 454.6 L913.9 459.4 L920.4 464.4 L926.7 469.6 L932.9 474.9 L939.0 480.4 L944.9 486.0 L950.8 491.7 L956.4 497.6 L962.0 503.6 L967.4 509.7 L972.7 516.0 L977.8 522.4 L982.8 529.0 L987.7 535.6 L992.4 542.4 L996.9 549.2 L1001.3 556.2 L1005.5 563.3 L1009.5 570.5 L1013.4 577.8 L1017.1 585.2 L1020.7 592.6 L1024.0 600.2 L1027.2 607.8 L1030.3 615.5 L1033.1 623.3 L1035.8 631.2 L1038.2 639.1 L1040.5 647.1 L1042.6 655.2 L1044.6 663.3 L1046.3 671.4 L1047.8 679.6 L1049.2 687.8 L1050.4 696.1 L1051.3 704.4 L1052.1 712.7 L1052.7 721.0 L1053.1 729.4 L1053.3 737.8 L1053.3 746.1 L1053.1 754.5 L1052.7 762.9 L1052.1 771.3 L1051.3 779.7 L1050.4 788.0 L1049.2 796.4 L1047.8 804.7 L1046.3 812.9 L1044.5 821.2 L1042.6 829.4 L1040.4 837.6 L1038.1 845.7 L1035.6 853.8 L1032.9 861.8 L1030.0 869.8 L1026.9 877.6 L1023.6 885.5 L1020.1 893.2 L1016.5 900.9 L1012.7 908.5 L1008.7 916.0 L1004.5 923.4 L1000.2 930.7 L995.6 938.0 L991.0 945.1 L986.1 952.1 L981.1 959.0 L975.9 965.8 L970.5 972.5 L965.0 979.0 L959.4 985.4 L953.5 991.7 L947.6 997.9 L941.5 1003.9 L935.2 1009.8 L928.8 1015.6 L922.3 1021.2 L915.6 1026.6 L908.8 1031.9 L901.9 1037.0 L894.9 1042.0 L887.7 1046.8 L880.4 1051.5 L873.1 1056.0 L865.6 1060.3 L858.0 1064.4 L850.3 1068.4 L842.5 1072.2 L834.6 1075.8 L826.6 1079.2 L818.6 1082.4 L810.4 1085.5 L802.2 1088.4 L793.9 1091.0 L785.6 1093.5 L777.2 1095.8 L768.7 1097.9 L760.2 1099.8 L751.6 1101.5 L743.0 1103.0 L734.4 1104.3 L725.7 1105.4 L717.0 1106.3 L708.3 1107.0 L699.5 1107.5 L690.8 1107.8 L682.0 1107.9 L673.2 1107.7 L664.4 1107.4 L655.6 1106.9 L646.9 1106.1 L638.1 1105.2 L629.4 1104.1 L620.7 1102.7 L612.0 1101.2 L603.3 1099.4 L594.7 1097.4 L586.1 1095.3 L577.6 1092.9 L569.1 1090.4 L560.7 1087.6 L552.3 1084.6 L544.0 1081.5 L535.8 1078.1 L527.7 1074.6 L519.6 1070.9 L511.6 1066.9 L503.7 1062.8 L495.9 1058.5 L488.2 1054.1 L480.6 1049.4 L473.1 1044.6 L465.7 1039.5 L458.4 1034.4 L451.3 1029.0 L444.3 1023.5 L437.3 1017.8 L430.6 1011.9 L423.9 1005.9 L417.4 999.7 L411.1 993.4 L404.8 986.9 L398.8 980.3 L392.8 973.5 L387.1 966.6 L381.5 959.5 L376.0 952.3 L370.8 945.0 L365.6 937.6 L360.7 930.0 L355.9 922.3 L351.4 914.5 L347.0 906.6 L342.7 898.6 L338.7 890.5 L334.9 882.3 L331.2 874.0 L327.7 865.6 L324.5 857.1 L321.4 848.6 L318.5 839.9 L315.8 831.2 L313.3 822.5 L311.1 813.6 L309.0 804.8 L307.1 795.8 L305.5 786.8 L304.0 777.8 L302.8 768.8 L301.8 759.7 L301.0 750.5 L300.4 741.4 L300.0 732.2 L299.8 723.1 L299.8 713.9 L300.1 704.7 L300.6 695.5 L301.3 686.4 L302.1 677.2 L303.3 668.1 L304.6 658.9 L306.1 649.8 L307.9 640.8 L309.8 631.8 L312.0 622.8 L314.4 613.8 L317.0 605.0 L319.8 596.1 L322.8 587.4 L326.0 578.7 L329.4 570.1 L333.0 561.5 L336.8 553.1 L340.9 544.7 L345.1 536.4 L349.5 528.2 L354.1 520.1 L358.9 512.1 L363.9 504.2 L369.0 496.5 L374.4 488.8 L379.9 481.3 L385.6 473.9 L391.5 466.6 L397.5 459.5 L403.8 452.5 L410.1 445.6 L416.7 438.9 L423.4 432.4 L430.3 426.0 L437.3 419.7 L444.4 413.6 L451.8 407.7 L459.2 402.0 L466.8 396.4 L474.5 391.0 L482.3 385.7 L490.3 380.7 L498.4 375.8 L506.6 371.1 L514.9 366.7 L523.4 362.4 L531.9 358.3 L540.5 354.4 L549.2 350.7 L558.1 347.2 L567.0 343.9 L575.9 340.8 L585.0 337.9 L594.1 335.2 L603.3 332.8 L612.5 330.5 L621.8 328.5 L631.2 326.7 L640.6 325.1 L650.0 323.7 L659.5 322.5 L669.0 321.6 L678.6 320.9 L688.1 320.4 L697.7 320.1 L707.2 320.1 L716.8 320.2 L726.4 320.6 L736.0 321.3 L745.5 322.1 L755.1 323.2 L764.6 324.5 L774.1 326.0 L783.6 327.7 L793.0 329.7 L802.4 331.8 L811.7 334.2 L821.0 336.8 L830.2 339.7 L839.4 342.7 L848.5 346.0 L857.5 349.5 L866.5 353.1 L875.3 357.0 L884.1 361.1 L892.8 365.5 L901.4 370.0 L909.9 374.7 L918.3 379.6 L926.5 384.7 L934.7 390.0 L942.7 395.5 L950.6 401.2 L958.4 407.1 L966.0 413.1 L973.5 419.4 L980.9 425.8 L988.1 432.4 L995.1 439.1 L1002.0 446.1 L1008.8 453.1 L1015.4 460.4 L1021.8 467.8 L1028.0 475.3 L1034.1 483.1 L1040.0 490.9 L1045.7 498.9 L1051.2 507.0 L1056.6 515.3 L1061.7 523.6 L1066.7 532.1 L1071.4 540.8 L1076.0 549.5 L1080.3 558.4 L1084.5 567.3 L1088.4 576.4 L1092.2 585.5 L1095.7 594.7 L1099.0 604.1 L1102.1 613.5 L1105.0 622.9 L1107.6 632.5 L1110.0 642.1 L1112.3 651.8 L1114.2 661.5 L1116.0 671.3 L1117.5 681.1 L1118.8 690.9 L1119.9 700.8 L1120.7 710.7 L1121.4 720.7 L1121.7 730.6 L1121.9 740.6 L1121.8 750.6 L1121.5 760.6 L1120.9 770.5 L1120.2 780.5 L1119.1 790.5 L1117.9 800.4 L1116.4 810.3 L1114.7 820.2 L1112.8 830.0 L1110.6 839.8 L1108.2 849.5 L1105.6 859.2 L1102.7 868.9 L1099.6 878.5 L1096.3 888.0 L1092.8 897.4 L1089.1 906.7 L1085.1 916.0 L1080.9 925.2 L1076.5 934.3 L1071.9 943.2 L1067.1 952.1 L1062.0 960.9 L1056.8 969.5 L1051.4 978.1 L1045.7 986.5 L1039.9 994.8 L1033.8 1002.9 L1027.6 1010.9 L1021.2 1018.8 L1014.6 1026.5 L1007.8 1034.1 L1000.9 1041.5 L993.7 1048.7 L986.4 1055.8 L979.0 1062.7 L971.3 1069.5 L963.5 1076.1 L955.6 1082.5 L947.5 1088.7 L939.2 1094.7 L930.8 1100.5 L922.3 1106.2 L913.6 1111.6 L904.8 1116.8 L895.9 1121.9 L886.9 1126.7 L877.7 1131.3 L868.4 1135.7 L859.1 1139.9 L849.6 1143.9 L840.0 1147.7 L830.4 1151.2 L820.6 1154.5 L810.8 1157.6 L800.9 1160.5 L790.9 1163.1 L780.9 1165.5 L770.8 1167.6 L760.6 1169.6 L750.4 1171.3 L740.2 1172.7 L729.9 1173.9 L719.6 1174.9 L709.3 1175.6 L698.9 1176.1 L688.6 1176.4 L678.2 1176.4 L667.8 1176.2 L657.5 1175.7 L647.1 1175.0 L636.7 1174.0 L626.4 1172.9 L616.1 1171.4 L605.8 1169.7 L595.6 1167.8 L585.4 1165.7 L575.2 1163.3 L565.1 1160.6 L555.1 1157.8 L545.1 1154.7 L535.2 1151.3 L525.3 1147.8 L515.6 1144.0 L505.9 1139.9 L496.3 1135.7 L486.8 1131.2 L477.5 1126.5 L468.2 1121.6 L459.0 1116.4 L450.0 1111.1 L441.0 1105.5 L432.3 1099.7 L423.6 1093.8 L415.1 1087.6 L406.7 1081.2 L398.4 1074.6 L390.4 1067.8 L382.4 1060.8 L374.6 1053.7 L367.0 1046.3 L359.6 1038.8 L352.3 1031.1 L345.2 1023.3 L338.3 1015.2 L331.6 1007.0 L325.1 998.7 L318.8 990.2 L312.6 981.5 L306.7 972.7 L300.9 963.8 L295.4 954.7 L290.1 945.5 L285.0 936.1 L280.1 926.7 L275.4 917.1 L270.9 907.4 L266.7 897.6 L262.7 887.7 L258.9 877.7 L255.4 867.6 L252.1 857.4 L249.0 847.2 L246.2 836.9 L243.6 826.5 L241.3 816.0 L239.2 805.5 L237.3 794.9 L235.7 784.3 L234.3 773.7 L233.2 763.0 L232.3 752.2 L231.7 741.5 L231.3 730.7 L231.2 720.0 L231.4 709.2 L231.7 698.4 L232.4 687.6 L233.3 676.9 L234.4 666.1 L235.8 655.4 L237.4 644.7 L239.3 634.1 L241.4 623.5 L243.8 612.9 L246.4 602.4 L249.3 591.9 L252.4 581.6 L255.8 571.2 L259.4 561.0 L263.2 550.8 L267.3 540.7 L271.6 530.8 L276.2 520.9 L281.0 511.1 L286.0 501.4 L291.2 491.9 L296.7 482.4 L302.4 473.1 L308.3 463.9 L314.4 454.9 L320.7 446.0 L327.3 437.2 L334.0 428.6 L341.0 420.1 L348.1 411.8 L355.5 403.7 L363.0 395.7 L370.7 387.9 L378.6 380.3 L386.7 372.9 L395.0 365.6 L403.4 358.6 L412.0 351.7 L420.8 345.0 L429.7 338.6 L438.8 332.3 L448.0 326.3 L457.4 320.5 L466.9 314.8 L476.5 309.4 L486.3 304.3 L496.2 299.3 L506.2 294.6 L516.3 290.1 L526.5 285.9 L536.8 281.9 L547.3 278.1 L557.8 274.6 L568.4 271.3 L579.1 268.2 L589.8 265.4 L600.6 262.9 L611.5 260.6 L622.4 258.6 L633.4 256.8 L644.5 255.3 L655.5 254.0 L666.6 253.0 L677.8 252.2 L688.9 251.7 L700.1 251.5 L711.3 251.5 L722.4 251.8 L733.6 252.4 L744.8 253.2 L755.9 254.2 L767.1 255.6 L778.1 257.1 L789.2 259.0 L800.2 261.1 L811.2 263.4 L822.1 266.1 L833.0 268.9 L843.8 272.1 L854.5 275.4 L865.2 279.1 L875.8 283.0 L886.2 287.1 L896.6 291.5 L906.9 296.1 L917.1 300.9 L927.2 306.0 L937.2 311.4 L947.0 316.9 L956.7 322.7 L966.3 328.7 L975.7 335.0 L985.0 341.5 L994.2 348.1 L1003.2 355.1 L1012.0 362.2 L1020.7 369.5 L1029.2 377.0 L1037.5 384.7 L1045.7 392.7 L1053.6 400.8 L1061.4 409.1 L1069.0 417.6 L1076.4 426.2 L1083.6 435.1 L1090.6 444.1 L1097.4 453.3 L1104.0 462.6 L1110.3 472.1 L1116.5 481.7 L1122.4 491.5 L1128.1 501.4 L1133.5 511.5 L1138.7 521.7 L1143.7 532.0 L1148.5 542.4 L1153.0 553.0 L1157.2 563.6 L1161.3 574.4 L1165.0 585.3 L1168.5 596.2 L1171.8 607.2 L1174.8 618.3 L1177.5 629.5 L1180.0 640.8 L1182.2 652.1 L1184.2 663.4 L1185.9 674.8 L1187.3 686.3 L1188.5 697.8 L1189.4 709.3 L1190.0 720.8 L1190.4 732.4 L1190.5 744.0 L1190.3 755.5 L1189.8 767.1 L1189.1 778.7 L1188.1 790.2 L1186.9 801.8 L1185.3 813.3 L1183.5 824.7 L1181.5 836.2 L1179.1 847.6 L1176.5 858.9 L1173.7 870.2 L1170.6 881.4 L1167.2 892.5 L1163.5 903.6 L1159.6 914.6 L1155.5 925.5 L1151.0 936.3 L1146.4 947.0 L1141.4 957.6 L1136.3 968.1 L1130.9 978.4 L1125.2 988.7 L1119.3 998.8 L1113.2 1008.8 L1106.8 1018.6 L1100.2 1028.3 L1093.4 1037.8 L1086.3 1047.2 L1079.0 1056.4 L1071.6 1065.5 L1063.9 1074.4 L1055.9 1083.1 L1047.8 1091.6 L1039.5 1099.9 L1031.0 1108.1 L1022.3 1116.0 L1013.4 1123.7 L1004.3 1131.3 L995.1 1138.6 L985.7 1145.7 L976.1 1152.6 L966.3 1159.3 L956.4 1165.7 L946.3 1172.0 L936.1 1177.9 L925.8 1183.7 L915.3 1189.2 L904.7 1194.5 L893.9 1199.5 L883.1 1204.3 L872.1 1208.8 L861.0 1213.0 L849.8 1217.0 L838.5 1220.8 L827.1 1224.3 L815.7 1227.5 L804.1 1230.5 L792.5 1233.1 L780.9 1235.6 L769.1 1237.7 L757.4 1239.6 L745.5 1241.2 L733.7 1242.5 L721.8 1243.5 L709.8 1244.3 L697.9 1244.8 L685.9 1245.0 L673.9 1244.9 L662.0 1244.6 L650.0 1244.0 L638.0 1243.1 L626.1 1241.9 L614.2 1240.4 L602.3 1238.7 L590.5 1236.7 L578.7 1234.4 L566.9 1231.8 L555.2 1229.0 L543.6 1225.8 L532.0 1222.5 L520.5 1218.8 L509.2 1214.9 L497.8 1210.7 L486.6 1206.2 L475.5 1201.5 L464.5 1196.5 L453.6 1191.3 L442.8 1185.8 L432.2 1180.1 L421.7 1174.1 L411.3 1167.8 L401.1 1161.3 L391.0 1154.6 L381.1 1147.7 L371.3 1140.5 L361.7 1133.0 L352.2 1125.4 L343.0 1117.5 L333.9 1109.4 L325.0 1101.1 L316.3 1092.6 L307.8 1083.9 L299.5 1075.0 L291.4 1065.9 L283.5 1056.6 L275.9 1047.1 L268.4 1037.4 L261.2 1027.6 L254.2 1017.6 L247.4 1007.4 L240.9 997.1 L234.6 986.6 L228.5 975.9 L222.7 965.2 L217.2 954.2 L211.9 943.2 L206.9 932.0 L202.1 920.7 L197.5 909.3 L193.3 897.8 L189.3 886.2 L185.6 874.4 L182.1 862.6 L179.0 850.8 L176.1 838.8 L173.5 826.8 L171.1 814.7 L169.1 802.5 L167.3 790.3 L165.8 778.0 L164.6 765.8 L163.7 753.4 L163.0 741.1 L162.7 728.7 L162.7 716.4 L162.9 704.0 L163.4 691.6 L164.2 679.3 L165.3 666.9 L166.7 654.6 L168.4 642.3 L170.3 630.1 L172.6 617.8 L175.1 605.7 L177.9 593.6 L181.0 581.5 L184.4 569.6 L188.1 557.7 L192.0 545.8 L196.2 534.1 L200.7 522.5 L205.5 511.0 L210.5 499.6 L215.8 488.2 L221.3 477.1 L227.2 466.0 L233.2 455.1 L239.6 444.3 L246.2 433.7 L253.0 423.2 L260.1 412.9 L267.4 402.7 L275.0 392.7 L282.8 382.9 L290.8 373.2 L299.1 363.8 L307.5 354.5 L316.2 345.4 L325.1 336.6 L334.3 327.9 L343.6 319.5 L353.1 311.2 L362.8 303.2 L372.7 295.4 L382.8 287.8 L393.1 280.5 L403.5 273.4 L414.1 266.6 L424.9 260.0 L435.8 253.6 L446.9 247.5 L458.1 241.7 L469.4 236.1 L480.9 230.8 L492.5 225.7 L504.3 220.9 L516.1 216.4 L528.1 212.2 L540.1 208.2 L552.3 204.5 L564.5 201.1 L576.8 198.0 L589.2 195.2 L601.7 192.7 L614.2 190.4 L626.8 188.5 L639.4 186.8 L652.1 185.4 L664.8 184.3 L677.5 183.6 L690.3 183.1 L703.0 182.9 L715.8 183.0 L728.6 183.4 L741.3 184.1 L754.1 185.1 L766.8 186.4 L779.5 188.0 L792.2 189.9 L804.8 192.1 L817.4 194.6 L829.9 197.4 L842.4 200.4 L854.7 203.8 L867.1 207.5 L879.3 211.4 L891.4 215.6 L903.5 220.1 L915.4 224.9 L927.2 230.0 L939.0 235.3 L950.6 241.0 L962.0 246.8 L973.4 253.0 L984.5 259.4 L995.6 266.1 L1006.5 273.1 L1017.2 280.3 L1027.8 287.7 L1038.2 295.4 L1048.4 303.4 L1058.4 311.5 L1068.2 320.0 L1077.9 328.6 L1087.3 337.5 L1096.6 346.6 L1105.6 355.9 L1114.4 365.4 L1123.0 375.1 L1131.4 385.1 L1139.5 395.2 L1147.4 405.5 L1155.1 416.0 L1162.5 426.7 L1169.7 437.6 L1176.6 448.6 L1183.3 459.8 L1189.7 471.2 L1195.8 482.7 L1201.7 494.3 L1207.3 506.1 L1212.7 518.0 L1217.7 530.1 L1222.5 542.3 L1227.0 554.5 L1231.2 566.9 L1235.1 579.4 L1238.8 592.0 L1242.1 604.7 L1245.1 617.4 L1247.9 630.3 L1250.3 643.1 L1252.5 656.1 L1254.3 669.1 L1255.9 682.1 L1257.1 695.2 L1258.1 708.4 L1258.7 721.5 L1259.0 734.7 L1259.0 747.8 L1258.7 761.0 L1258.1 774.2 L1257.2 787.3 L1256.0 800.4 L1254.5 813.6 L1252.7 826.6 L1250.6 839.7 L1248.1 852.7 L1245.4 865.6 L1242.4 878.5 L1239.0 891.3 L1235.4 904.0 L1231.5 916.7 L1227.2 929.2 L1222.7 941.7 L1217.9 954.0 L1212.8 966.3 L1207.4 978.4 L1201.7 990.4 L1195.8 1002.3 L1189.6 1014.1 L1183.1 1025.7 L1176.3 1037.1 L1169.2 1048.4 L1161.9 1059.5 L1154.4 1070.5 L1146.5 1081.3 L1138.5 1091.9 L1130.1 1102.3 L1121.6 1112.5 L1112.7 1122.6 L1103.7 1132.4 L1094.4 1142.0 L1084.9 1151.4 L1075.2 1160.6 L1065.3 1169.6 L1055.1 1178.3 L1044.8 1186.8 L1034.2 1195.0 L1023.4 1203.1 L1012.5 1210.8 L1001.4 1218.3 L990.1 1225.6 L978.6 1232.6 L967.0 1239.3 L955.2 1245.7 L943.3 1251.9 L931.2 1257.8 L918.9 1263.4 L906.6 1268.8 L894.1 1273.8 L881.5 1278.6 L868.8 1283.0 L855.9 1287.2 L843.0 1291.1 L830.0 1294.7 L816.9 1297.9 L803.7 1300.9 L790.5 1303.6 L777.1 1305.9 L763.8 1307.9 L750.3 1309.7 L736.9 1311.1 L723.4 1312.2 L709.8 1313.0 L696.3 1313.4 L682.7 1313.6 L669.2 1313.4 L655.6 1313.0 L642.0 1312.2 L628.5 1311.1 L615.0 1309.6 L601.5 1307.9 L588.0 1305.9 L574.6 1303.5 L561.3 1300.8 L548.0 1297.8 L534.8 1294.5 L521.6 1290.9 L508.5 1287.0 L495.6 1282.8 L482.7 1278.2 L469.9 1273.4 L457.2 1268.3 L444.7 1262.9 L432.3 1257.1 L420.0 1251.1 L407.8 1244.8 L395.8 1238.3 L383.9 1231.4 L372.2 1224.3 L360.7 1216.9 L349.3 1209.2 L338.1 1201.2 L327.1 1193.0 L316.3 1184.6 L305.7 1175.9 L295.3 1166.9 L285.0 1157.7 L275.0 1148.2 L265.3 1138.5 L255.7 1128.6 L246.4 1118.5 L237.3 1108.1 L228.4 1097.6 L219.8 1086.8 L211.4 1075.8 L203.3 1064.6 L195.5 1053.2 L187.9 1041.7 L180.6 1030.0 L173.6 1018.1 L166.8 1006.0 L160.3 993.8 L154.1 981.4 L148.2 968.8 L142.6 956.2 L137.2 943.4 L132.2 930.4 L127.5 917.4 L123.1 904.2 L118.9 891.0 L115.1 877.6 L111.6 864.2 L108.4 850.6 L105.6 837.0 L103.0 823.3 L100.8 809.6 L98.8 795.8 L97.2 781.9 L96.0 768.0 L95.0 754.1 L94.4 740.2 L94.1 726.2 L94.1 712.3 L94.5 698.3 L95.1 684.3 L96.1 670.4 L97.4 656.5 L99.1 642.6 L101.1 628.7 L103.4 614.9 L106.0 601.1 L108.9 587.4 L112.2 573.8 L115.8 560.2 L119.6 546.7 L123.9 533.3 L128.4 520.0 L133.2 506.8 L138.4 493.7 L143.8 480.7 L149.5 467.9 L155.6 455.2 L161.9 442.6 L168.6 430.2 L175.5 417.9 L182.7 405.8 L190.2 393.8 L198.0 382.1 L206.1 370.5 L214.4 359.0 L223.0 347.8 L231.9 336.8 L241.0 326.0 L250.3 315.4 L260.0 305.0 L269.8 294.8 L279.9 284.9 L290.2 275.2 L300.8 265.7 L311.6 256.5 L322.6 247.5 L333.8 238.8 L345.2 230.4 L356.8 222.2 L368.6 214.3 L380.6 206.6 L392.8 199.2 L405.1 192.2 L417.6 185.4 L430.3 178.8 L443.1 172.6 L456.1 166.7 L469.2 161.1 L482.5 155.8 L495.8 150.8 L509.3 146.1 L522.9 141.7 L536.6 137.7 L550.4 133.9 L564.3 130.5 L578.3 127.4 L592.3 124.6 L606.5 122.2 L620.6 120.1 L634.8 118.3 L649.1 116.8 L663.4 115.7 L677.7 114.9 L692.1 114.4 L706.5 114.3 L720.8 114.5 L735.2 115.1 L749.5 115.9 L763.9 117.2 L778.2 118.7 L792.5 120.6 L806.7 122.8 L820.9 125.3 L835.0 128.2 L849.1 131.4 L863.1 135.0 L877.0 138.8 L890.8 143.0 L904.5 147.5 L918.1 152.4 L931.7 157.5 L945.0 163.0 L958.3 168.7 L971.4 174.8 L984.4 181.2 L997.3 187.9 L1010.0 194.9 L1022.5 202.2 L1034.9 209.8 L1047.1 217.7 L1059.1 225.8 L1070.9 234.3 L1082.5 243.0 L1093.9 252.0 L1105.2 261.2 L1116.2 270.8 L1126.9 280.5 L1137.5 290.6 L1147.8 300.8 L1157.9 311.4 L1167.7 322.1 L1177.3 333.1 L1186.7 344.3 L1195.7 355.7 L1204.5 367.4 L1213.1 379.2 L1221.3 391.3 L1229.3 403.5 L1237.0 416.0 L1244.4 428.6 L1251.6 441.4 L1258.4 454.3 L1264.9 467.4 L1271.1 480.7 L1277.0 494.1 L1282.6 507.7 L1287.9 521.4 L1292.9 535.2 L1297.5 549.1 L1301.8 563.1 L1305.8 577.3 L1309.5 591.5 L1312.8 605.9 L1315.8 620.3 L1318.5 634.7 L1320.8 649.3 L1322.8 663.9 L1324.5 678.5 L1325.8 693.2 L1326.7 707.9 L1327.3 722.7 L1327.6 737.4 L1327.6 752.2 L1327.2 766.9 L1326.4 781.7 L1325.3 796.4 L1323.9 811.2 L1322.1 825.9 L1320.0 840.5 L1317.5 855.1 L1314.7 869.6 L1311.5 884.1 L1308.0 898.5 L1304.2 912.9 L1300.1 927.1 L1295.6 941.3 L1290.8 955.3 L1285.6 969.2 L1280.1 983.1 L1274.4 996.8 L1268.2 1010.3 L1261.8 1023.7 L1255.1 1037.0 L1248.0 1050.1 L1240.6 1063.1 L1233.0 1075.8 L1225.0 1088.4 L1216.8 1100.9 L1208.2 1113.1 L1199.4 1125.1 L1190.3 1137.0 L1180.9 1148.6 L1171.2 1160.0 L1161.3 1171.2 L1151.1 1182.1 L1140.7 1192.8 L1130.0 1203.3 L1119.0 1213.5 L1107.8 1223.5 L1096.4 1233.2 L1084.8 1242.6 L1072.9 1251.8 L1060.8 1260.7 L1048.5 1269.3 L1036.0 1277.6 L1023.4 1285.7 L1010.5 1293.4 L997.4 1300.9 L984.2 1308.0 L970.8 1314.8 L957.2 1321.4 L943.5 1327.6 L929.6 1333.5 L915.6 1339.0 L901.5 1344.3 L887.2 1349.2 L872.9 1353.8 L858.4 1358.0 L843.8 1361.9 L829.1 1365.5 L814.4 1368.7 L799.5 1371.6 L784.6 1374.2 L769.7 1376.4 L754.6 1378.2 L739.6 1379.7 L724.5 1380.9 L709.3 1381.6 L694.2 1382.1 L679.0 1382.2 L663.9 1381.9 L648.7 1381.3 L633.6 1380.3 L618.4 1379.0 L603.3 1377.3 L588.3 1375.3 L573.3 1372.9 L558.3 1370.2 L543.4 1367.1 L528.6 1363.7 L513.8 1359.9 L499.1 1355.8 L484.6 1351.3 L470.1 1346.5 L455.7 1341.4 L441.5 1335.9 L427.4 1330.1 L413.4 1324.0 L399.5 1317.5 L385.9 1310.8 L372.3 1303.7 L358.9 1296.2 L345.7 1288.5 L332.7 1280.5 L319.9 1272.1 L307.2 1263.5 L294.8 1254.5 L282.6 1245.3 L270.5 1235.8 L258.7 1226.0 L247.1 1215.9 L235.8 1205.6 L224.7 1195.0 L213.8 1184.1 L203.2 1173.0 L192.9 1161.6 L182.8 1150.0 L173.0 1138.1 L163.5 1126.0 L154.2 1113.7 L145.2 1101.2 L136.5 1088.5 L128.2 1075.5 L120.1 1062.4 L112.3 1049.1 L104.8 1035.6 L97.7 1021.9 L90.8 1008.0 L84.3 994.0 L78.1 979.9 L72.2 965.6 L66.7 951.1 L61.5 936.5 L56.7 921.8 L52.2 907.0 L48.0 892.1 L44.2 877.1 L40.7 862.0 L37.6 846.8 L34.8 831.5 L32.4 816.2 L30.3 800.8 L28.6 785.3 L27.3 769.8 L26.3 754.3 L25.7 738.8 L25.5 723.2 L25.6 707.7 L26.1 692.1 L26.9 676.5 L28.1 661.0 L29.6 645.5 L31.6 630.0 L33.9 614.6 L36.5 599.2 L39.5 583.9 L42.9 568.6 L46.6 553.4 L50.6 538.4 L55.1 523.4 L59.8 508.5 L64.9 493.7 L70.4 479.0 L76.2 464.5 L82.4 450.0 L88.8 435.8 L95.7 421.7 L102.8 407.7 L110.3 393.9 L118.1 380.3 L126.2 366.8 L134.6 353.6 L143.3 340.5 L152.4 327.6 L161.7 315.0 L171.3 302.6 L181.3 290.4 L191.5 278.4 L202.0 266.6 L212.7 255.1 L223.8 243.9 L235.1 232.9 L246.6 222.1 L258.4 211.7 L270.5 201.5 L282.8 191.6 L295.3 181.9 L308.1 172.6 L321.0 163.6 L334.2 154.8 L347.6 146.4 L361.2 138.3 L374.9 130.5 L388.9 123.0 L403.0 115.8 L417.3 109.0 L431.8 102.5 L446.4 96.3 L461.2 90.5 L476.1 85.0 L491.1 79.9 L506.2 75.1 L521.5 70.7 L536.9 66.6 L552.3 62.9 L567.9 59.5 L583.5 56.5 L599.2 53.9 L615.0 51.6"/>
<path d="M680.9 468.2 L677.1 389.7"/>
<path d="M857.5 515.4 L905.0 452.8"/>
<path d="M965.2 669.5 L1041.9 652.1"/>
<path d="M948.1 861.9 L1018.0 897.8"/>
<path d="M807.4 1001.8 L837.9 1074.3"/>
<path d="M604.5 1018.9 L581.3 1094.0"/>
<path d="M434.0 898.4 L367.9 940.9"/>
<path d="M379.7 691.4 L301.7 681.5"/>
<path d="M473.5 493.2 L420.1 435.5"/>
<path d="M677.6 399.7 L673.7 321.2"/>
<path d="M899.0 460.8 L946.5 398.2"/>
<path d="M1032.1 654.3 L1108.8 636.9"/>
<path d="M1009.1 893.3 L1079.0 929.2"/>
<path d="M834.0 1065.1 L864.4 1137.5"/>
<path d="M584.2 1084.4 L561.0 1159.5"/>
<path d="M376.3 935.5 L310.3 978.1"/>
<path d="M311.6 682.7 L233.6 672.9"/>
<path d="M426.9 442.9 L373.5 385.2"/>
<path d="M674.2 331.2 L670.4 252.7"/>
<path d="M940.4 406.2 L988.0 343.6"/>
<path d="M1099.0 639.1 L1175.7 621.7"/>
<path d="M1070.1 924.6 L1140.0 960.6"/>
<path d="M860.6 1128.3 L891.0 1200.8"/>
<path d="M563.9 1149.9 L540.7 1225.0"/>
<path d="M318.7 972.7 L252.6 1015.2"/>
<path d="M243.6 674.1 L165.6 664.3"/>
<path d="M380.3 392.5 L326.9 334.8"/>
<path d="M670.9 262.7 L667.1 184.2"/>
<path d="M981.9 351.5 L1029.5 288.9"/>
<path d="M1165.9 623.9 L1242.6 606.5"/>
<path d="M1131.1 956.0 L1201.0 992.0"/>
<path d="M887.1 1191.6 L917.6 1264.0"/>
<path d="M543.6 1215.5 L520.4 1290.5"/>
<path d="M261.0 1009.8 L194.9 1052.4"/>
<path d="M175.5 665.5 L97.5 655.6"/>
<path d="M333.7 342.2 L280.3 284.5"/>
<path d="M667.6 194.2 L663.7 115.7"/>
<path d="M1023.4 296.9 L1071.0 234.3"/>
<path d="M1232.8 608.7 L1309.5 591.4"/>
<path d="M1192.1 987.4 L1262.0 1023.3"/>
<path d="M913.7 1254.8 L944.2 1327.3"/>
<path d="M523.3 1281.0 L500.1 1356.1"/>
<path d="M203.3 1047.0 L137.2 1089.5"/>
<path d="M107.5 656.9 L29.5 647.0"/>
<path d="M564.3 502.0 L558.4 491.6"/>
<path d="M619.9 475.9 L616.6 464.4"/>
<path d="M680.7 463.2 L680.1 451.3"/>
<path d="M743.2 465.0 L745.4 453.2"/>
<path d="M804.3 481.2 L809.2 470.3"/>
<path d="M860.5 511.5 L867.8 501.9"/>
<path d="M908.6 554.2 L917.9 546.6"/>
<path d="M945.9 607.4 L956.7 602.2"/>
<path d="M970.1 668.4 L981.8 665.7"/>
<path d="M979.6 733.8 L991.6 733.9"/>
<path d="M973.8 800.3 L985.4 803.2"/>
<path d="M952.5 864.2 L963.2 869.7"/>
<path d="M916.8 921.9 L925.9 929.7"/>
<path d="M868.3 970.3 L875.3 980.0"/>
<path d="M809.4 1006.4 L814.0 1017.5"/>
<path d="M743.2 1028.2 L745.1 1040.0"/>
<path d="M673.1 1034.1 L672.3 1046.1"/>
<path d="M603.1 1023.7 L599.5 1035.1"/>
<path d="M536.7 997.1 L530.6 1007.4"/>
<path d="M477.9 955.5 L469.6 964.2"/>
<path d="M429.8 901.1 L419.7 907.6"/>
<path d="M395.3 836.5 L384.0 840.5"/>
<path d="M376.5 765.1 L364.6 766.4"/>
<path d="M374.7 690.7 L362.8 689.2"/>
<path d="M390.2 617.4 L379.0 613.2"/>
<path d="M422.5 549.0 L412.6 542.3"/>
<path d="M470.1 489.5 L462.0 480.7"/>
<path d="M530.6 442.3 L524.7 431.8"/>
<path d="M600.9 410.0 L597.6 398.5"/>
<path d="M677.3 394.7 L676.7 382.7"/>
<path d="M755.8 397.5 L758.0 385.7"/>
<path d="M832.1 418.5 L836.9 407.5"/>
<path d="M902.0 456.8 L909.2 447.3"/>
<path d="M961.6 510.6 L970.8 503.0"/>
<path d="M1007.5 577.2 L1018.3 572.0"/>
<path d="M1037.0 653.2 L1048.7 650.5"/>
<path d="M1048.2 734.5 L1060.2 734.6"/>
<path d="M1040.4 816.8 L1052.0 819.6"/>
<path d="M1013.5 895.6 L1024.2 901.0"/>
<path d="M968.9 966.5 L978.0 974.3"/>
<path d="M908.7 1025.7 L915.8 1035.4"/>
<path d="M835.9 1069.7 L840.6 1080.8"/>
<path d="M754.4 1095.9 L756.4 1107.7"/>
<path d="M668.5 1102.6 L667.7 1114.6"/>
<path d="M582.8 1089.2 L579.2 1100.7"/>
<path d="M501.9 1056.1 L495.8 1066.5"/>
<path d="M430.3 1005.0 L422.0 1013.6"/>
<path d="M372.1 938.2 L362.0 944.7"/>
<path d="M330.6 859.3 L319.3 863.3"/>
<path d="M308.3 772.4 L296.4 773.7"/>
<path d="M306.7 682.1 L294.8 680.6"/>
<path d="M326.0 593.3 L314.8 589.1"/>
<path d="M365.6 510.8 L355.6 504.1"/>
<path d="M423.5 439.2 L415.4 430.4"/>
<path d="M496.9 382.5 L491.0 372.1"/>
<path d="M581.9 344.1 L578.5 332.6"/>
<path d="M674.0 326.2 L673.4 314.2"/>
<path d="M768.4 330.1 L770.6 318.3"/>
<path d="M859.9 355.8 L864.7 344.8"/>
<path d="M943.5 402.2 L950.7 392.6"/>
<path d="M1014.5 467.0 L1023.8 459.4"/>
<path d="M1069.1 547.0 L1079.8 541.8"/>
<path d="M1103.9 638.0 L1115.6 635.4"/>
<path d="M1116.8 735.1 L1128.8 735.2"/>
<path d="M1107.0 833.2 L1118.6 836.1"/>
<path d="M1074.5 926.9 L1085.2 932.4"/>
<path d="M1021.0 1011.1 L1030.2 1018.9"/>
<path d="M949.1 1081.1 L956.2 1090.8"/>
<path d="M862.5 1132.9 L867.2 1144.0"/>
<path d="M765.7 1163.5 L767.7 1175.4"/>
<path d="M663.9 1171.0 L663.1 1183.0"/>
<path d="M562.5 1154.7 L558.9 1166.2"/>
<path d="M467.0 1115.2 L460.9 1125.6"/>
<path d="M382.8 1054.4 L374.5 1063.1"/>
<path d="M314.5 975.4 L304.4 981.9"/>
<path d="M266.0 882.2 L254.6 886.2"/>
<path d="M240.1 779.7 L228.2 781.0"/>
<path d="M238.6 673.5 L226.7 672.0"/>
<path d="M261.8 569.2 L250.5 565.0"/>
<path d="M308.6 472.6 L298.7 465.9"/>
<path d="M376.9 388.9 L368.8 380.0"/>
<path d="M463.1 322.8 L457.2 312.4"/>
<path d="M562.8 278.2 L559.5 266.7"/>
<path d="M670.7 257.7 L670.1 245.7"/>
<path d="M780.9 262.6 L783.1 250.8"/>
<path d="M887.6 293.1 L892.5 282.1"/>
<path d="M985.0 347.6 L992.2 338.0"/>
<path d="M1067.5 423.5 L1076.8 415.8"/>
<path d="M1130.7 516.8 L1141.4 511.6"/>
<path d="M1170.8 622.8 L1182.5 620.2"/>
<path d="M1185.4 735.8 L1197.4 735.9"/>
<path d="M1173.6 849.7 L1185.2 852.6"/>
<path d="M1135.5 958.3 L1146.2 963.8"/>
<path d="M1073.2 1055.7 L1082.3 1063.5"/>
<path d="M989.6 1136.5 L996.6 1146.2"/>
<path d="M889.1 1196.2 L893.7 1207.2"/>
<path d="M777.0 1231.2 L778.9 1243.0"/>
<path d="M659.2 1239.5 L658.4 1251.4"/>
<path d="M542.2 1220.2 L538.6 1231.7"/>
<path d="M432.2 1174.3 L426.1 1184.6"/>
<path d="M335.2 1103.9 L326.9 1112.5"/>
<path d="M256.8 1012.5 L246.7 1019.0"/>
<path d="M201.3 905.0 L190.0 909.0"/>
<path d="M171.9 787.1 L160.0 788.3"/>
<path d="M170.5 664.9 L158.6 663.4"/>
<path d="M197.5 545.1 L186.3 540.9"/>
<path d="M251.7 434.3 L241.7 427.6"/>
<path d="M330.3 338.5 L322.2 329.7"/>
<path d="M429.4 263.1 L423.5 252.6"/>
<path d="M543.8 212.3 L540.4 200.8"/>
<path d="M667.3 189.2 L666.7 177.2"/>
<path d="M793.5 195.2 L795.7 183.4"/>
<path d="M915.4 230.3 L920.3 219.4"/>
<path d="M1026.4 292.9 L1033.7 283.4"/>
<path d="M1120.5 379.9 L1129.8 372.2"/>
<path d="M1192.3 486.6 L1203.0 481.4"/>
<path d="M1237.7 607.6 L1249.4 605.0"/>
<path d="M1254.0 736.4 L1266.0 736.6"/>
<path d="M1240.2 866.1 L1251.8 869.0"/>
<path d="M1196.5 989.7 L1207.2 995.2"/>
<path d="M1125.3 1100.3 L1134.4 1108.1"/>
<path d="M1030.0 1192.0 L1037.1 1201.6"/>
<path d="M915.6 1259.4 L920.3 1270.5"/>
<path d="M788.2 1298.9 L790.2 1310.7"/>
<path d="M654.6 1307.9 L653.8 1319.9"/>
<path d="M521.9 1285.8 L518.3 1297.2"/>
<path d="M397.3 1233.4 L391.2 1243.7"/>
<path d="M287.7 1153.3 L279.4 1162.0"/>
<path d="M199.1 1049.7 L189.0 1056.2"/>
<path d="M136.6 927.9 L125.3 931.9"/>
<path d="M103.7 794.4 L91.8 795.6"/>
<path d="M102.5 656.3 L90.6 654.8"/>
<path d="M133.3 521.1 L122.1 516.8"/>
<path d="M194.7 396.1 L184.8 389.4"/>
<path d="M283.7 288.2 L275.6 279.4"/>
<path d="M395.7 203.3 L389.8 192.9"/>
<path d="M524.7 146.4 L521.4 134.9"/>
</g>
<g fill="none" stroke="#000" stroke-width="1.2">
<path d="M553.1 503.3 L558.4 499.9 L563.6 496.6 L569.0 493.4 L574.5 490.3 L580.0 487.4 L585.6 484.6 L591.3 481.9 L597.0 479.3 L602.8 476.9 L608.7 474.6 L614.6 472.5 L620.6 470.5 L626.6 468.6 L632.6 466.8 L638.8 465.2 L644.9 463.8 L651.1 462.5 L657.3 461.3 L663.6 460.3 L669.9 459.4 L676.2 458.7 L682.5 458.1 L688.9 457.6 L695.2 457.3 L701.6 457.2 L708.0 457.2 L714.4 457.4 L720.8 457.7 L727.2 458.1 L733.6 458.7 L739.9 459.5 L746.3 460.4 L752.6 461.4 L758.9 462.6 L765.2 464.0 L771.5 465.4 L777.7 467.1 L783.9 468.9 L790.1 470.8 L796.2 472.9 L802.3 475.1 L808.3 477.5 L814.3 480.0 L820.3 482.6 L826.1 485.4 L831.9 488.3 L837.7 491.4 L843.3 494.6 L848.9 497.9 L854.5 501.4 L859.9 505.0 L865.3 508.7 L870.6 512.6 L875.8 516.6 L880.9 520.7 L885.9 524.9 L890.8 529.3 L895.7 533.7 L900.4 538.3 L905.0 543.0 L909.5 547.8 L913.9 552.7 L918.2 557.7 L922.4 562.8 L926.5 568.1 L930.4 573.4 L934.2 578.8 L937.9 584.3 L941.5 589.9 L944.9 595.6 L948.2 601.4 L951.4 607.2 L954.5 613.1 L957.4 619.1 L960.1 625.2 L962.8 631.3 L965.3 637.5 L967.6 643.8 L969.8 650.1 L971.9 656.5 L973.8 663.0 L975.5 669.4 L977.1 676.0 L978.6 682.5 L979.9 689.1 L981.1 695.8 L982.0 702.4 L982.9 709.1 L983.6 715.9 L984.1 722.6 L984.5 729.4 L984.7 736.1 L984.8 742.9 L984.7 749.7 L984.4 756.5 L984.0 763.3 L983.4 770.1 L982.7 776.8 L981.8 783.6 L980.7 790.3 L979.5 797.0 L978.2 803.7 L976.6 810.4 L975.0 817.0 L973.1 823.6 L971.1 830.2 L969.0 836.7 L966.7 843.2 L964.2 849.6 L961.6 856.0 L958.9 862.3 L956.0 868.6 L952.9 874.7 L949.7 880.9 L946.4 886.9 L942.9 892.9 L939.3 898.8 L935.5 904.6 L931.6 910.3 L927.6 916.0 L923.4 921.5 L919.1 927.0 L914.7 932.4 L910.1 937.6 L905.5 942.8 L900.7 947.8 L895.7 952.8 L890.7 957.6 L885.5 962.3 L880.2 966.9 L874.9 971.4 L869.4 975.8 L863.8 980.0 L858.1 984.1 L852.3 988.1 L846.4 991.9 L840.4 995.6 L834.3 999.2 L828.1 1002.6 L821.9 1005.9 L815.6 1009.0 L809.2 1012.0 L802.7 1014.9 L796.1 1017.6 L789.5 1020.1 L782.8 1022.5 L776.1 1024.8 L769.3 1026.9 L762.5 1028.8 L755.6 1030.5 L748.6 1032.2 L741.7 1033.6 L734.6 1034.9 L727.6 1036.0 L720.5 1037.0 L713.4 1037.8 L706.3 1038.4 L699.1 1038.9 L692.0 1039.2 L684.8 1039.3 L677.6 1039.2 L670.4 1039.0 L663.2 1038.7 L656.1 1038.1 L648.9 1037.4 L641.7 1036.5 L634.6 1035.5 L627.5 1034.3 L620.4 1032.9 L613.3 1031.4 L606.3 1029.7 L599.3 1027.8 L592.3 1025.8 L585.4 1023.6 L578.5 1021.2 L571.7 1018.7 L564.9 1016.0 L558.2 1013.1 L551.6 1010.1 L545.0 1007.0 L538.5 1003.7 L532.1 1000.2 L525.7 996.6 L519.4 992.8 L513.3 988.9 L507.2 984.8 L501.1 980.6 L495.2 976.3 L489.4 971.8 L483.7 967.1 L478.1 962.4 L472.6 957.5 L467.2 952.5 L461.9 947.3 L456.8 942.0 L451.7 936.6 L446.8 931.1 L442.0 925.4 L437.4 919.7 L432.8 913.8 L428.5 907.8 L424.2 901.8 L420.1 895.6 L416.1 889.3 L412.3 882.9 L408.6 876.4 L405.1 869.9 L401.7 863.2 L398.5 856.5 L395.4 849.7 L392.5 842.8 L389.7 835.8 L387.1 828.8 L384.7 821.7 L382.4 814.6 L380.3 807.4 L378.4 800.1 L376.6 792.8 L375.0 785.4 L373.6 778.0 L372.3 770.6 L371.2 763.2 L370.3 755.7 L369.6 748.1 L369.0 740.6 L368.6 733.0 L368.4 725.5 L368.4 717.9 L368.5 710.3 L368.8 702.7 L369.3 695.2 L370.0 687.6 L370.9 680.0 L371.9 672.5 L373.1 665.0 L374.5 657.5 L376.0 650.0 L377.7 642.5 L379.6 635.1 L381.7 627.8 L384.0 620.5 L386.4 613.2 L389.0 606.0 L391.7 598.8 L394.7 591.7 L397.8 584.7 L401.0 577.7 L404.5 570.8 L408.0 564.0 L411.8 557.3 L415.7 550.6 L419.8 544.1 L424.0 537.6 L428.4 531.2 L432.9 524.9 L437.6 518.8 L442.4 512.7 L447.3 506.7 L452.4 500.9 L457.7 495.2 L463.1 489.5 L468.6 484.1 L474.2 478.7 L480.0 473.5 L485.9 468.4 L491.9 463.4 L498.0 458.6 L504.3 453.9 L510.7 449.3 L517.1 444.9 L523.7 440.7 L530.4 436.6 L537.2 432.6 L544.0 428.8 L551.0 425.2 L558.1 421.7 L565.2 418.4 L572.4 415.3 L579.7 412.3 L587.1 409.5 L594.5 406.9 L602.0 404.4 L609.6 402.1 L617.2 400.0 L624.9 398.1 L632.6 396.3 L640.4 394.7 L648.2 393.3 L656.0 392.1 L663.9 391.1 L671.8 390.2 L679.7 389.5 L687.7 389.0 L695.6 388.7 L703.6 388.6 L711.6 388.7 L719.6 389.0 L727.6 389.4 L735.5 390.0 L743.5 390.8 L751.4 391.8 L759.4 393.0 L767.3 394.4 L775.1 395.9 L783.0 397.7 L790.8 399.6 L798.5 401.7 L806.3 404.0 L813.9 406.5 L821.6 409.1 L829.1 412.0 L836.6 415.0 L844.0 418.1 L851.4 421.5 L858.7 425.0 L865.9 428.7 L873.0 432.6 L880.0 436.6 L887.0 440.8 L893.8 445.2 L900.6 449.7 L907.2 454.4 L913.7 459.3 L920.2 464.3 L926.5 469.4 L932.7 474.7 L938.8 480.2 L944.7 485.8 L950.6 491.5 L956.2 497.4 L961.8 503.4 L967.2 509.5 L972.5 515.8 L977.7 522.2 L982.6 528.7 L987.5 535.3 L992.2 542.1 L996.7 549.0 L1001.1 555.9 L1005.3 563.0 L1009.4 570.2 L1013.2 577.5 L1017.0 584.8 L1020.5 592.3 L1023.9 599.9 L1027.1 607.5 L1030.1 615.2 L1033.0 623.0 L1035.6 630.8 L1038.1 638.8 L1040.4 646.7 L1042.5 654.8 L1044.5 662.9 L1046.2 671.0 L1047.8 679.2 L1049.1 687.4 L1050.3 695.7 L1051.3 703.9 L1052.1 712.3 L1052.7 720.6 L1053.1 729.0 L1053.3 737.3 L1053.3 745.7 L1053.1 754.1 L1052.7 762.5 L1052.2 770.8 L1051.4 779.2 L1050.4 787.5 L1049.3 795.9 L1047.9 804.2 L1046.4 812.5 L1044.6 820.7 L1042.7 828.9 L1040.6 837.1 L1038.2 845.2 L1035.7 853.3 L1033.0 861.3 L1030.1 869.3 L1027.1 877.1 L1023.8 885.0 L1020.4 892.7 L1016.7 900.4 L1012.9 908.0 L1009.0 915.5 L1004.8 922.9 L1000.5 930.2 L996.0 937.5 L991.3 944.6 L986.4 951.6 L981.4 958.5 L976.2 965.3 L970.9 972.0 L965.4 978.6 L959.8 985.0 L954.0 991.3 L948.0 997.5 L941.9 1003.5 L935.7 1009.4 L929.3 1015.1 L922.8 1020.7 L916.1 1026.2 L909.4 1031.5 L902.5 1036.6 L895.4 1041.6 L888.3 1046.5 L881.0 1051.1 L873.7 1055.6 L866.2 1059.9 L858.6 1064.1 L850.9 1068.1 L843.1 1071.9 L835.2 1075.5 L827.3 1078.9 L819.2 1082.2 L811.1 1085.2 L802.9 1088.1 L794.6 1090.8 L786.3 1093.3 L777.9 1095.6 L769.5 1097.7 L761.0 1099.6 L752.4 1101.4 L743.8 1102.9 L735.2 1104.2 L726.5 1105.3 L717.8 1106.2 L709.1 1106.9 L700.3 1107.4 L691.6 1107.8 L682.8 1107.9 L674.0 1107.8 L665.2 1107.4 L656.5 1106.9 L647.7 1106.2 L638.9 1105.3 L630.2 1104.2 L621.5 1102.8 L612.8 1101.3 L604.2 1099.6 L595.5 1097.6 L587.0 1095.5 L578.4 1093.2 L570.0 1090.6 L561.6 1087.9 L553.2 1085.0 L544.9 1081.8 L536.7 1078.5 L528.5 1075.0 L520.4 1071.3 L512.5 1067.4 L504.6 1063.3 L496.7 1059.0 L489.0 1054.5 L481.4 1049.9 L473.9 1045.1 L466.5 1040.1 L459.2 1034.9 L452.1 1029.6 L445.0 1024.1 L438.1 1018.4 L431.3 1012.6 L424.7 1006.6 L418.1 1000.4 L411.8 994.1 L405.5 987.6 L399.4 981.0 L393.5 974.3 L387.7 967.4 L382.1 960.3 L376.7 953.2 L371.4 945.9 L366.2 938.5 L361.3 930.9 L356.5 923.2 L351.9 915.5 L347.5 907.6 L343.2 899.6 L339.2 891.5 L335.3 883.3 L331.6 875.0 L328.1 866.6 L324.8 858.2 L321.7 849.6 L318.8 841.0 L316.1 832.3 L313.6 823.6 L311.3 814.8 L309.3 805.9 L307.4 797.0 L305.7 788.0 L304.2 779.0 L303.0 769.9 L301.9 760.9 L301.1 751.7 L300.4 742.6 L300.0 733.5 L299.8 724.3 L299.8 715.1 L300.1 705.9 L300.5 696.8 L301.1 687.6 L302.0 678.4 L303.1 669.3 L304.4 660.2 L305.9 651.1 L307.6 642.0 L309.5 633.0 L311.7 624.0 L314.0 615.1 L316.6 606.2 L319.4 597.4 L322.3 588.6 L325.5 579.9 L328.9 571.3 L332.5 562.7 L336.3 554.3 L340.3 545.9 L344.5 537.6 L348.8 529.4 L353.4 521.3 L358.2 513.3 L363.1 505.4 L368.3 497.6 L373.6 489.9 L379.1 482.4 L384.7 475.0 L390.6 467.7 L396.6 460.5 L402.8 453.5 L409.2 446.7 L415.7 439.9 L422.4 433.4 L429.2 426.9 L436.2 420.7 L443.3 414.6 L450.6 408.6 L458.0 402.8 L465.6 397.2 L473.3 391.8 L481.1 386.5 L489.0 381.5 L497.1 376.6 L505.3 371.9 L513.6 367.4 L522.0 363.0 L530.5 358.9 L539.1 355.0 L547.8 351.3 L556.6 347.7 L565.5 344.4 L574.4 341.3 L583.5 338.4 L592.6 335.7 L601.8 333.2 L611.0 330.9 L620.3 328.8 L629.6 327.0 L639.0 325.3 L648.4 323.9 L657.9 322.7 L667.4 321.7 L676.9 321.0 L686.5 320.5 L696.0 320.1 L705.6 320.1 L715.2 320.2 L724.7 320.5 L734.3 321.1 L743.9 321.9 L753.4 323.0 L762.9 324.2 L772.4 325.7 L781.9 327.4 L791.3 329.3 L800.7 331.4 L810.1 333.8 L819.4 336.4 L828.6 339.1 L837.8 342.1 L846.9 345.4 L855.9 348.8 L864.9 352.5 L873.7 356.3 L882.5 360.4 L891.2 364.6 L899.8 369.1 L908.3 373.8 L916.7 378.7 L925.0 383.7 L933.2 389.0 L941.2 394.5 L949.1 400.1 L956.9 406.0 L964.6 412.0 L972.1 418.2 L979.5 424.5 L986.7 431.1 L993.8 437.8 L1000.7 444.7 L1007.5 451.8 L1014.1 459.0 L1020.5 466.3 L1026.8 473.9 L1032.9 481.5 L1038.8 489.4 L1044.6 497.3 L1050.1 505.4 L1055.5 513.6 L1060.7 522.0 L1065.7 530.5 L1070.5 539.0 L1075.1 547.8 L1079.5 556.6 L1083.7 565.5 L1087.6 574.5 L1091.4 583.6 L1095.0 592.9 L1098.3 602.2 L1101.5 611.5 L1104.4 621.0 L1107.1 630.5 L1109.6 640.1 L1111.8 649.8 L1113.8 659.5 L1115.6 669.2 L1117.2 679.0 L1118.6 688.9 L1119.7 698.8 L1120.6 708.7 L1121.2 718.6 L1121.7 728.5 L1121.9 738.5 L1121.8 748.5 L1121.6 758.4 L1121.1 768.4 L1120.3 778.4 L1119.4 788.3 L1118.2 798.3 L1116.8 808.2 L1115.1 818.0 L1113.2 827.9 L1111.1 837.7 L1108.7 847.4 L1106.2 857.1 L1103.4 866.8 L1100.3 876.4 L1097.1 885.9 L1093.6 895.3 L1089.9 904.7 L1086.0 914.0 L1081.9 923.1 L1077.5 932.2 L1072.9 941.2 L1068.2 950.1 L1063.2 958.9 L1058.0 967.6 L1052.6 976.2 L1047.0 984.6 L1041.2 992.9 L1035.2 1001.1 L1029.1 1009.1 L1022.7 1017.0 L1016.1 1024.7 L1009.4 1032.3 L1002.5 1039.8 L995.4 1047.1 L988.1 1054.2 L980.7 1061.2 L973.1 1067.9 L965.4 1074.5 L957.4 1081.0 L949.4 1087.2 L941.2 1093.3 L932.8 1099.2 L924.3 1104.8 L915.7 1110.3 L906.9 1115.6 L898.0 1120.7 L889.0 1125.6 L879.9 1130.2 L870.7 1134.7 L861.3 1138.9 L851.9 1143.0 L842.3 1146.8 L832.7 1150.4 L823.0 1153.7 L813.2 1156.9 L803.3 1159.8 L793.4 1162.5 L783.3 1164.9 L773.3 1167.1 L763.1 1169.1 L753.0 1170.9 L742.7 1172.4 L732.5 1173.6 L722.2 1174.7 L711.9 1175.5 L701.5 1176.0 L691.2 1176.4 L680.8 1176.4 L670.4 1176.3 L660.1 1175.9 L649.7 1175.2 L639.4 1174.3 L629.0 1173.2 L618.7 1171.8 L608.4 1170.2 L598.2 1168.3 L588.0 1166.2 L577.8 1163.9 L567.7 1161.3 L557.6 1158.5 L547.6 1155.5 L537.7 1152.2 L527.9 1148.7 L518.1 1145.0 L508.4 1141.0 L498.8 1136.8 L489.3 1132.4 L479.9 1127.8 L470.6 1122.9 L461.4 1117.8 L452.4 1112.5 L443.4 1107.0 L434.6 1101.3 L425.9 1095.4 L417.3 1089.2 L408.9 1082.9 L400.6 1076.4 L392.5 1069.7 L384.5 1062.7 L376.7 1055.6 L369.1 1048.4 L361.6 1040.9 L354.3 1033.2 L347.2 1025.4 L340.2 1017.4 L333.4 1009.3 L326.9 1001.0 L320.5 992.5 L314.3 983.9 L308.3 975.2 L302.5 966.2 L296.9 957.2 L291.5 948.0 L286.4 938.7 L281.4 929.3 L276.7 919.8 L272.2 910.1 L267.9 900.3 L263.8 890.5 L260.0 880.5 L256.4 870.5 L253.0 860.3 L249.9 850.1 L247.0 839.8 L244.3 829.4 L241.9 819.0 L239.7 808.5 L237.8 798.0 L236.1 787.4 L234.7 776.7 L233.5 766.0 L232.6 755.3 L231.9 744.6 L231.4 733.9 L231.2 723.1 L231.3 712.3 L231.6 701.6 L232.2 690.8 L233.0 680.0 L234.0 669.3 L235.3 658.6 L236.9 647.9 L238.7 637.2 L240.8 626.6 L243.1 616.0 L245.6 605.5 L248.4 595.0 L251.5 584.6 L254.8 574.3 L258.3 564.0 L262.1 553.9 L266.1 543.8 L270.3 533.8 L274.8 523.8 L279.5 514.0 L284.5 504.3 L289.6 494.7 L295.0 485.3 L300.6 475.9 L306.5 466.7 L312.5 457.6 L318.8 448.7 L325.2 439.9 L331.9 431.2 L338.8 422.7 L345.9 414.4 L353.2 406.2 L360.7 398.2 L368.3 390.3 L376.2 382.7 L384.2 375.2 L392.4 367.9 L400.8 360.8 L409.3 353.8 L418.0 347.1 L426.9 340.6 L435.9 334.3 L445.1 328.2 L454.4 322.3 L463.8 316.6 L473.4 311.1 L483.2 305.9 L493.0 300.9 L503.0 296.1 L513.0 291.5 L523.2 287.2 L533.5 283.1 L543.9 279.3 L554.4 275.7 L564.9 272.3 L575.6 269.2 L586.3 266.3 L597.1 263.7 L608.0 261.3 L618.9 259.2 L629.8 257.3 L640.9 255.7 L651.9 254.4 L663.0 253.3 L674.1 252.4 L685.3 251.9 L696.4 251.5 L707.6 251.5 L718.7 251.7 L729.9 252.1 L741.1 252.9 L752.2 253.8 L763.3 255.1 L774.4 256.6 L785.5 258.3 L796.5 260.4 L807.5 262.6 L818.5 265.2 L829.3 267.9 L840.2 271.0 L850.9 274.3 L861.6 277.8 L872.2 281.6 L882.7 285.7 L893.1 289.9 L903.4 294.5 L913.7 299.2 L923.8 304.3 L933.8 309.5 L943.6 315.0 L953.4 320.7 L963.0 326.6 L972.5 332.8 L981.8 339.2 L991.0 345.8 L1000.1 352.6 L1009.0 359.7 L1017.7 366.9 L1026.2 374.4 L1034.6 382.0 L1042.8 389.9 L1050.9 397.9 L1058.7 406.1 L1066.4 414.6 L1073.8 423.2 L1081.1 431.9 L1088.2 440.9 L1095.0 450.0 L1101.7 459.3 L1108.1 468.7 L1114.3 478.3 L1120.3 488.0 L1126.1 497.9 L1131.6 507.9 L1136.9 518.0 L1142.0 528.3 L1146.8 538.7 L1151.4 549.2 L1155.7 559.8 L1159.8 570.5 L1163.7 581.3 L1167.3 592.2 L1170.6 603.2 L1173.7 614.3 L1176.6 625.4 L1179.2 636.7 L1181.5 647.9 L1183.5 659.3 L1185.3 670.7 L1186.8 682.1 L1188.1 693.6 L1189.1 705.1 L1189.8 716.6 L1190.3 728.1 L1190.5 739.7 L1190.4 751.3 L1190.0 762.8 L1189.4 774.4 L1188.5 785.9 L1187.4 797.5 L1185.9 809.0 L1184.2 820.5 L1182.3 831.9 L1180.1 843.3 L1177.6 854.6 L1174.8 865.9 L1171.8 877.2 L1168.5 888.3 L1164.9 899.4 L1161.1 910.4 L1157.1 921.4 L1152.7 932.2 L1148.2 942.9 L1143.3 953.6 L1138.3 964.1 L1133.0 974.5 L1127.4 984.8 L1121.6 994.9 L1115.5 1005.0 L1109.3 1014.8 L1102.8 1024.6 L1096.0 1034.2 L1089.1 1043.6 L1081.9 1052.9 L1074.5 1062.0 L1066.9 1070.9 L1059.0 1079.7 L1051.0 1088.3 L1042.8 1096.7 L1034.3 1104.9 L1025.7 1112.9 L1016.9 1120.7 L1007.9 1128.4 L998.7 1135.8 L989.4 1143.0 L979.9 1149.9 L970.2 1156.7 L960.3 1163.2 L950.3 1169.5 L940.2 1175.6 L929.9 1181.4 L919.5 1187.0 L908.9 1192.4 L898.2 1197.5 L887.4 1202.4 L876.5 1207.0 L865.4 1211.4 L854.3 1215.5 L843.1 1219.3 L831.7 1222.9 L820.3 1226.2 L808.8 1229.3 L797.2 1232.1 L785.6 1234.6 L773.9 1236.9 L762.1 1238.8 L750.3 1240.6 L738.5 1242.0 L726.6 1243.1 L714.7 1244.0 L702.7 1244.6 L690.8 1245.0 L678.8 1245.0 L666.9 1244.8 L654.9 1244.3 L642.9 1243.5 L631.0 1242.4 L619.1 1241.1 L607.2 1239.4 L595.3 1237.5 L583.5 1235.4 L571.8 1232.9 L560.1 1230.2 L548.4 1227.2 L536.8 1223.9 L525.3 1220.4 L513.9 1216.5 L502.6 1212.5 L491.3 1208.1 L480.2 1203.5 L469.1 1198.6 L458.2 1193.5 L447.4 1188.1 L436.7 1182.5 L426.1 1176.6 L415.7 1170.5 L405.4 1164.1 L395.2 1157.5 L385.2 1150.6 L375.4 1143.5 L365.7 1136.2 L356.2 1128.7 L346.9 1120.9 L337.8 1112.9 L328.8 1104.7 L320.0 1096.3 L311.4 1087.7 L303.1 1078.9 L294.9 1069.8 L286.9 1060.6 L279.1 1051.2 L271.6 1041.6 L264.3 1031.9 L257.2 1022.0 L250.3 1011.9 L243.7 1001.6 L237.3 991.2 L231.2 980.6 L225.2 969.9 L219.6 959.0 L214.2 948.0 L209.0 936.9 L204.1 925.7 L199.5 914.3 L195.1 902.9 L191.0 891.3 L187.2 879.6 L183.6 867.9 L180.3 856.0 L177.3 844.1 L174.6 832.1 L172.1 820.0 L169.9 807.9 L168.0 795.7 L166.4 783.5 L165.1 771.2 L164.1 758.9 L163.3 746.6 L162.8 734.3 L162.6 721.9 L162.7 709.6 L163.1 697.2 L163.8 684.8 L164.8 672.5 L166.0 660.2 L167.6 647.9 L169.4 635.6 L171.5 623.4 L173.9 611.2 L176.6 599.1 L179.6 587.0 L182.8 575.0 L186.4 563.1 L190.2 551.2 L194.3 539.5 L198.6 527.8 L203.2 516.2 L208.1 504.8 L213.3 493.4 L218.7 482.2 L224.4 471.1 L230.4 460.1 L236.6 449.3 L243.1 438.6 L249.8 428.0 L256.8 417.6 L264.0 407.4 L271.4 397.3 L279.1 387.4 L287.0 377.7 L295.2 368.2 L303.5 358.8 L312.1 349.7 L320.9 340.7 L330.0 331.9 L339.2 323.4 L348.6 315.1 L358.2 306.9 L368.0 299.1 L378.0 291.4 L388.2 283.9 L398.5 276.7 L409.1 269.8 L419.7 263.1 L430.6 256.6 L441.6 250.4 L452.7 244.4 L464.0 238.7 L475.4 233.3 L487.0 228.1 L498.6 223.2 L510.4 218.5 L522.3 214.2 L534.3 210.1 L546.4 206.3 L558.6 202.7 L570.9 199.5 L583.2 196.5 L595.7 193.8 L608.1 191.5 L620.7 189.4 L633.3 187.6 L645.9 186.0 L658.6 184.8 L671.3 183.9 L684.0 183.3 L696.8 182.9 L709.6 182.9 L722.3 183.2 L735.1 183.7 L747.8 184.6 L760.6 185.8 L773.3 187.2 L786.0 189.0 L798.6 191.0 L811.2 193.3 L823.7 196.0 L836.2 198.9 L848.6 202.1 L861.0 205.6 L873.2 209.4 L885.4 213.5 L897.5 217.9 L909.5 222.5 L921.4 227.4 L933.1 232.6 L944.8 238.1 L956.3 243.9 L967.7 249.9 L979.0 256.2 L990.1 262.7 L1001.0 269.5 L1011.8 276.6 L1022.5 283.9 L1032.9 291.5 L1043.2 299.3 L1053.4 307.4 L1063.3 315.7 L1073.0 324.2 L1082.6 332.9 L1091.9 341.9 L1101.0 351.1 L1110.0 360.5 L1118.7 370.2 L1127.1 380.0 L1135.4 390.0 L1143.4 400.2 L1151.2 410.6 L1158.8 421.2 L1166.1 432.0 L1173.1 442.9 L1179.9 454.0 L1186.4 465.3 L1192.7 476.7 L1198.7 488.3 L1204.5 500.0 L1209.9 511.9 L1215.1 523.8 L1220.1 535.9 L1224.7 548.2 L1229.1 560.5 L1233.1 572.9 L1236.9 585.5 L1240.4 598.1 L1243.6 610.8 L1246.5 623.6 L1249.1 636.4 L1251.4 649.3 L1253.4 662.3 L1255.1 675.3 L1256.5 688.4 L1257.6 701.5 L1258.4 714.6 L1258.9 727.7 L1259.1 740.9 L1258.9 754.0 L1258.5 767.2 L1257.8 780.4 L1256.7 793.5 L1255.4 806.6 L1253.7 819.7 L1251.7 832.8 L1249.5 845.8 L1246.9 858.7 L1244.0 871.6 L1240.8 884.5 L1237.4 897.2 L1233.6 909.9 L1229.5 922.5 L1225.2 935.0 L1220.5 947.4 L1215.6 959.7 L1210.3 971.9 L1204.8 984.0 L1199.0 995.9 L1193.0 1007.7 L1186.6 1019.4 L1180.0 1030.9 L1173.1 1042.3 L1165.9 1053.5 L1158.5 1064.6 L1150.8 1075.4 L1142.9 1086.1 L1134.7 1096.7 L1126.3 1107.0 L1117.6 1117.1 L1108.7 1127.1 L1099.5 1136.8 L1090.1 1146.3 L1080.5 1155.6 L1070.7 1164.7 L1060.7 1173.5 L1050.5 1182.2 L1040.0 1190.5 L1029.4 1198.7 L1018.6 1206.6 L1007.6 1214.2 L996.4 1221.6 L985.0 1228.7 L973.5 1235.6 L961.8 1242.2 L949.9 1248.5 L937.9 1254.6 L925.8 1260.3 L913.5 1265.8 L901.1 1271.0 L888.5 1276.0 L875.9 1280.6 L863.1 1284.9 L850.3 1289.0 L837.3 1292.7 L824.2 1296.1 L811.1 1299.3 L797.9 1302.1 L784.6 1304.6 L771.3 1306.8 L757.9 1308.7 L744.5 1310.3 L731.0 1311.6 L717.5 1312.6 L704.0 1313.2 L690.4 1313.6 L676.8 1313.6 L663.3 1313.3 L649.7 1312.7 L636.2 1311.7 L622.7 1310.5 L609.2 1308.9 L595.7 1307.1 L582.3 1304.9 L568.9 1302.4 L555.6 1299.6 L542.3 1296.4 L529.1 1293.0 L516.0 1289.3 L503.0 1285.2 L490.1 1280.9 L477.2 1276.2 L464.5 1271.3 L451.9 1266.0 L439.4 1260.5 L427.0 1254.6 L414.8 1248.5 L402.7 1242.1 L390.8 1235.4 L379.0 1228.5 L367.4 1221.2 L355.9 1213.7 L344.6 1205.9 L333.5 1197.9 L322.6 1189.5 L311.9 1181.0 L301.3 1172.2 L291.0 1163.1 L280.9 1153.8 L271.0 1144.2 L261.3 1134.5 L251.8 1124.5 L242.6 1114.2 L233.6 1103.8 L224.9 1093.2 L216.3 1082.3 L208.1 1071.2 L200.1 1060.0 L192.4 1048.6 L184.9 1036.9 L177.7 1025.1 L170.8 1013.2 L164.1 1001.0 L157.8 988.8 L151.7 976.3 L145.9 963.7 L140.4 951.0 L135.2 938.2 L130.3 925.2 L125.7 912.1 L121.4 898.9 L117.4 885.6 L113.7 872.2 L110.3 858.8 L107.2 845.2 L104.5 831.6 L102.1 817.9 L100.0 804.1 L98.2 790.3 L96.7 776.4 L95.5 762.5 L94.7 748.6 L94.2 734.7 L94.1 720.7 L94.2 706.8 L94.7 692.8 L95.5 678.9 L96.6 664.9 L98.1 651.0 L99.8 637.1 L101.9 623.3 L104.3 609.5 L107.1 595.8 L110.1 582.1 L113.5 568.5 L117.2 555.0 L121.2 541.5 L125.6 528.2 L130.2 514.9 L135.2 501.7 L140.4 488.7 L146.0 475.8 L151.8 463.0 L158.0 450.4 L164.4 437.8 L171.2 425.5 L178.2 413.3 L185.5 401.2 L193.2 389.3 L201.0 377.6 L209.2 366.1 L217.6 354.8 L226.3 343.6 L235.3 332.7 L244.5 322.0 L253.9 311.5 L263.6 301.2 L273.6 291.1 L283.7 281.2 L294.2 271.6 L304.8 262.3 L315.7 253.1 L326.7 244.3 L338.0 235.7 L349.5 227.3 L361.2 219.2 L373.0 211.4 L385.1 203.9 L397.3 196.6 L409.7 189.6 L422.3 182.9 L435.0 176.5 L447.9 170.4 L460.9 164.6 L474.0 159.1 L487.3 153.9 L500.7 149.1 L514.2 144.5 L527.9 140.2 L541.6 136.3 L555.4 132.6 L569.3 129.3 L583.3 126.4 L597.4 123.7 L611.5 121.4 L625.7 119.4 L639.9 117.7"/>
<path d="M608.7 474.6 L595.9 436.1" stroke-width="1.8"/>
<path d="M669.9 459.4 L666.3 419.0" stroke-width="1.8"/>
<path d="M733.6 458.7 L738.2 427.2" stroke-width="1.8"/>
<path d="M796.2 472.9 L806.8 446.2" stroke-width="1.8"/>
<path d="M854.5 501.4 L870.9 478.0" stroke-width="1.8"/>
<path d="M905.0 543.0 L925.0 525.1" stroke-width="1.8"/>
<path d="M944.9 595.6 L970.0 582.1" stroke-width="1.8"/>
<path d="M971.9 656.5 L1003.1 648.1" stroke-width="1.8"/>
<path d="M984.1 722.6 L1020.7 721.5" stroke-width="1.8"/>
<path d="M980.7 790.3 L1016.6 797.7" stroke-width="1.8"/>
<path d="M961.6 856.0 L995.5 871.8" stroke-width="1.8"/>
<path d="M927.6 916.0 L959.2 940.9" stroke-width="1.8"/>
<path d="M880.2 966.9 L905.2 998.5" stroke-width="1.8"/>
<path d="M821.9 1005.9 L838.6 1041.7" stroke-width="1.8"/>
<path d="M755.6 1030.5 L763.6 1069.2" stroke-width="1.8"/>
<path d="M684.8 1039.3 L683.7 1077.3" stroke-width="1.8"/>
<path d="M613.3 1031.4 L603.9 1066.4" stroke-width="1.8"/>
<path d="M545.0 1007.0 L529.5 1035.8" stroke-width="1.8"/>
<path d="M483.7 967.1 L462.1 991.4" stroke-width="1.8"/>
<path d="M432.8 913.8 L405.1 933.3" stroke-width="1.8"/>
<path d="M395.4 849.7 L363.2 862.5" stroke-width="1.8"/>
<path d="M373.6 778.0 L338.9 783.1" stroke-width="1.8"/>
<path d="M368.8 702.7 L333.9 699.7" stroke-width="1.8"/>
<path d="M381.7 627.8 L350.7 617.5" stroke-width="1.8"/>
<path d="M411.8 557.3 L383.8 540.0" stroke-width="1.8"/>
<path d="M457.7 495.2 L434.5 471.9" stroke-width="1.8"/>
<path d="M517.1 444.9 L499.8 416.8" stroke-width="1.8"/>
<path d="M587.1 409.5 L576.6 378.0" stroke-width="1.8"/>
<path d="M663.9 391.1 L660.7 354.6" stroke-width="1.8"/>
<path d="M743.5 390.8 L748.8 354.7" stroke-width="1.8"/>
<path d="M821.6 409.1 L834.8 375.8" stroke-width="1.8"/>
<path d="M893.8 445.2 L913.1 417.6" stroke-width="1.8"/>
<path d="M956.2 497.4 L980.9 475.5" stroke-width="1.8"/>
<path d="M1005.3 563.0 L1031.8 548.7" stroke-width="1.8"/>
<path d="M1038.1 638.8 L1066.8 631.1" stroke-width="1.8"/>
<path d="M1052.7 720.6 L1081.1 719.8" stroke-width="1.8"/>
<path d="M1047.9 804.2 L1075.8 809.9" stroke-width="1.8"/>
<path d="M1023.8 885.0 L1047.0 895.8" stroke-width="1.8"/>
<path d="M981.4 958.5 L1001.0 974.0" stroke-width="1.8"/>
<path d="M922.8 1020.7 L936.6 1038.2" stroke-width="1.8"/>
<path d="M850.9 1068.1 L859.9 1087.4" stroke-width="1.8"/>
<path d="M769.5 1097.7 L773.5 1117.4" stroke-width="1.8"/>
<path d="M682.8 1107.9 L682.2 1127.7" stroke-width="1.8"/>
<path d="M595.5 1097.6 L590.4 1116.8" stroke-width="1.8"/>
<path d="M512.5 1067.4 L502.3 1086.3" stroke-width="1.8"/>
<path d="M438.1 1018.4 L423.8 1034.5" stroke-width="1.8"/>
<path d="M376.7 953.2 L358.6 965.8" stroke-width="1.8"/>
<path d="M331.6 875.0 L311.1 883.2" stroke-width="1.8"/>
<path d="M305.7 788.0 L281.3 791.6" stroke-width="1.8"/>
<path d="M300.5 696.8 L274.0 694.4" stroke-width="1.8"/>
<path d="M316.6 606.2 L287.0 596.4" stroke-width="1.8"/>
<path d="M353.4 521.3 L324.4 503.4" stroke-width="1.8"/>
<path d="M409.2 446.7 L385.1 422.6" stroke-width="1.8"/>
<path d="M481.1 386.5 L463.8 358.5" stroke-width="1.8"/>
<path d="M565.5 344.4 L555.2 313.3" stroke-width="1.8"/>
<path d="M657.9 322.7 L655.1 290.6" stroke-width="1.8"/>
<path d="M753.4 323.0 L758.0 291.9" stroke-width="1.8"/>
<path d="M846.9 345.4 L857.5 318.6" stroke-width="1.8"/>
<path d="M933.2 389.0 L949.7 365.3" stroke-width="1.8"/>
<path d="M1007.5 451.8 L1029.1 432.5" stroke-width="1.8"/>
<path d="M1065.7 530.5 L1088.9 517.9" stroke-width="1.8"/>
<path d="M1104.4 621.0 L1131.4 613.7" stroke-width="1.8"/>
<path d="M1121.2 718.6 L1149.2 717.8" stroke-width="1.8"/>
<path d="M1115.1 818.0 L1140.0 823.2" stroke-width="1.8"/>
<path d="M1086.0 914.0 L1108.0 924.2" stroke-width="1.8"/>
<path d="M1035.2 1001.1 L1051.3 1013.8" stroke-width="1.8"/>
<path d="M965.4 1074.5 L976.8 1089.0" stroke-width="1.8"/>
<path d="M879.9 1130.2 L887.9 1147.4" stroke-width="1.8"/>
<path d="M783.3 1164.9 L787.8 1186.3" stroke-width="1.8"/>
<path d="M680.8 1176.4 L680.0 1203.2" stroke-width="1.8"/>
<path d="M577.8 1163.9 L569.2 1195.9" stroke-width="1.8"/>
<path d="M479.9 1127.8 L461.4 1162.0" stroke-width="1.8"/>
<path d="M392.5 1069.7 L362.0 1103.9" stroke-width="1.8"/>
<path d="M320.5 992.5 L281.7 1019.7" stroke-width="1.8"/>
<path d="M267.9 900.3 L223.9 917.8" stroke-width="1.8"/>
<path d="M237.8 798.0 L196.9 803.9" stroke-width="1.8"/>
<path d="M232.2 690.8 L190.1 687.1" stroke-width="1.8"/>
<path d="M251.5 584.6 L209.0 570.6" stroke-width="1.8"/>
<path d="M295.0 485.3 L256.9 461.8" stroke-width="1.8"/>
<path d="M360.7 398.2 L330.2 367.7" stroke-width="1.8"/>
<path d="M445.1 328.2 L424.8 295.3" stroke-width="1.8"/>
<path d="M543.9 279.3 L532.3 244.3" stroke-width="1.8"/>
<path d="M651.9 254.4 L648.9 219.5" stroke-width="1.8"/>
<path d="M763.3 255.1 L767.7 225.6" stroke-width="1.8"/>
<path d="M872.2 281.6 L881.9 257.0" stroke-width="1.8"/>
<path d="M972.5 332.8 L987.4 311.6" stroke-width="1.8"/>
<path d="M1058.7 406.1 L1077.1 389.8" stroke-width="1.8"/>
<path d="M1126.1 497.9 L1147.5 486.3" stroke-width="1.8"/>
<path d="M1170.6 603.2 L1194.2 596.9" stroke-width="1.8"/>
<path d="M1189.8 716.6 L1213.4 715.9" stroke-width="1.8"/>
<path d="M1182.3 831.9 L1205.4 836.7" stroke-width="1.8"/>
<path d="M1148.2 942.9 L1167.8 952.1" stroke-width="1.8"/>
<path d="M1089.1 1043.6 L1106.3 1057.2" stroke-width="1.8"/>
<path d="M1007.9 1128.4 L1024.2 1148.9" stroke-width="1.8"/>
<path d="M908.9 1192.4 L922.6 1221.7" stroke-width="1.8"/>
<path d="M797.2 1232.1 L803.8 1263.7" stroke-width="1.8"/>
<path d="M678.8 1245.0 L678.0 1274.8" stroke-width="1.8"/>
<path d="M560.1 1230.2 L551.8 1261.1" stroke-width="1.8"/>
<path d="M447.4 1188.1 L430.9 1218.7" stroke-width="1.8"/>
<path d="M346.9 1120.9 L321.2 1149.8" stroke-width="1.8"/>
<path d="M264.3 1031.9 L228.0 1057.3" stroke-width="1.8"/>
<path d="M204.1 925.7 L159.2 943.6" stroke-width="1.8"/>
<path d="M169.9 807.9 L122.1 814.9" stroke-width="1.8"/>
<path d="M163.8 684.8 L117.9 680.8" stroke-width="1.8"/>
<path d="M186.4 563.1 L145.6 549.6" stroke-width="1.8"/>
<path d="M236.6 449.3 L200.1 426.7" stroke-width="1.8"/>
<path d="M312.1 349.7 L282.3 319.8" stroke-width="1.8"/>
<path d="M409.1 269.8 L391.2 240.8" stroke-width="1.8"/>
<path d="M522.3 214.2 L512.6 184.9" stroke-width="1.8"/>
<path d="M645.9 186.0 L643.4 157.7" stroke-width="1.8"/>
<path d="M773.3 187.2 L777.2 160.5" stroke-width="1.8"/>
<path d="M897.5 217.9 L908.2 191.0" stroke-width="1.8"/>
<path d="M1011.8 276.6 L1028.4 252.9" stroke-width="1.8"/>
<path d="M1110.0 360.5 L1130.3 342.5" stroke-width="1.8"/>
<path d="M1186.4 465.3 L1210.4 452.4" stroke-width="1.8"/>
<path d="M1236.9 585.5 L1262.6 578.6" stroke-width="1.8"/>
<path d="M1258.4 714.6 L1291.2 713.6" stroke-width="1.8"/>
<path d="M1249.5 845.8 L1282.7 852.6" stroke-width="1.8"/>
<path d="M1210.3 971.9 L1243.9 987.6" stroke-width="1.8"/>
<path d="M1142.9 1086.1 L1174.5 1111.2" stroke-width="1.8"/>
<path d="M1050.5 1182.2 L1075.5 1213.8" stroke-width="1.8"/>
<path d="M937.9 1254.6 L956.6 1294.6" stroke-width="1.8"/>
<path d="M811.1 1299.3 L820.5 1344.9" stroke-width="1.8"/>
<path d="M676.8 1313.6 L675.5 1360.2" stroke-width="1.8"/>
<path d="M542.3 1296.4 L530.5 1340.6" stroke-width="1.8"/>
<path d="M414.8 1248.5 L393.7 1287.8" stroke-width="1.8"/>
<path d="M301.3 1172.2 L272.7 1204.4" stroke-width="1.8"/>
<path d="M208.1 1071.2 L173.8 1095.3" stroke-width="1.8"/>
<path d="M140.4 951.0 L101.4 966.5" stroke-width="1.8"/>
<path d="M102.1 817.9 L61.7 823.8" stroke-width="1.8"/>
<path d="M95.5 678.9 L57.9 675.6" stroke-width="1.8"/>
<path d="M121.2 541.5 L86.5 530.0" stroke-width="1.8"/>
<path d="M178.2 413.3 L143.0 391.5" stroke-width="1.8"/>
<path d="M263.6 301.2 L229.7 267.3" stroke-width="1.8"/>
<path d="M373.0 211.4 L347.9 170.6" stroke-width="1.8"/>
<path d="M500.7 149.1 L488.3 111.6" stroke-width="1.8"/>
<path d="M639.9 117.7 L636.5 78.9" stroke-width="1.8"/>
</g>
<g font-family="Liberation Sans, sans-serif" font-size="19.5" letter-spacing="0.4" fill="#000" text-anchor="middle" stroke="#fff" stroke-width="0.3" paint-order="fill stroke">
<text transform="translate(717.3,471.8) rotate(5.2)" dy="0.358em">13-Sep</text>
<text transform="translate(883.2,541.7) rotate(45.0)" dy="0.358em">16-Sep</text>
<text transform="translate(968.2,706.3) rotate(84.8)" dy="0.358em">19-Sep</text>
<text transform="translate(925.5,893.9) rotate(305.1)" dy="0.358em">22-Sep</text>
<text transform="translate(769.3,1011.9) rotate(344.9)" dy="0.358em">25-Sep</text>
<text transform="translate(568.7,1002.1) rotate(384.8)" dy="0.358em">28-Sep</text>
<text transform="translate(417.2,862.2) rotate(424.6)" dy="0.358em">01-Oct</text>
<text transform="translate(389.6,654.7) rotate(284.1)" dy="0.358em">04-Oct</text>
<text transform="translate(504.8,471.4) rotate(324.0)" dy="0.358em">07-Oct</text>
<text transform="translate(715.8,403.1) rotate(363.8)" dy="0.358em">10-Oct</text>
<text transform="translate(926.2,488.1) rotate(403.7)" dy="0.358em">13-Oct</text>
<text transform="translate(1035.5,692.9) rotate(443.6)" dy="0.358em">16-Oct</text>
<text transform="translate(985.5,927.2) rotate(663.9)" dy="0.358em">19-Oct</text>
<text transform="translate(794.0,1076.0) rotate(703.8)" dy="0.358em">22-Oct</text>
<text transform="translate(546.3,1067.0) rotate(743.7)" dy="0.358em">25-Oct</text>
<text transform="translate(358.3,897.6) rotate(783.6)" dy="0.358em">28-Oct</text>
<text transform="translate(321.7,644.3) rotate(643.1)" dy="0.358em">31-Oct</text>
<text transform="translate(459.5,419.8) rotate(683.0)" dy="0.358em">03-Nov</text>
<text transform="translate(714.2,334.5) rotate(723.0)" dy="0.358em">06-Nov</text>
<text transform="translate(969.2,434.5) rotate(762.9)" dy="0.358em">09-Nov</text>
<text transform="translate(1102.8,679.5) rotate(802.8)" dy="0.358em">12-Nov</text>
<text transform="translate(1045.6,960.5) rotate(1023.1)" dy="0.358em">15-Nov</text>
<text transform="translate(818.5,1140.1) rotate(1063.0)" dy="0.358em">18-Nov</text>
<text transform="translate(523.9,1131.9) rotate(1103.0)" dy="0.358em">21-Nov</text>
<text transform="translate(299.5,932.9) rotate(1142.9)" dy="0.358em">24-Nov</text>
<text transform="translate(253.9,633.9) rotate(1002.5)" dy="0.358em">27-Nov</text>
<text transform="translate(414.2,368.2) rotate(1042.4)" dy="0.358em">30-Nov</text>
<text transform="translate(712.7,265.8) rotate(1082.3)" dy="0.358em">03-Dec</text>
<text transform="translate(1012.1,381.0) rotate(1122.3)" dy="0.358em">06-Dec</text>
<text transform="translate(1170.2,666.1) rotate(1162.2)" dy="0.358em">09-Dec</text>
<text transform="translate(1105.6,993.8) rotate(1382.5)" dy="0.358em">12-Dec</text>
<text transform="translate(843.1,1204.2) rotate(1422.5)" dy="0.358em">15-Dec</text>
<text transform="translate(501.6,1196.8) rotate(1462.4)" dy="0.358em">18-Dec</text>
<text transform="translate(240.6,968.3) rotate(1502.4)" dy="0.358em">21-Dec</text>
<text transform="translate(186.1,623.5) rotate(1362.0)" dy="0.358em">24-Dec</text>
<text transform="translate(369.0,316.6) rotate(1401.9)" dy="0.358em">27-Dec</text>
<text transform="translate(711.2,197.2) rotate(1441.9)" dy="0.358em">30-Dec</text>
<text transform="translate(1055.1,327.5) rotate(1481.8)" dy="0.358em">02-Jan</text>
<text transform="translate(1237.5,652.7) rotate(1521.8)" dy="0.358em">05-Jan</text>
<text transform="translate(1165.6,1027.1) rotate(1742.1)" dy="0.358em">08-Jan</text>
<text transform="translate(867.7,1268.3) rotate(1782.1)" dy="0.358em">11-Jan</text>
<text transform="translate(479.2,1261.7) rotate(1822.0)" dy="0.358em">14-Jan</text>
<text transform="translate(181.8,1003.6) rotate(1862.0)" dy="0.358em">17-Jan</text>
<text transform="translate(118.2,613.0) rotate(1721.6)" dy="0.358em">20-Jan</text>
</g>
<!-- legend -->
<circle cx="41.8" cy="28" r="15" fill="#b0b0b0"/>
<circle cx="41.8" cy="84" r="14.2" fill="none" stroke="#aaaaaa" stroke-width="2"/>
<g font-size="15.6" fill="#000" stroke="#fff" stroke-width="0.35" paint-order="fill stroke">
<text x="71.5" y="28" textLength="78" lengthAdjust="spacing">New Moon</text>
<text x="71.5" y="84" textLength="73" lengthAdjust="spacing">Full Moon</text>
<text x="1393.5" y="37.5" text-anchor="end" font-size="16.4" textLength="126" lengthAdjust="spacing">Period: 27 days</text>
<text x="6" y="1394.5" textLength="104" lengthAdjust="spacing">GI-UAF 2024</text>
<text x="1393.5" y="1395" text-anchor="end" textLength="319" lengthAdjust="spacing">Condegram plotted Jan 26 at 05:01 UT</text>
</g>
<g font-size="15" fill="#000" stroke="#000" stroke-width="0.2">
<text x="699" y="49.3" textLength="27.6" lengthAdjust="spacing">250</text>
<text x="699" y="72" textLength="27.6" lengthAdjust="spacing">190</text>
<text x="699" y="95.2" textLength="27.6" lengthAdjust="spacing">130</text>
</g>
<!-- scale bar -->
<g stroke="#000" stroke-width="1.3" fill="none">
<path d="M688 573.3 V642.1" stroke-width="2"/>
<path d="M671.4 573.3 H705.8 M671.4 642.1 H705.8"/>
</g>
<g font-size="18.8" fill="#000" stroke="#fff" stroke-width="0.4" paint-order="fill stroke">
<text x="719" y="579.4" textLength="75" lengthAdjust="spacing">250 sfu</text>
<text x="719" y="647.9" textLength="62.5" lengthAdjust="spacing">70 sfu</text>
</g>
<!-- centre text -->
<g fill="#ff3030" text-anchor="middle">
<text class="ser" transform="translate(695,726.7) scale(1.35,1)" font-size="32" textLength="201.5" lengthAdjust="spacing">10.7 cm Solar</text>
<text class="ser" transform="translate(692.5,758) scale(1.35,1)" font-size="32" textLength="157.8" lengthAdjust="spacing">Radio Flux</text>
</g>
<g fill="#ff3030" text-anchor="middle" stroke="#fff" stroke-width="0.5" paint-order="fill stroke">
<text transform="translate(693,803.9) scale(1.15,1)" font-size="32" textLength="94.8" lengthAdjust="spacing">70 sfu</text>
<text transform="translate(693,884.9) scale(1.1,1)" font-size="28" textLength="220.9" lengthAdjust="spacing">Latest: 20:00 UT</text>
<text transform="translate(692.5,911.6) scale(1.2,1)" font-size="28" textLength="171.7" lengthAdjust="spacing">2024-Jan-25</text>
</g>
</svg>
</body></html>
